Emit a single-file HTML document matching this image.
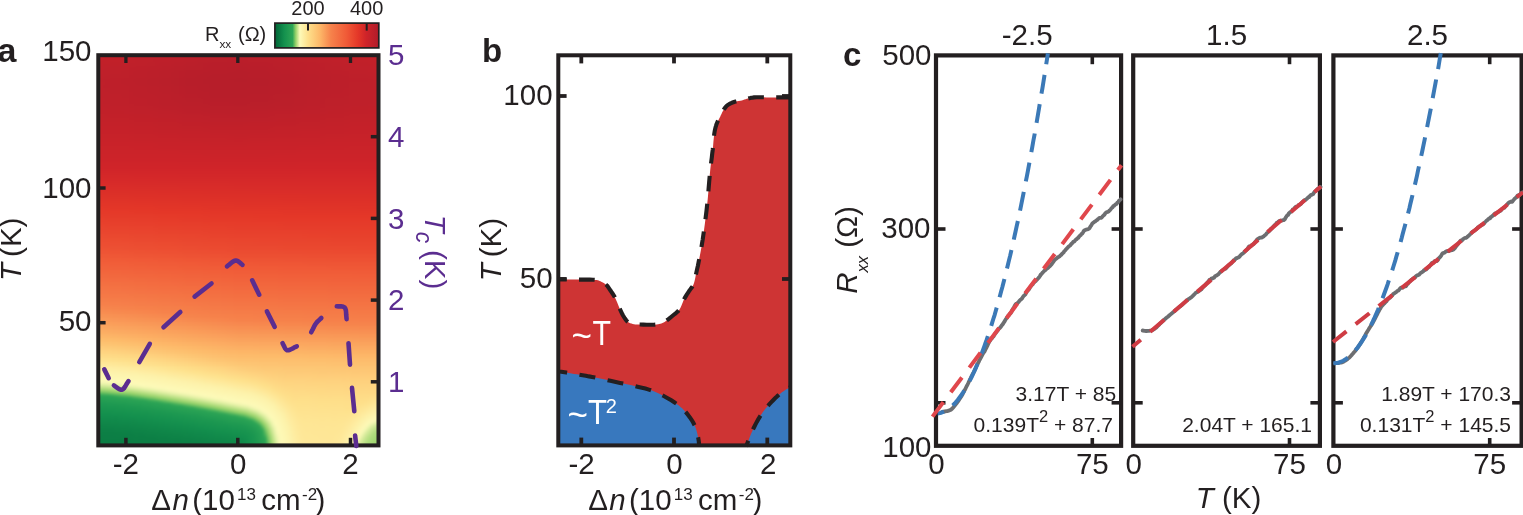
<!DOCTYPE html>
<html lang="en"><head><meta charset="utf-8"><title>Figure</title>
<style>html,body{margin:0;padding:0;background:#fff;}body{width:1523px;height:515px;overflow:hidden;}svg{display:block;}</style></head>
<body>
<svg width="1523" height="515" viewBox="0 0 1523 515" font-family="'Liberation Sans', sans-serif" fill="#231f20">
<rect width="1523" height="515" fill="#ffffff"/>
<g id="panel-a">
<defs><linearGradient id="r0" x1="90" y1="0" x2="388" y2="0" gradientUnits="userSpaceOnUse"><stop offset="0" stop-color="#c22129"/><stop offset="0.08333" stop-color="#c22029"/><stop offset="0.1667" stop-color="#c02029"/><stop offset="0.25" stop-color="#bf202a"/><stop offset="0.3333" stop-color="#bd1f2a"/><stop offset="0.4167" stop-color="#bc1f2a"/><stop offset="0.5" stop-color="#bc1f2a"/><stop offset="0.5833" stop-color="#bc1f2a"/><stop offset="0.6667" stop-color="#be1f2a"/><stop offset="0.75" stop-color="#bf202a"/><stop offset="0.8333" stop-color="#c12029"/><stop offset="0.9167" stop-color="#c22029"/><stop offset="1" stop-color="#c32129"/></linearGradient><linearGradient id="r1" x1="90" y1="0" x2="388" y2="0" gradientUnits="userSpaceOnUse"><stop offset="0" stop-color="#c22129"/><stop offset="0.08333" stop-color="#c12029"/><stop offset="0.1667" stop-color="#c02029"/><stop offset="0.25" stop-color="#be202a"/><stop offset="0.3333" stop-color="#bd1f2a"/><stop offset="0.4167" stop-color="#bb1f2a"/><stop offset="0.5" stop-color="#bb1f2a"/><stop offset="0.5833" stop-color="#bc1f2a"/><stop offset="0.6667" stop-color="#bd1f2a"/><stop offset="0.75" stop-color="#bf202a"/><stop offset="0.8333" stop-color="#c12029"/><stop offset="0.9167" stop-color="#c22029"/><stop offset="1" stop-color="#c22129"/></linearGradient><linearGradient id="r2" x1="90" y1="0" x2="388" y2="0" gradientUnits="userSpaceOnUse"><stop offset="0" stop-color="#c22029"/><stop offset="0.08333" stop-color="#c12029"/><stop offset="0.1667" stop-color="#bf202a"/><stop offset="0.25" stop-color="#be1f2a"/><stop offset="0.3333" stop-color="#bc1f2a"/><stop offset="0.4167" stop-color="#ba1f2a"/><stop offset="0.5" stop-color="#ba1e2a"/><stop offset="0.5833" stop-color="#bb1f2a"/><stop offset="0.6667" stop-color="#bc1f2a"/><stop offset="0.75" stop-color="#be202a"/><stop offset="0.8333" stop-color="#c0202a"/><stop offset="0.9167" stop-color="#c12029"/><stop offset="1" stop-color="#c22029"/></linearGradient><linearGradient id="r3" x1="90" y1="0" x2="388" y2="0" gradientUnits="userSpaceOnUse"><stop offset="0" stop-color="#c12029"/><stop offset="0.08333" stop-color="#c02029"/><stop offset="0.1667" stop-color="#bf202a"/><stop offset="0.25" stop-color="#bd1f2a"/><stop offset="0.3333" stop-color="#bb1f2a"/><stop offset="0.4167" stop-color="#b91e2a"/><stop offset="0.5" stop-color="#b91e2a"/><stop offset="0.5833" stop-color="#ba1e2a"/><stop offset="0.6667" stop-color="#bb1f2a"/><stop offset="0.75" stop-color="#bd1f2a"/><stop offset="0.8333" stop-color="#bf202a"/><stop offset="0.9167" stop-color="#c02029"/><stop offset="1" stop-color="#c12029"/></linearGradient><linearGradient id="r4" x1="90" y1="0" x2="388" y2="0" gradientUnits="userSpaceOnUse"><stop offset="0" stop-color="#c02029"/><stop offset="0.08333" stop-color="#bf202a"/><stop offset="0.1667" stop-color="#be1f2a"/><stop offset="0.25" stop-color="#bc1f2a"/><stop offset="0.3333" stop-color="#ba1f2a"/><stop offset="0.4167" stop-color="#b91e2a"/><stop offset="0.5" stop-color="#b81e2a"/><stop offset="0.5833" stop-color="#b91e2a"/><stop offset="0.6667" stop-color="#bb1f2a"/><stop offset="0.75" stop-color="#bd1f2a"/><stop offset="0.8333" stop-color="#be202a"/><stop offset="0.9167" stop-color="#c0202a"/><stop offset="1" stop-color="#c12029"/></linearGradient><linearGradient id="r5" x1="90" y1="0" x2="388" y2="0" gradientUnits="userSpaceOnUse"><stop offset="0" stop-color="#c0202a"/><stop offset="0.08333" stop-color="#bf202a"/><stop offset="0.1667" stop-color="#bd1f2a"/><stop offset="0.25" stop-color="#bb1f2a"/><stop offset="0.3333" stop-color="#b91e2a"/><stop offset="0.4167" stop-color="#b81e2a"/><stop offset="0.5" stop-color="#b71e2a"/><stop offset="0.5833" stop-color="#b81e2a"/><stop offset="0.6667" stop-color="#ba1e2a"/><stop offset="0.75" stop-color="#bc1f2a"/><stop offset="0.8333" stop-color="#be1f2a"/><stop offset="0.9167" stop-color="#bf202a"/><stop offset="1" stop-color="#c0202a"/></linearGradient><linearGradient id="r6" x1="90" y1="0" x2="388" y2="0" gradientUnits="userSpaceOnUse"><stop offset="0" stop-color="#bf202a"/><stop offset="0.08333" stop-color="#be202a"/><stop offset="0.1667" stop-color="#bd1f2a"/><stop offset="0.25" stop-color="#bb1f2a"/><stop offset="0.3333" stop-color="#b91e2a"/><stop offset="0.4167" stop-color="#b71e2a"/><stop offset="0.5" stop-color="#b71e2a"/><stop offset="0.5833" stop-color="#b81e2a"/><stop offset="0.6667" stop-color="#b91e2a"/><stop offset="0.75" stop-color="#bb1f2a"/><stop offset="0.8333" stop-color="#bd1f2a"/><stop offset="0.9167" stop-color="#be202a"/><stop offset="1" stop-color="#bf202a"/></linearGradient><linearGradient id="r7" x1="90" y1="0" x2="388" y2="0" gradientUnits="userSpaceOnUse"><stop offset="0" stop-color="#be202a"/><stop offset="0.08333" stop-color="#be1f2a"/><stop offset="0.1667" stop-color="#bc1f2a"/><stop offset="0.25" stop-color="#ba1f2a"/><stop offset="0.3333" stop-color="#b81e2a"/><stop offset="0.4167" stop-color="#b71e2a"/><stop offset="0.5" stop-color="#b61e2a"/><stop offset="0.5833" stop-color="#b71e2a"/><stop offset="0.6667" stop-color="#b91e2a"/><stop offset="0.75" stop-color="#bb1f2a"/><stop offset="0.8333" stop-color="#bd1f2a"/><stop offset="0.9167" stop-color="#be1f2a"/><stop offset="1" stop-color="#bf202a"/></linearGradient><linearGradient id="r8" x1="90" y1="0" x2="388" y2="0" gradientUnits="userSpaceOnUse"><stop offset="0" stop-color="#bf202a"/><stop offset="0.08333" stop-color="#be1f2a"/><stop offset="0.1667" stop-color="#bc1f2a"/><stop offset="0.25" stop-color="#ba1f2a"/><stop offset="0.3333" stop-color="#b81e2a"/><stop offset="0.4167" stop-color="#b71e2a"/><stop offset="0.5" stop-color="#b71e2a"/><stop offset="0.5833" stop-color="#b71e2a"/><stop offset="0.6667" stop-color="#b91e2a"/><stop offset="0.75" stop-color="#bb1f2a"/><stop offset="0.8333" stop-color="#bd1f2a"/><stop offset="0.9167" stop-color="#be202a"/><stop offset="1" stop-color="#bf202a"/></linearGradient><linearGradient id="r9" x1="90" y1="0" x2="388" y2="0" gradientUnits="userSpaceOnUse"><stop offset="0" stop-color="#bf202a"/><stop offset="0.08333" stop-color="#be1f2a"/><stop offset="0.1667" stop-color="#bd1f2a"/><stop offset="0.25" stop-color="#bb1f2a"/><stop offset="0.3333" stop-color="#b91e2a"/><stop offset="0.4167" stop-color="#b71e2a"/><stop offset="0.5" stop-color="#b71e2a"/><stop offset="0.5833" stop-color="#b81e2a"/><stop offset="0.6667" stop-color="#b91e2a"/><stop offset="0.75" stop-color="#bb1f2a"/><stop offset="0.8333" stop-color="#bd1f2a"/><stop offset="0.9167" stop-color="#be202a"/><stop offset="1" stop-color="#bf202a"/></linearGradient><linearGradient id="r10" x1="90" y1="0" x2="388" y2="0" gradientUnits="userSpaceOnUse"><stop offset="0" stop-color="#bf202a"/><stop offset="0.08333" stop-color="#be202a"/><stop offset="0.1667" stop-color="#bd1f2a"/><stop offset="0.25" stop-color="#bb1f2a"/><stop offset="0.3333" stop-color="#b91e2a"/><stop offset="0.4167" stop-color="#b81e2a"/><stop offset="0.5" stop-color="#b81e2a"/><stop offset="0.5833" stop-color="#b81e2a"/><stop offset="0.6667" stop-color="#ba1e2a"/><stop offset="0.75" stop-color="#bc1f2a"/><stop offset="0.8333" stop-color="#bd1f2a"/><stop offset="0.9167" stop-color="#bf202a"/><stop offset="1" stop-color="#bf202a"/></linearGradient><linearGradient id="r11" x1="90" y1="0" x2="388" y2="0" gradientUnits="userSpaceOnUse"><stop offset="0" stop-color="#bf202a"/><stop offset="0.08333" stop-color="#bf202a"/><stop offset="0.1667" stop-color="#bd1f2a"/><stop offset="0.25" stop-color="#bc1f2a"/><stop offset="0.3333" stop-color="#ba1e2a"/><stop offset="0.4167" stop-color="#b81e2a"/><stop offset="0.5" stop-color="#b81e2a"/><stop offset="0.5833" stop-color="#b91e2a"/><stop offset="0.6667" stop-color="#ba1f2a"/><stop offset="0.75" stop-color="#bc1f2a"/><stop offset="0.8333" stop-color="#be1f2a"/><stop offset="0.9167" stop-color="#bf202a"/><stop offset="1" stop-color="#c0202a"/></linearGradient><linearGradient id="r12" x1="90" y1="0" x2="388" y2="0" gradientUnits="userSpaceOnUse"><stop offset="0" stop-color="#c0202a"/><stop offset="0.08333" stop-color="#bf202a"/><stop offset="0.1667" stop-color="#be1f2a"/><stop offset="0.25" stop-color="#bc1f2a"/><stop offset="0.3333" stop-color="#ba1f2a"/><stop offset="0.4167" stop-color="#b91e2a"/><stop offset="0.5" stop-color="#b91e2a"/><stop offset="0.5833" stop-color="#b91e2a"/><stop offset="0.6667" stop-color="#bb1f2a"/><stop offset="0.75" stop-color="#bd1f2a"/><stop offset="0.8333" stop-color="#be202a"/><stop offset="0.9167" stop-color="#bf202a"/><stop offset="1" stop-color="#c0202a"/></linearGradient><linearGradient id="r13" x1="90" y1="0" x2="388" y2="0" gradientUnits="userSpaceOnUse"><stop offset="0" stop-color="#c0202a"/><stop offset="0.08333" stop-color="#bf202a"/><stop offset="0.1667" stop-color="#be1f2a"/><stop offset="0.25" stop-color="#bc1f2a"/><stop offset="0.3333" stop-color="#bb1f2a"/><stop offset="0.4167" stop-color="#ba1e2a"/><stop offset="0.5" stop-color="#b91e2a"/><stop offset="0.5833" stop-color="#ba1f2a"/><stop offset="0.6667" stop-color="#bb1f2a"/><stop offset="0.75" stop-color="#bd1f2a"/><stop offset="0.8333" stop-color="#be202a"/><stop offset="0.9167" stop-color="#bf202a"/><stop offset="1" stop-color="#c02029"/></linearGradient><linearGradient id="r14" x1="90" y1="0" x2="388" y2="0" gradientUnits="userSpaceOnUse"><stop offset="0" stop-color="#c12029"/><stop offset="0.08333" stop-color="#c0202a"/><stop offset="0.1667" stop-color="#bf202a"/><stop offset="0.25" stop-color="#bd1f2a"/><stop offset="0.3333" stop-color="#bc1f2a"/><stop offset="0.4167" stop-color="#bb1f2a"/><stop offset="0.5" stop-color="#bb1f2a"/><stop offset="0.5833" stop-color="#bb1f2a"/><stop offset="0.6667" stop-color="#bc1f2a"/><stop offset="0.75" stop-color="#be1f2a"/><stop offset="0.8333" stop-color="#bf202a"/><stop offset="0.9167" stop-color="#c02029"/><stop offset="1" stop-color="#c12029"/></linearGradient><linearGradient id="r15" x1="90" y1="0" x2="388" y2="0" gradientUnits="userSpaceOnUse"><stop offset="0" stop-color="#c12029"/><stop offset="0.08333" stop-color="#c12029"/><stop offset="0.1667" stop-color="#c0202a"/><stop offset="0.25" stop-color="#bf202a"/><stop offset="0.3333" stop-color="#bd1f2a"/><stop offset="0.4167" stop-color="#bc1f2a"/><stop offset="0.5" stop-color="#bc1f2a"/><stop offset="0.5833" stop-color="#bd1f2a"/><stop offset="0.6667" stop-color="#be1f2a"/><stop offset="0.75" stop-color="#bf202a"/><stop offset="0.8333" stop-color="#c02029"/><stop offset="0.9167" stop-color="#c12029"/><stop offset="1" stop-color="#c22029"/></linearGradient><linearGradient id="r16" x1="90" y1="0" x2="388" y2="0" gradientUnits="userSpaceOnUse"><stop offset="0" stop-color="#c22129"/><stop offset="0.08333" stop-color="#c22029"/><stop offset="0.1667" stop-color="#c12029"/><stop offset="0.25" stop-color="#c0202a"/><stop offset="0.3333" stop-color="#bf202a"/><stop offset="0.4167" stop-color="#be1f2a"/><stop offset="0.5" stop-color="#bd1f2a"/><stop offset="0.5833" stop-color="#be1f2a"/><stop offset="0.6667" stop-color="#bf202a"/><stop offset="0.75" stop-color="#c02029"/><stop offset="0.8333" stop-color="#c12029"/><stop offset="0.9167" stop-color="#c22129"/><stop offset="1" stop-color="#c22129"/></linearGradient><linearGradient id="r17" x1="90" y1="0" x2="388" y2="0" gradientUnits="userSpaceOnUse"><stop offset="0" stop-color="#c32129"/><stop offset="0.08333" stop-color="#c32129"/><stop offset="0.1667" stop-color="#c22029"/><stop offset="0.25" stop-color="#c12029"/><stop offset="0.3333" stop-color="#c0202a"/><stop offset="0.4167" stop-color="#bf202a"/><stop offset="0.5" stop-color="#bf202a"/><stop offset="0.5833" stop-color="#bf202a"/><stop offset="0.6667" stop-color="#c02029"/><stop offset="0.75" stop-color="#c12029"/><stop offset="0.8333" stop-color="#c22129"/><stop offset="0.9167" stop-color="#c32129"/><stop offset="1" stop-color="#c32129"/></linearGradient><linearGradient id="r18" x1="90" y1="0" x2="388" y2="0" gradientUnits="userSpaceOnUse"><stop offset="0" stop-color="#c42129"/><stop offset="0.08333" stop-color="#c42129"/><stop offset="0.1667" stop-color="#c32129"/><stop offset="0.25" stop-color="#c22129"/><stop offset="0.3333" stop-color="#c12029"/><stop offset="0.4167" stop-color="#c02029"/><stop offset="0.5" stop-color="#c02029"/><stop offset="0.5833" stop-color="#c12029"/><stop offset="0.6667" stop-color="#c12029"/><stop offset="0.75" stop-color="#c22129"/><stop offset="0.8333" stop-color="#c32129"/><stop offset="0.9167" stop-color="#c42129"/><stop offset="1" stop-color="#c42129"/></linearGradient><linearGradient id="r19" x1="90" y1="0" x2="388" y2="0" gradientUnits="userSpaceOnUse"><stop offset="0" stop-color="#c52129"/><stop offset="0.08333" stop-color="#c52129"/><stop offset="0.1667" stop-color="#c42129"/><stop offset="0.25" stop-color="#c32129"/><stop offset="0.3333" stop-color="#c22129"/><stop offset="0.4167" stop-color="#c22029"/><stop offset="0.5" stop-color="#c22029"/><stop offset="0.5833" stop-color="#c22029"/><stop offset="0.6667" stop-color="#c32129"/><stop offset="0.75" stop-color="#c32129"/><stop offset="0.8333" stop-color="#c42129"/><stop offset="0.9167" stop-color="#c52129"/><stop offset="1" stop-color="#c52129"/></linearGradient><linearGradient id="r20" x1="90" y1="0" x2="388" y2="0" gradientUnits="userSpaceOnUse"><stop offset="0" stop-color="#c62129"/><stop offset="0.08333" stop-color="#c62129"/><stop offset="0.1667" stop-color="#c52129"/><stop offset="0.25" stop-color="#c42129"/><stop offset="0.3333" stop-color="#c42129"/><stop offset="0.4167" stop-color="#c32129"/><stop offset="0.5" stop-color="#c32129"/><stop offset="0.5833" stop-color="#c32129"/><stop offset="0.6667" stop-color="#c42129"/><stop offset="0.75" stop-color="#c52129"/><stop offset="0.8333" stop-color="#c52129"/><stop offset="0.9167" stop-color="#c62129"/><stop offset="1" stop-color="#c62229"/></linearGradient><linearGradient id="r21" x1="90" y1="0" x2="388" y2="0" gradientUnits="userSpaceOnUse"><stop offset="0" stop-color="#c72229"/><stop offset="0.08333" stop-color="#c72229"/><stop offset="0.1667" stop-color="#c62229"/><stop offset="0.25" stop-color="#c62129"/><stop offset="0.3333" stop-color="#c52129"/><stop offset="0.4167" stop-color="#c52129"/><stop offset="0.5" stop-color="#c42129"/><stop offset="0.5833" stop-color="#c52129"/><stop offset="0.6667" stop-color="#c52129"/><stop offset="0.75" stop-color="#c62129"/><stop offset="0.8333" stop-color="#c62229"/><stop offset="0.9167" stop-color="#c72229"/><stop offset="1" stop-color="#c72229"/></linearGradient><linearGradient id="r22" x1="90" y1="0" x2="388" y2="0" gradientUnits="userSpaceOnUse"><stop offset="0" stop-color="#c82229"/><stop offset="0.08333" stop-color="#c82229"/><stop offset="0.1667" stop-color="#c72229"/><stop offset="0.25" stop-color="#c72229"/><stop offset="0.3333" stop-color="#c62229"/><stop offset="0.4167" stop-color="#c62229"/><stop offset="0.5" stop-color="#c62129"/><stop offset="0.5833" stop-color="#c62229"/><stop offset="0.6667" stop-color="#c72229"/><stop offset="0.75" stop-color="#c72229"/><stop offset="0.8333" stop-color="#c82229"/><stop offset="0.9167" stop-color="#c82229"/><stop offset="1" stop-color="#c82229"/></linearGradient><linearGradient id="r23" x1="90" y1="0" x2="388" y2="0" gradientUnits="userSpaceOnUse"><stop offset="0" stop-color="#c92229"/><stop offset="0.08333" stop-color="#c92229"/><stop offset="0.1667" stop-color="#c92229"/><stop offset="0.25" stop-color="#c82229"/><stop offset="0.3333" stop-color="#c82229"/><stop offset="0.4167" stop-color="#c72229"/><stop offset="0.5" stop-color="#c72229"/><stop offset="0.5833" stop-color="#c82229"/><stop offset="0.6667" stop-color="#c82229"/><stop offset="0.75" stop-color="#c82229"/><stop offset="0.8333" stop-color="#c92229"/><stop offset="0.9167" stop-color="#c92229"/><stop offset="1" stop-color="#c92229"/></linearGradient><linearGradient id="r24" x1="90" y1="0" x2="388" y2="0" gradientUnits="userSpaceOnUse"><stop offset="0" stop-color="#ca2329"/><stop offset="0.08333" stop-color="#ca2329"/><stop offset="0.1667" stop-color="#ca2229"/><stop offset="0.25" stop-color="#c92229"/><stop offset="0.3333" stop-color="#c92229"/><stop offset="0.4167" stop-color="#c92229"/><stop offset="0.5" stop-color="#c92229"/><stop offset="0.5833" stop-color="#c92229"/><stop offset="0.6667" stop-color="#c92229"/><stop offset="0.75" stop-color="#ca2229"/><stop offset="0.8333" stop-color="#ca2229"/><stop offset="0.9167" stop-color="#ca2329"/><stop offset="1" stop-color="#ca2329"/></linearGradient><linearGradient id="r25" x1="90" y1="0" x2="388" y2="0" gradientUnits="userSpaceOnUse"><stop offset="0" stop-color="#cb2329"/><stop offset="0.08333" stop-color="#cb2329"/><stop offset="0.1667" stop-color="#cb2329"/><stop offset="0.25" stop-color="#cb2329"/><stop offset="0.3333" stop-color="#ca2329"/><stop offset="0.4167" stop-color="#ca2329"/><stop offset="0.5" stop-color="#ca2329"/><stop offset="0.5833" stop-color="#ca2329"/><stop offset="0.6667" stop-color="#ca2329"/><stop offset="0.75" stop-color="#cb2329"/><stop offset="0.8333" stop-color="#cb2329"/><stop offset="0.9167" stop-color="#cb2329"/><stop offset="1" stop-color="#cb2329"/></linearGradient><linearGradient id="r26" x1="90" y1="0" x2="388" y2="0" gradientUnits="userSpaceOnUse"><stop offset="0" stop-color="#cc2329"/><stop offset="0.08333" stop-color="#cc2329"/><stop offset="0.1667" stop-color="#cc2329"/><stop offset="0.25" stop-color="#cc2329"/><stop offset="0.3333" stop-color="#cc2329"/><stop offset="0.4167" stop-color="#cb2329"/><stop offset="0.5" stop-color="#cb2329"/><stop offset="0.5833" stop-color="#cb2329"/><stop offset="0.6667" stop-color="#cc2329"/><stop offset="0.75" stop-color="#cc2329"/><stop offset="0.8333" stop-color="#cc2329"/><stop offset="0.9167" stop-color="#cc2329"/><stop offset="1" stop-color="#cc2329"/></linearGradient><linearGradient id="r27" x1="90" y1="0" x2="388" y2="0" gradientUnits="userSpaceOnUse"><stop offset="0" stop-color="#cd2329"/><stop offset="0.08333" stop-color="#cd2329"/><stop offset="0.1667" stop-color="#cd2329"/><stop offset="0.25" stop-color="#cd2329"/><stop offset="0.3333" stop-color="#cd2329"/><stop offset="0.4167" stop-color="#cd2329"/><stop offset="0.5" stop-color="#cd2329"/><stop offset="0.5833" stop-color="#cd2329"/><stop offset="0.6667" stop-color="#cd2329"/><stop offset="0.75" stop-color="#cd2329"/><stop offset="0.8333" stop-color="#cd2329"/><stop offset="0.9167" stop-color="#cd2329"/><stop offset="1" stop-color="#cd2329"/></linearGradient><linearGradient id="r28" x1="90" y1="0" x2="388" y2="0" gradientUnits="userSpaceOnUse"><stop offset="0" stop-color="#cf2429"/><stop offset="0.08333" stop-color="#cf2429"/><stop offset="0.1667" stop-color="#cf2429"/><stop offset="0.25" stop-color="#cf2429"/><stop offset="0.3333" stop-color="#ce2429"/><stop offset="0.4167" stop-color="#ce2429"/><stop offset="0.5" stop-color="#ce2429"/><stop offset="0.5833" stop-color="#ce2429"/><stop offset="0.6667" stop-color="#ce2429"/><stop offset="0.75" stop-color="#cf2429"/><stop offset="0.8333" stop-color="#cf2429"/><stop offset="0.9167" stop-color="#cf2429"/><stop offset="1" stop-color="#cf2429"/></linearGradient><linearGradient id="r29" x1="90" y1="0" x2="388" y2="0" gradientUnits="userSpaceOnUse"><stop offset="0" stop-color="#d02429"/><stop offset="0.08333" stop-color="#d02429"/><stop offset="0.1667" stop-color="#d02429"/><stop offset="0.25" stop-color="#d02429"/><stop offset="0.3333" stop-color="#d02429"/><stop offset="0.4167" stop-color="#d02429"/><stop offset="0.5" stop-color="#d02429"/><stop offset="0.5833" stop-color="#d02429"/><stop offset="0.6667" stop-color="#d02429"/><stop offset="0.75" stop-color="#d02429"/><stop offset="0.8333" stop-color="#d02429"/><stop offset="0.9167" stop-color="#d02429"/><stop offset="1" stop-color="#d02429"/></linearGradient><linearGradient id="r30" x1="90" y1="0" x2="388" y2="0" gradientUnits="userSpaceOnUse"><stop offset="0" stop-color="#d22629"/><stop offset="0.08333" stop-color="#d22629"/><stop offset="0.1667" stop-color="#d22629"/><stop offset="0.25" stop-color="#d22629"/><stop offset="0.3333" stop-color="#d22629"/><stop offset="0.4167" stop-color="#d22629"/><stop offset="0.5" stop-color="#d22629"/><stop offset="0.5833" stop-color="#d22629"/><stop offset="0.6667" stop-color="#d22629"/><stop offset="0.75" stop-color="#d22629"/><stop offset="0.8333" stop-color="#d22629"/><stop offset="0.9167" stop-color="#d22629"/><stop offset="1" stop-color="#d22629"/></linearGradient><linearGradient id="r31" x1="90" y1="0" x2="388" y2="0" gradientUnits="userSpaceOnUse"><stop offset="0" stop-color="#d42829"/><stop offset="0.08333" stop-color="#d42829"/><stop offset="0.1667" stop-color="#d42729"/><stop offset="0.25" stop-color="#d42729"/><stop offset="0.3333" stop-color="#d32729"/><stop offset="0.4167" stop-color="#d32729"/><stop offset="0.5" stop-color="#d32729"/><stop offset="0.5833" stop-color="#d32729"/><stop offset="0.6667" stop-color="#d32729"/><stop offset="0.75" stop-color="#d42729"/><stop offset="0.8333" stop-color="#d42729"/><stop offset="0.9167" stop-color="#d42729"/><stop offset="1" stop-color="#d42729"/></linearGradient><linearGradient id="r32" x1="90" y1="0" x2="388" y2="0" gradientUnits="userSpaceOnUse"><stop offset="0" stop-color="#d62929"/><stop offset="0.08333" stop-color="#d62929"/><stop offset="0.1667" stop-color="#d62929"/><stop offset="0.25" stop-color="#d52929"/><stop offset="0.3333" stop-color="#d52929"/><stop offset="0.4167" stop-color="#d52929"/><stop offset="0.5" stop-color="#d52929"/><stop offset="0.5833" stop-color="#d52929"/><stop offset="0.6667" stop-color="#d52929"/><stop offset="0.75" stop-color="#d52929"/><stop offset="0.8333" stop-color="#d52929"/><stop offset="0.9167" stop-color="#d52929"/><stop offset="1" stop-color="#d52929"/></linearGradient><linearGradient id="r33" x1="90" y1="0" x2="388" y2="0" gradientUnits="userSpaceOnUse"><stop offset="0" stop-color="#d82b29"/><stop offset="0.08333" stop-color="#d82b29"/><stop offset="0.1667" stop-color="#d72b29"/><stop offset="0.25" stop-color="#d72b29"/><stop offset="0.3333" stop-color="#d72b29"/><stop offset="0.4167" stop-color="#d72b29"/><stop offset="0.5" stop-color="#d72a29"/><stop offset="0.5833" stop-color="#d72a29"/><stop offset="0.6667" stop-color="#d72a29"/><stop offset="0.75" stop-color="#d72a29"/><stop offset="0.8333" stop-color="#d72a29"/><stop offset="0.9167" stop-color="#d72a29"/><stop offset="1" stop-color="#d72a29"/></linearGradient><linearGradient id="r34" x1="90" y1="0" x2="388" y2="0" gradientUnits="userSpaceOnUse"><stop offset="0" stop-color="#da2d29"/><stop offset="0.08333" stop-color="#da2d29"/><stop offset="0.1667" stop-color="#d92d29"/><stop offset="0.25" stop-color="#d92d29"/><stop offset="0.3333" stop-color="#d92c29"/><stop offset="0.4167" stop-color="#d92c29"/><stop offset="0.5" stop-color="#d82c29"/><stop offset="0.5833" stop-color="#d82c29"/><stop offset="0.6667" stop-color="#d82c29"/><stop offset="0.75" stop-color="#d82c29"/><stop offset="0.8333" stop-color="#d82c29"/><stop offset="0.9167" stop-color="#d82c29"/><stop offset="1" stop-color="#d82c29"/></linearGradient><linearGradient id="r35" x1="90" y1="0" x2="388" y2="0" gradientUnits="userSpaceOnUse"><stop offset="0" stop-color="#dc2f28"/><stop offset="0.08333" stop-color="#db2f28"/><stop offset="0.1667" stop-color="#db2f28"/><stop offset="0.25" stop-color="#db2e28"/><stop offset="0.3333" stop-color="#db2e28"/><stop offset="0.4167" stop-color="#da2e28"/><stop offset="0.5" stop-color="#da2e28"/><stop offset="0.5833" stop-color="#da2d29"/><stop offset="0.6667" stop-color="#da2d29"/><stop offset="0.75" stop-color="#da2d29"/><stop offset="0.8333" stop-color="#da2d29"/><stop offset="0.9167" stop-color="#da2d29"/><stop offset="1" stop-color="#da2d29"/></linearGradient><linearGradient id="r36" x1="90" y1="0" x2="388" y2="0" gradientUnits="userSpaceOnUse"><stop offset="0" stop-color="#de3128"/><stop offset="0.08333" stop-color="#dd3128"/><stop offset="0.1667" stop-color="#dd3028"/><stop offset="0.25" stop-color="#dd3028"/><stop offset="0.3333" stop-color="#dc3028"/><stop offset="0.4167" stop-color="#dc2f28"/><stop offset="0.5" stop-color="#dc2f28"/><stop offset="0.5833" stop-color="#dc2f28"/><stop offset="0.6667" stop-color="#dc2f28"/><stop offset="0.75" stop-color="#db2f28"/><stop offset="0.8333" stop-color="#db2f28"/><stop offset="0.9167" stop-color="#db2f28"/><stop offset="1" stop-color="#db2f28"/></linearGradient><linearGradient id="r37" x1="90" y1="0" x2="388" y2="0" gradientUnits="userSpaceOnUse"><stop offset="0" stop-color="#e03328"/><stop offset="0.08333" stop-color="#df3328"/><stop offset="0.1667" stop-color="#df3228"/><stop offset="0.25" stop-color="#de3228"/><stop offset="0.3333" stop-color="#de3128"/><stop offset="0.4167" stop-color="#de3128"/><stop offset="0.5" stop-color="#dd3128"/><stop offset="0.5833" stop-color="#dd3128"/><stop offset="0.6667" stop-color="#dd3028"/><stop offset="0.75" stop-color="#dd3028"/><stop offset="0.8333" stop-color="#dd3028"/><stop offset="0.9167" stop-color="#dd3028"/><stop offset="1" stop-color="#dd3028"/></linearGradient><linearGradient id="r38" x1="90" y1="0" x2="388" y2="0" gradientUnits="userSpaceOnUse"><stop offset="0" stop-color="#e23528"/><stop offset="0.08333" stop-color="#e13528"/><stop offset="0.1667" stop-color="#e13428"/><stop offset="0.25" stop-color="#e03428"/><stop offset="0.3333" stop-color="#e03328"/><stop offset="0.4167" stop-color="#e03328"/><stop offset="0.5" stop-color="#df3228"/><stop offset="0.5833" stop-color="#df3228"/><stop offset="0.6667" stop-color="#df3228"/><stop offset="0.75" stop-color="#df3228"/><stop offset="0.8333" stop-color="#df3228"/><stop offset="0.9167" stop-color="#df3228"/><stop offset="1" stop-color="#de3228"/></linearGradient><linearGradient id="r39" x1="90" y1="0" x2="388" y2="0" gradientUnits="userSpaceOnUse"><stop offset="0" stop-color="#e43728"/><stop offset="0.08333" stop-color="#e33628"/><stop offset="0.1667" stop-color="#e33628"/><stop offset="0.25" stop-color="#e23528"/><stop offset="0.3333" stop-color="#e23528"/><stop offset="0.4167" stop-color="#e13428"/><stop offset="0.5" stop-color="#e13428"/><stop offset="0.5833" stop-color="#e13428"/><stop offset="0.6667" stop-color="#e13428"/><stop offset="0.75" stop-color="#e03428"/><stop offset="0.8333" stop-color="#e03428"/><stop offset="0.9167" stop-color="#e03328"/><stop offset="1" stop-color="#e03328"/></linearGradient><linearGradient id="r40" x1="90" y1="0" x2="388" y2="0" gradientUnits="userSpaceOnUse"><stop offset="0" stop-color="#e53a29"/><stop offset="0.08333" stop-color="#e53929"/><stop offset="0.1667" stop-color="#e43828"/><stop offset="0.25" stop-color="#e43728"/><stop offset="0.3333" stop-color="#e43728"/><stop offset="0.4167" stop-color="#e33628"/><stop offset="0.5" stop-color="#e33628"/><stop offset="0.5833" stop-color="#e33628"/><stop offset="0.6667" stop-color="#e23528"/><stop offset="0.75" stop-color="#e23528"/><stop offset="0.8333" stop-color="#e23528"/><stop offset="0.9167" stop-color="#e23528"/><stop offset="1" stop-color="#e23528"/></linearGradient><linearGradient id="r41" x1="90" y1="0" x2="388" y2="0" gradientUnits="userSpaceOnUse"><stop offset="0" stop-color="#e63c2a"/><stop offset="0.08333" stop-color="#e53b2a"/><stop offset="0.1667" stop-color="#e53b2a"/><stop offset="0.25" stop-color="#e53a29"/><stop offset="0.3333" stop-color="#e53929"/><stop offset="0.4167" stop-color="#e43829"/><stop offset="0.5" stop-color="#e43828"/><stop offset="0.5833" stop-color="#e43728"/><stop offset="0.6667" stop-color="#e43728"/><stop offset="0.75" stop-color="#e43728"/><stop offset="0.8333" stop-color="#e43728"/><stop offset="0.9167" stop-color="#e43728"/><stop offset="1" stop-color="#e43728"/></linearGradient><linearGradient id="r42" x1="90" y1="0" x2="388" y2="0" gradientUnits="userSpaceOnUse"><stop offset="0" stop-color="#e73f2b"/><stop offset="0.08333" stop-color="#e63e2b"/><stop offset="0.1667" stop-color="#e63d2b"/><stop offset="0.25" stop-color="#e63c2a"/><stop offset="0.3333" stop-color="#e53b2a"/><stop offset="0.4167" stop-color="#e53a29"/><stop offset="0.5" stop-color="#e53a29"/><stop offset="0.5833" stop-color="#e53929"/><stop offset="0.6667" stop-color="#e53929"/><stop offset="0.75" stop-color="#e53929"/><stop offset="0.8333" stop-color="#e53929"/><stop offset="0.9167" stop-color="#e53929"/><stop offset="1" stop-color="#e43829"/></linearGradient><linearGradient id="r43" x1="90" y1="0" x2="388" y2="0" gradientUnits="userSpaceOnUse"><stop offset="0" stop-color="#e8412c"/><stop offset="0.08333" stop-color="#e7402c"/><stop offset="0.1667" stop-color="#e73f2c"/><stop offset="0.25" stop-color="#e73e2b"/><stop offset="0.3333" stop-color="#e63e2b"/><stop offset="0.4167" stop-color="#e63d2a"/><stop offset="0.5" stop-color="#e63c2a"/><stop offset="0.5833" stop-color="#e63c2a"/><stop offset="0.6667" stop-color="#e53b2a"/><stop offset="0.75" stop-color="#e53b2a"/><stop offset="0.8333" stop-color="#e53b2a"/><stop offset="0.9167" stop-color="#e53b2a"/><stop offset="1" stop-color="#e53a29"/></linearGradient><linearGradient id="r44" x1="90" y1="0" x2="388" y2="0" gradientUnits="userSpaceOnUse"><stop offset="0" stop-color="#e8442e"/><stop offset="0.08333" stop-color="#e8432d"/><stop offset="0.1667" stop-color="#e8422d"/><stop offset="0.25" stop-color="#e7412c"/><stop offset="0.3333" stop-color="#e7402c"/><stop offset="0.4167" stop-color="#e73f2b"/><stop offset="0.5" stop-color="#e63e2b"/><stop offset="0.5833" stop-color="#e63e2b"/><stop offset="0.6667" stop-color="#e63d2b"/><stop offset="0.75" stop-color="#e63d2b"/><stop offset="0.8333" stop-color="#e63d2b"/><stop offset="0.9167" stop-color="#e63d2a"/><stop offset="1" stop-color="#e63c2a"/></linearGradient><linearGradient id="r45" x1="90" y1="0" x2="388" y2="0" gradientUnits="userSpaceOnUse"><stop offset="0" stop-color="#e9462f"/><stop offset="0.08333" stop-color="#e9452e"/><stop offset="0.1667" stop-color="#e9442e"/><stop offset="0.25" stop-color="#e8432d"/><stop offset="0.3333" stop-color="#e8422d"/><stop offset="0.4167" stop-color="#e7412c"/><stop offset="0.5" stop-color="#e7402c"/><stop offset="0.5833" stop-color="#e7402c"/><stop offset="0.6667" stop-color="#e7402c"/><stop offset="0.75" stop-color="#e73f2c"/><stop offset="0.8333" stop-color="#e73f2b"/><stop offset="0.9167" stop-color="#e73f2b"/><stop offset="1" stop-color="#e73f2b"/></linearGradient><linearGradient id="r46" x1="90" y1="0" x2="388" y2="0" gradientUnits="userSpaceOnUse"><stop offset="0" stop-color="#ea4930"/><stop offset="0.08333" stop-color="#ea482f"/><stop offset="0.1667" stop-color="#e9472f"/><stop offset="0.25" stop-color="#e9462e"/><stop offset="0.3333" stop-color="#e9452e"/><stop offset="0.4167" stop-color="#e8432d"/><stop offset="0.5" stop-color="#e8422d"/><stop offset="0.5833" stop-color="#e8422d"/><stop offset="0.6667" stop-color="#e8422d"/><stop offset="0.75" stop-color="#e8412c"/><stop offset="0.8333" stop-color="#e7412c"/><stop offset="0.9167" stop-color="#e7412c"/><stop offset="1" stop-color="#e7412c"/></linearGradient><linearGradient id="r47" x1="90" y1="0" x2="388" y2="0" gradientUnits="userSpaceOnUse"><stop offset="0" stop-color="#eb4c31"/><stop offset="0.08333" stop-color="#eb4b30"/><stop offset="0.1667" stop-color="#ea4930"/><stop offset="0.25" stop-color="#ea482f"/><stop offset="0.3333" stop-color="#e9472f"/><stop offset="0.4167" stop-color="#e9462e"/><stop offset="0.5" stop-color="#e9452e"/><stop offset="0.5833" stop-color="#e9442e"/><stop offset="0.6667" stop-color="#e8442e"/><stop offset="0.75" stop-color="#e8442d"/><stop offset="0.8333" stop-color="#e8432d"/><stop offset="0.9167" stop-color="#e8432d"/><stop offset="1" stop-color="#e8432d"/></linearGradient><linearGradient id="r48" x1="90" y1="0" x2="388" y2="0" gradientUnits="userSpaceOnUse"><stop offset="0" stop-color="#ec4e32"/><stop offset="0.08333" stop-color="#ec4d32"/><stop offset="0.1667" stop-color="#eb4c31"/><stop offset="0.25" stop-color="#eb4b30"/><stop offset="0.3333" stop-color="#ea4930"/><stop offset="0.4167" stop-color="#ea482f"/><stop offset="0.5" stop-color="#e9472f"/><stop offset="0.5833" stop-color="#e9462f"/><stop offset="0.6667" stop-color="#e9462e"/><stop offset="0.75" stop-color="#e9462e"/><stop offset="0.8333" stop-color="#e9452e"/><stop offset="0.9167" stop-color="#e9452e"/><stop offset="1" stop-color="#e9452e"/></linearGradient><linearGradient id="r49" x1="90" y1="0" x2="388" y2="0" gradientUnits="userSpaceOnUse"><stop offset="0" stop-color="#ed5133"/><stop offset="0.08333" stop-color="#ec5033"/><stop offset="0.1667" stop-color="#ec4e32"/><stop offset="0.25" stop-color="#ec4d31"/><stop offset="0.3333" stop-color="#eb4c31"/><stop offset="0.4167" stop-color="#eb4a30"/><stop offset="0.5" stop-color="#ea4930"/><stop offset="0.5833" stop-color="#ea4930"/><stop offset="0.6667" stop-color="#ea482f"/><stop offset="0.75" stop-color="#ea482f"/><stop offset="0.8333" stop-color="#ea482f"/><stop offset="0.9167" stop-color="#ea472f"/><stop offset="1" stop-color="#e9472f"/></linearGradient><linearGradient id="r50" x1="90" y1="0" x2="388" y2="0" gradientUnits="userSpaceOnUse"><stop offset="0" stop-color="#ee5535"/><stop offset="0.08333" stop-color="#ee5334"/><stop offset="0.1667" stop-color="#ed5233"/><stop offset="0.25" stop-color="#ed5033"/><stop offset="0.3333" stop-color="#ec4f32"/><stop offset="0.4167" stop-color="#ec4d32"/><stop offset="0.5" stop-color="#eb4c31"/><stop offset="0.5833" stop-color="#eb4c31"/><stop offset="0.6667" stop-color="#eb4b31"/><stop offset="0.75" stop-color="#eb4b30"/><stop offset="0.8333" stop-color="#eb4a30"/><stop offset="0.9167" stop-color="#eb4a30"/><stop offset="1" stop-color="#ea4a30"/></linearGradient><linearGradient id="r51" x1="90" y1="0" x2="388" y2="0" gradientUnits="userSpaceOnUse"><stop offset="0" stop-color="#ef5936"/><stop offset="0.08333" stop-color="#ef5736"/><stop offset="0.1667" stop-color="#ee5535"/><stop offset="0.25" stop-color="#ee5434"/><stop offset="0.3333" stop-color="#ed5234"/><stop offset="0.4167" stop-color="#ed5133"/><stop offset="0.5" stop-color="#ec4f32"/><stop offset="0.5833" stop-color="#ec4f32"/><stop offset="0.6667" stop-color="#ec4f32"/><stop offset="0.75" stop-color="#ec4e32"/><stop offset="0.8333" stop-color="#ec4e32"/><stop offset="0.9167" stop-color="#ec4e32"/><stop offset="1" stop-color="#ec4d32"/></linearGradient><linearGradient id="r52" x1="90" y1="0" x2="388" y2="0" gradientUnits="userSpaceOnUse"><stop offset="0" stop-color="#f05c38"/><stop offset="0.08333" stop-color="#f05b37"/><stop offset="0.1667" stop-color="#f05937"/><stop offset="0.25" stop-color="#ef5836"/><stop offset="0.3333" stop-color="#ef5635"/><stop offset="0.4167" stop-color="#ee5535"/><stop offset="0.5" stop-color="#ee5334"/><stop offset="0.5833" stop-color="#ed5334"/><stop offset="0.6667" stop-color="#ed5234"/><stop offset="0.75" stop-color="#ed5233"/><stop offset="0.8333" stop-color="#ed5133"/><stop offset="0.9167" stop-color="#ed5133"/><stop offset="1" stop-color="#ed5133"/></linearGradient><linearGradient id="r53" x1="90" y1="0" x2="388" y2="0" gradientUnits="userSpaceOnUse"><stop offset="0" stop-color="#f15f3a"/><stop offset="0.08333" stop-color="#f15e39"/><stop offset="0.1667" stop-color="#f05d38"/><stop offset="0.25" stop-color="#f05b38"/><stop offset="0.3333" stop-color="#f05a37"/><stop offset="0.4167" stop-color="#ef5836"/><stop offset="0.5" stop-color="#ef5736"/><stop offset="0.5833" stop-color="#ef5635"/><stop offset="0.6667" stop-color="#ef5635"/><stop offset="0.75" stop-color="#ee5535"/><stop offset="0.8333" stop-color="#ee5535"/><stop offset="0.9167" stop-color="#ee5535"/><stop offset="1" stop-color="#ee5434"/></linearGradient><linearGradient id="r54" x1="90" y1="0" x2="388" y2="0" gradientUnits="userSpaceOnUse"><stop offset="0" stop-color="#f1633b"/><stop offset="0.08333" stop-color="#f1613b"/><stop offset="0.1667" stop-color="#f1603a"/><stop offset="0.25" stop-color="#f15e39"/><stop offset="0.3333" stop-color="#f05d38"/><stop offset="0.4167" stop-color="#f05c38"/><stop offset="0.5" stop-color="#f05a37"/><stop offset="0.5833" stop-color="#f05a37"/><stop offset="0.6667" stop-color="#f05937"/><stop offset="0.75" stop-color="#f05937"/><stop offset="0.8333" stop-color="#ef5836"/><stop offset="0.9167" stop-color="#ef5836"/><stop offset="1" stop-color="#ef5836"/></linearGradient><linearGradient id="r55" x1="90" y1="0" x2="388" y2="0" gradientUnits="userSpaceOnUse"><stop offset="0" stop-color="#f2663d"/><stop offset="0.08333" stop-color="#f2653c"/><stop offset="0.1667" stop-color="#f1633c"/><stop offset="0.25" stop-color="#f1623b"/><stop offset="0.3333" stop-color="#f1603a"/><stop offset="0.4167" stop-color="#f15f39"/><stop offset="0.5" stop-color="#f05d39"/><stop offset="0.5833" stop-color="#f05d38"/><stop offset="0.6667" stop-color="#f05c38"/><stop offset="0.75" stop-color="#f05c38"/><stop offset="0.8333" stop-color="#f05c38"/><stop offset="0.9167" stop-color="#f05b38"/><stop offset="1" stop-color="#f05b37"/></linearGradient><linearGradient id="r56" x1="90" y1="0" x2="388" y2="0" gradientUnits="userSpaceOnUse"><stop offset="0" stop-color="#f26a3f"/><stop offset="0.08333" stop-color="#f2683e"/><stop offset="0.1667" stop-color="#f2663d"/><stop offset="0.25" stop-color="#f2653c"/><stop offset="0.3333" stop-color="#f1633c"/><stop offset="0.4167" stop-color="#f1623b"/><stop offset="0.5" stop-color="#f1603a"/><stop offset="0.5833" stop-color="#f1603a"/><stop offset="0.6667" stop-color="#f15f3a"/><stop offset="0.75" stop-color="#f15f39"/><stop offset="0.8333" stop-color="#f15f39"/><stop offset="0.9167" stop-color="#f15e39"/><stop offset="1" stop-color="#f15e39"/></linearGradient><linearGradient id="r57" x1="90" y1="0" x2="388" y2="0" gradientUnits="userSpaceOnUse"><stop offset="0" stop-color="#f36d40"/><stop offset="0.08333" stop-color="#f36b40"/><stop offset="0.1667" stop-color="#f26a3f"/><stop offset="0.25" stop-color="#f2683e"/><stop offset="0.3333" stop-color="#f2663d"/><stop offset="0.4167" stop-color="#f2653c"/><stop offset="0.5" stop-color="#f1633c"/><stop offset="0.5833" stop-color="#f1633b"/><stop offset="0.6667" stop-color="#f1623b"/><stop offset="0.75" stop-color="#f1623b"/><stop offset="0.8333" stop-color="#f1613b"/><stop offset="0.9167" stop-color="#f1613b"/><stop offset="1" stop-color="#f1613a"/></linearGradient><linearGradient id="r58" x1="90" y1="0" x2="388" y2="0" gradientUnits="userSpaceOnUse"><stop offset="0" stop-color="#f37042"/><stop offset="0.08333" stop-color="#f36f41"/><stop offset="0.1667" stop-color="#f36d40"/><stop offset="0.25" stop-color="#f36b40"/><stop offset="0.3333" stop-color="#f2693f"/><stop offset="0.4167" stop-color="#f2683e"/><stop offset="0.5" stop-color="#f2663d"/><stop offset="0.5833" stop-color="#f2663d"/><stop offset="0.6667" stop-color="#f2653d"/><stop offset="0.75" stop-color="#f2653c"/><stop offset="0.8333" stop-color="#f2643c"/><stop offset="0.9167" stop-color="#f1643c"/><stop offset="1" stop-color="#f1643c"/></linearGradient><linearGradient id="r59" x1="90" y1="0" x2="388" y2="0" gradientUnits="userSpaceOnUse"><stop offset="0" stop-color="#f47444"/><stop offset="0.08333" stop-color="#f47243"/><stop offset="0.1667" stop-color="#f37042"/><stop offset="0.25" stop-color="#f36e41"/><stop offset="0.3333" stop-color="#f36d40"/><stop offset="0.4167" stop-color="#f36b3f"/><stop offset="0.5" stop-color="#f2693f"/><stop offset="0.5833" stop-color="#f2693e"/><stop offset="0.6667" stop-color="#f2683e"/><stop offset="0.75" stop-color="#f2683e"/><stop offset="0.8333" stop-color="#f2673e"/><stop offset="0.9167" stop-color="#f2673d"/><stop offset="1" stop-color="#f2663d"/></linearGradient><linearGradient id="r60" x1="90" y1="0" x2="388" y2="0" gradientUnits="userSpaceOnUse"><stop offset="0" stop-color="#f47746"/><stop offset="0.08333" stop-color="#f47545"/><stop offset="0.1667" stop-color="#f47344"/><stop offset="0.25" stop-color="#f47143"/><stop offset="0.3333" stop-color="#f37042"/><stop offset="0.4167" stop-color="#f36e41"/><stop offset="0.5" stop-color="#f36c40"/><stop offset="0.5833" stop-color="#f36c40"/><stop offset="0.6667" stop-color="#f36b40"/><stop offset="0.75" stop-color="#f36b3f"/><stop offset="0.8333" stop-color="#f26a3f"/><stop offset="0.9167" stop-color="#f26a3f"/><stop offset="1" stop-color="#f2693f"/></linearGradient><linearGradient id="r61" x1="90" y1="0" x2="388" y2="0" gradientUnits="userSpaceOnUse"><stop offset="0" stop-color="#f57a47"/><stop offset="0.08333" stop-color="#f57846"/><stop offset="0.1667" stop-color="#f47745"/><stop offset="0.25" stop-color="#f47544"/><stop offset="0.3333" stop-color="#f47343"/><stop offset="0.4167" stop-color="#f37142"/><stop offset="0.5" stop-color="#f36f41"/><stop offset="0.5833" stop-color="#f36f41"/><stop offset="0.6667" stop-color="#f36e41"/><stop offset="0.75" stop-color="#f36e41"/><stop offset="0.8333" stop-color="#f36d41"/><stop offset="0.9167" stop-color="#f36d40"/><stop offset="1" stop-color="#f36c40"/></linearGradient><linearGradient id="r62" x1="90" y1="0" x2="388" y2="0" gradientUnits="userSpaceOnUse"><stop offset="0" stop-color="#f57e49"/><stop offset="0.08333" stop-color="#f57c48"/><stop offset="0.1667" stop-color="#f57a47"/><stop offset="0.25" stop-color="#f47846"/><stop offset="0.3333" stop-color="#f47645"/><stop offset="0.4167" stop-color="#f47444"/><stop offset="0.5" stop-color="#f47243"/><stop offset="0.5833" stop-color="#f47243"/><stop offset="0.6667" stop-color="#f37143"/><stop offset="0.75" stop-color="#f37142"/><stop offset="0.8333" stop-color="#f37042"/><stop offset="0.9167" stop-color="#f37042"/><stop offset="1" stop-color="#f36f42"/></linearGradient><linearGradient id="r63" x1="90" y1="0" x2="388" y2="0" gradientUnits="userSpaceOnUse"><stop offset="0" stop-color="#f6814b"/><stop offset="0.08333" stop-color="#f67f4a"/><stop offset="0.1667" stop-color="#f57d49"/><stop offset="0.25" stop-color="#f57b48"/><stop offset="0.3333" stop-color="#f57947"/><stop offset="0.4167" stop-color="#f47746"/><stop offset="0.5" stop-color="#f47545"/><stop offset="0.5833" stop-color="#f47544"/><stop offset="0.6667" stop-color="#f47444"/><stop offset="0.75" stop-color="#f47444"/><stop offset="0.8333" stop-color="#f47344"/><stop offset="0.9167" stop-color="#f47343"/><stop offset="1" stop-color="#f47243"/></linearGradient><linearGradient id="r64" x1="90" y1="0" x2="388" y2="0" gradientUnits="userSpaceOnUse"><stop offset="0" stop-color="#f7874e"/><stop offset="0.08333" stop-color="#f6844c"/><stop offset="0.1667" stop-color="#f6814a"/><stop offset="0.25" stop-color="#f57f49"/><stop offset="0.3333" stop-color="#f57d48"/><stop offset="0.4167" stop-color="#f57a47"/><stop offset="0.5" stop-color="#f57846"/><stop offset="0.5833" stop-color="#f47846"/><stop offset="0.6667" stop-color="#f47746"/><stop offset="0.75" stop-color="#f47745"/><stop offset="0.8333" stop-color="#f47645"/><stop offset="0.9167" stop-color="#f47645"/><stop offset="1" stop-color="#f47545"/></linearGradient><linearGradient id="r65" x1="90" y1="0" x2="388" y2="0" gradientUnits="userSpaceOnUse"><stop offset="0" stop-color="#f88e52"/><stop offset="0.08333" stop-color="#f78a4f"/><stop offset="0.1667" stop-color="#f7864d"/><stop offset="0.25" stop-color="#f6824b"/><stop offset="0.3333" stop-color="#f6804a"/><stop offset="0.4167" stop-color="#f57e49"/><stop offset="0.5" stop-color="#f57c48"/><stop offset="0.5833" stop-color="#f57b48"/><stop offset="0.6667" stop-color="#f57b47"/><stop offset="0.75" stop-color="#f57a47"/><stop offset="0.8333" stop-color="#f57a47"/><stop offset="0.9167" stop-color="#f57946"/><stop offset="1" stop-color="#f57846"/></linearGradient><linearGradient id="r66" x1="90" y1="0" x2="388" y2="0" gradientUnits="userSpaceOnUse"><stop offset="0" stop-color="#f89555"/><stop offset="0.08333" stop-color="#f89153"/><stop offset="0.1667" stop-color="#f78d51"/><stop offset="0.25" stop-color="#f7884e"/><stop offset="0.3333" stop-color="#f6844c"/><stop offset="0.4167" stop-color="#f6814a"/><stop offset="0.5" stop-color="#f67f49"/><stop offset="0.5833" stop-color="#f57e49"/><stop offset="0.6667" stop-color="#f57e49"/><stop offset="0.75" stop-color="#f57d49"/><stop offset="0.8333" stop-color="#f57d48"/><stop offset="0.9167" stop-color="#f57c48"/><stop offset="1" stop-color="#f57c48"/></linearGradient><linearGradient id="r67" x1="90" y1="0" x2="388" y2="0" gradientUnits="userSpaceOnUse"><stop offset="0" stop-color="#f99c59"/><stop offset="0.08333" stop-color="#f99757"/><stop offset="0.1667" stop-color="#f89354"/><stop offset="0.25" stop-color="#f88f52"/><stop offset="0.3333" stop-color="#f78a50"/><stop offset="0.4167" stop-color="#f7864d"/><stop offset="0.5" stop-color="#f6824b"/><stop offset="0.5833" stop-color="#f6814b"/><stop offset="0.6667" stop-color="#f6814a"/><stop offset="0.75" stop-color="#f6804a"/><stop offset="0.8333" stop-color="#f6804a"/><stop offset="0.9167" stop-color="#f67f4a"/><stop offset="1" stop-color="#f67f49"/></linearGradient><linearGradient id="r68" x1="90" y1="0" x2="388" y2="0" gradientUnits="userSpaceOnUse"><stop offset="0" stop-color="#faa35d"/><stop offset="0.08333" stop-color="#fa9e5a"/><stop offset="0.1667" stop-color="#f99a58"/><stop offset="0.25" stop-color="#f89656"/><stop offset="0.3333" stop-color="#f89153"/><stop offset="0.4167" stop-color="#f78d51"/><stop offset="0.5" stop-color="#f7884f"/><stop offset="0.5833" stop-color="#f7874e"/><stop offset="0.6667" stop-color="#f7864d"/><stop offset="0.75" stop-color="#f6854d"/><stop offset="0.8333" stop-color="#f6844c"/><stop offset="0.9167" stop-color="#f6834c"/><stop offset="1" stop-color="#f6824b"/></linearGradient><linearGradient id="r69" x1="90" y1="0" x2="388" y2="0" gradientUnits="userSpaceOnUse"><stop offset="0" stop-color="#fba961"/><stop offset="0.08333" stop-color="#faa55e"/><stop offset="0.1667" stop-color="#faa15c"/><stop offset="0.25" stop-color="#f99c59"/><stop offset="0.3333" stop-color="#f99857"/><stop offset="0.4167" stop-color="#f89354"/><stop offset="0.5" stop-color="#f88f52"/><stop offset="0.5833" stop-color="#f88e51"/><stop offset="0.6667" stop-color="#f78d51"/><stop offset="0.75" stop-color="#f78c50"/><stop offset="0.8333" stop-color="#f78b50"/><stop offset="0.9167" stop-color="#f78a4f"/><stop offset="1" stop-color="#f7894f"/></linearGradient><linearGradient id="r70" x1="90" y1="0" x2="388" y2="0" gradientUnits="userSpaceOnUse"><stop offset="0" stop-color="#fcb064"/><stop offset="0.08333" stop-color="#fbab62"/><stop offset="0.1667" stop-color="#fba75f"/><stop offset="0.25" stop-color="#faa35d"/><stop offset="0.3333" stop-color="#fa9e5a"/><stop offset="0.4167" stop-color="#f99a58"/><stop offset="0.5" stop-color="#f89556"/><stop offset="0.5833" stop-color="#f89455"/><stop offset="0.6667" stop-color="#f89354"/><stop offset="0.75" stop-color="#f89254"/><stop offset="0.8333" stop-color="#f89153"/><stop offset="0.9167" stop-color="#f89053"/><stop offset="1" stop-color="#f88f52"/></linearGradient><linearGradient id="r71" x1="90" y1="0" x2="388" y2="0" gradientUnits="userSpaceOnUse"><stop offset="0" stop-color="#fdb768"/><stop offset="0.08333" stop-color="#fcb366"/><stop offset="0.1667" stop-color="#fcae63"/><stop offset="0.25" stop-color="#fba960"/><stop offset="0.3333" stop-color="#faa55e"/><stop offset="0.4167" stop-color="#faa05c"/><stop offset="0.5" stop-color="#f99c59"/><stop offset="0.5833" stop-color="#f99b59"/><stop offset="0.6667" stop-color="#f99a58"/><stop offset="0.75" stop-color="#f99957"/><stop offset="0.8333" stop-color="#f99857"/><stop offset="0.9167" stop-color="#f99756"/><stop offset="1" stop-color="#f89656"/></linearGradient><linearGradient id="r72" x1="90" y1="0" x2="388" y2="0" gradientUnits="userSpaceOnUse"><stop offset="0" stop-color="#fdbe6d"/><stop offset="0.08333" stop-color="#fdbb6a"/><stop offset="0.1667" stop-color="#fdb567"/><stop offset="0.25" stop-color="#fcb064"/><stop offset="0.3333" stop-color="#fbab61"/><stop offset="0.4167" stop-color="#fba75f"/><stop offset="0.5" stop-color="#faa25d"/><stop offset="0.5833" stop-color="#faa15c"/><stop offset="0.6667" stop-color="#faa05c"/><stop offset="0.75" stop-color="#fa9f5b"/><stop offset="0.8333" stop-color="#fa9e5a"/><stop offset="0.9167" stop-color="#f99d5a"/><stop offset="1" stop-color="#f99c59"/></linearGradient><linearGradient id="r73" x1="90" y1="0" x2="388" y2="0" gradientUnits="userSpaceOnUse"><stop offset="0" stop-color="#fdc574"/><stop offset="0.08333" stop-color="#fdc270"/><stop offset="0.1667" stop-color="#fdbd6c"/><stop offset="0.25" stop-color="#fdb768"/><stop offset="0.3333" stop-color="#fcb265"/><stop offset="0.4167" stop-color="#fcad63"/><stop offset="0.5" stop-color="#fba960"/><stop offset="0.5833" stop-color="#fba860"/><stop offset="0.6667" stop-color="#fba75f"/><stop offset="0.75" stop-color="#fba65f"/><stop offset="0.8333" stop-color="#faa55e"/><stop offset="0.9167" stop-color="#faa45d"/><stop offset="1" stop-color="#faa35d"/></linearGradient><linearGradient id="r74" x1="90" y1="0" x2="388" y2="0" gradientUnits="userSpaceOnUse"><stop offset="0" stop-color="#fecd7b"/><stop offset="0.08333" stop-color="#fdca77"/><stop offset="0.1667" stop-color="#fdc473"/><stop offset="0.25" stop-color="#fdbe6d"/><stop offset="0.3333" stop-color="#fdb969"/><stop offset="0.4167" stop-color="#fcb466"/><stop offset="0.5" stop-color="#fcaf64"/><stop offset="0.5833" stop-color="#fcae63"/><stop offset="0.6667" stop-color="#fcad63"/><stop offset="0.75" stop-color="#fbac62"/><stop offset="0.8333" stop-color="#fbab61"/><stop offset="0.9167" stop-color="#fbaa61"/><stop offset="1" stop-color="#fba960"/></linearGradient><linearGradient id="r75" x1="90" y1="0" x2="388" y2="0" gradientUnits="userSpaceOnUse"><stop offset="0" stop-color="#fed582"/><stop offset="0.08333" stop-color="#fed27f"/><stop offset="0.1667" stop-color="#fdcc7a"/><stop offset="0.25" stop-color="#fdc574"/><stop offset="0.3333" stop-color="#fdbf6e"/><stop offset="0.4167" stop-color="#fdba6a"/><stop offset="0.5" stop-color="#fdb667"/><stop offset="0.5833" stop-color="#fcb567"/><stop offset="0.6667" stop-color="#fcb466"/><stop offset="0.75" stop-color="#fcb366"/><stop offset="0.8333" stop-color="#fcb265"/><stop offset="0.9167" stop-color="#fcb164"/><stop offset="1" stop-color="#fcb064"/></linearGradient><linearGradient id="r76" x1="90" y1="0" x2="388" y2="0" gradientUnits="userSpaceOnUse"><stop offset="0" stop-color="#fedc88"/><stop offset="0.08333" stop-color="#fed985"/><stop offset="0.1667" stop-color="#fed581"/><stop offset="0.25" stop-color="#fecd7b"/><stop offset="0.3333" stop-color="#fdc674"/><stop offset="0.4167" stop-color="#fdbf6f"/><stop offset="0.5" stop-color="#fdbb6b"/><stop offset="0.5833" stop-color="#fdbb6a"/><stop offset="0.6667" stop-color="#fdba6a"/><stop offset="0.75" stop-color="#fdb969"/><stop offset="0.8333" stop-color="#fdb869"/><stop offset="0.9167" stop-color="#fdb768"/><stop offset="1" stop-color="#fdb667"/></linearGradient><linearGradient id="r77" x1="90" y1="0" x2="388" y2="0" gradientUnits="userSpaceOnUse"><stop offset="0" stop-color="#fee391"/><stop offset="0.08333" stop-color="#fee08c"/><stop offset="0.1667" stop-color="#fedc87"/><stop offset="0.25" stop-color="#fed582"/><stop offset="0.3333" stop-color="#fecd7b"/><stop offset="0.4167" stop-color="#fdc674"/><stop offset="0.5" stop-color="#fdc06f"/><stop offset="0.5833" stop-color="#fdbf6e"/><stop offset="0.6667" stop-color="#fdbf6e"/><stop offset="0.75" stop-color="#fdbe6d"/><stop offset="0.8333" stop-color="#fdbd6d"/><stop offset="0.9167" stop-color="#fdbc6c"/><stop offset="1" stop-color="#fdbc6b"/></linearGradient><linearGradient id="r78" x1="90" y1="0" x2="388" y2="0" gradientUnits="userSpaceOnUse"><stop offset="0" stop-color="#fee99b"/><stop offset="0.08333" stop-color="#fee797"/><stop offset="0.1667" stop-color="#fee28f"/><stop offset="0.25" stop-color="#fedc88"/><stop offset="0.3333" stop-color="#fed581"/><stop offset="0.4167" stop-color="#fecd7a"/><stop offset="0.5" stop-color="#fdc674"/><stop offset="0.5833" stop-color="#fdc372"/><stop offset="0.6667" stop-color="#fdc271"/><stop offset="0.75" stop-color="#fdc271"/><stop offset="0.8333" stop-color="#fdc170"/><stop offset="0.9167" stop-color="#fdc06f"/><stop offset="1" stop-color="#fdbf6f"/></linearGradient><linearGradient id="r79" x1="90" y1="0" x2="388" y2="0" gradientUnits="userSpaceOnUse"><stop offset="0" stop-color="#fdefa5"/><stop offset="0.08333" stop-color="#feeca1"/><stop offset="0.1667" stop-color="#fee89a"/><stop offset="0.25" stop-color="#fee390"/><stop offset="0.3333" stop-color="#fedc87"/><stop offset="0.4167" stop-color="#fed581"/><stop offset="0.5" stop-color="#fdcc7a"/><stop offset="0.5833" stop-color="#fdc775"/><stop offset="0.6667" stop-color="#fdc675"/><stop offset="0.75" stop-color="#fdc674"/><stop offset="0.8333" stop-color="#fdc573"/><stop offset="0.9167" stop-color="#fdc473"/><stop offset="1" stop-color="#fdc372"/></linearGradient><linearGradient id="r80" x1="90" y1="0" x2="388" y2="0" gradientUnits="userSpaceOnUse"><stop offset="0" stop-color="#fdf3ad"/><stop offset="0.08333" stop-color="#fdf2ab"/><stop offset="0.1667" stop-color="#fdeea4"/><stop offset="0.25" stop-color="#fee99b"/><stop offset="0.3333" stop-color="#fee38f"/><stop offset="0.4167" stop-color="#fedb87"/><stop offset="0.5" stop-color="#fed480"/><stop offset="0.5833" stop-color="#fdcc7a"/><stop offset="0.6667" stop-color="#fdca78"/><stop offset="0.75" stop-color="#fdc977"/><stop offset="0.8333" stop-color="#fdc977"/><stop offset="0.9167" stop-color="#fdc876"/><stop offset="1" stop-color="#fdc775"/></linearGradient><linearGradient id="r81" x1="90" y1="0" x2="388" y2="0" gradientUnits="userSpaceOnUse"><stop offset="0" stop-color="#fdf7b3"/><stop offset="0.08333" stop-color="#fdf5b1"/><stop offset="0.1667" stop-color="#fdf3ad"/><stop offset="0.25" stop-color="#fdeea5"/><stop offset="0.3333" stop-color="#fee99a"/><stop offset="0.4167" stop-color="#fee28e"/><stop offset="0.5" stop-color="#feda86"/><stop offset="0.5833" stop-color="#fed27f"/><stop offset="0.6667" stop-color="#fece7b"/><stop offset="0.75" stop-color="#fecd7b"/><stop offset="0.8333" stop-color="#fecd7a"/><stop offset="0.9167" stop-color="#fdcc79"/><stop offset="1" stop-color="#fdcb79"/></linearGradient><linearGradient id="h0" x1="0" y1="368" x2="0" y2="450" gradientUnits="userSpaceOnUse"><stop offset="0" stop-color="#fdefa5"/><stop offset="0.0488" stop-color="#fdf3ad"/><stop offset="0.146" stop-color="#fdf9b8"/><stop offset="0.171" stop-color="#f4f7b2"/><stop offset="0.195" stop-color="#e5f1a6"/><stop offset="0.268" stop-color="#99d36b"/><stop offset="0.293" stop-color="#70c262"/><stop offset="0.317" stop-color="#3cab58"/><stop offset="0.341" stop-color="#2aa354"/><stop offset="0.415" stop-color="#1f9a51"/><stop offset="0.512" stop-color="#16924e"/><stop offset="0.561" stop-color="#138e4c"/><stop offset="0.659" stop-color="#0f8649"/><stop offset="0.78" stop-color="#0c7f45"/><stop offset="1" stop-color="#0a7b43"/></linearGradient><linearGradient id="h1" x1="0" y1="368" x2="0" y2="450" gradientUnits="userSpaceOnUse"><stop offset="0" stop-color="#fdefa5"/><stop offset="0.0488" stop-color="#fdf3ad"/><stop offset="0.146" stop-color="#fdf9b7"/><stop offset="0.171" stop-color="#f5f7b3"/><stop offset="0.195" stop-color="#e6f1a7"/><stop offset="0.244" stop-color="#b4de81"/><stop offset="0.268" stop-color="#9bd46d"/><stop offset="0.293" stop-color="#74c362"/><stop offset="0.317" stop-color="#40ad59"/><stop offset="0.341" stop-color="#2aa354"/><stop offset="0.439" stop-color="#1c9850"/><stop offset="0.561" stop-color="#138e4d"/><stop offset="0.756" stop-color="#0c8045"/><stop offset="1" stop-color="#0a7b43"/></linearGradient><linearGradient id="h2" x1="0" y1="368" x2="0" y2="450" gradientUnits="userSpaceOnUse"><stop offset="0" stop-color="#fdeea4"/><stop offset="0.0732" stop-color="#fdf5b0"/><stop offset="0.146" stop-color="#fdf9b7"/><stop offset="0.171" stop-color="#f7f8b4"/><stop offset="0.195" stop-color="#e7f2a8"/><stop offset="0.244" stop-color="#b7df82"/><stop offset="0.268" stop-color="#9dd56e"/><stop offset="0.293" stop-color="#77c563"/><stop offset="0.317" stop-color="#45af5a"/><stop offset="0.341" stop-color="#2ba354"/><stop offset="0.439" stop-color="#1d9850"/><stop offset="0.561" stop-color="#138e4d"/><stop offset="0.756" stop-color="#0c8045"/><stop offset="1" stop-color="#0a7b43"/></linearGradient><linearGradient id="h3" x1="0" y1="368" x2="0" y2="450" gradientUnits="userSpaceOnUse"><stop offset="0" stop-color="#fdeea4"/><stop offset="0.0732" stop-color="#fdf5b0"/><stop offset="0.146" stop-color="#fdf9b7"/><stop offset="0.171" stop-color="#f8f8b5"/><stop offset="0.195" stop-color="#e9f2a9"/><stop offset="0.22" stop-color="#d2e998"/><stop offset="0.268" stop-color="#9fd670"/><stop offset="0.293" stop-color="#7bc664"/><stop offset="0.317" stop-color="#49b15a"/><stop offset="0.341" stop-color="#2ba354"/><stop offset="0.439" stop-color="#1d9851"/><stop offset="0.561" stop-color="#138f4d"/><stop offset="0.707" stop-color="#0e8347"/><stop offset="0.829" stop-color="#0c7e44"/><stop offset="1" stop-color="#0a7b43"/></linearGradient><linearGradient id="h4" x1="0" y1="368" x2="0" y2="450" gradientUnits="userSpaceOnUse"><stop offset="0" stop-color="#fdeea3"/><stop offset="0.0244" stop-color="#fdf1a9"/><stop offset="0.146" stop-color="#fdf9b7"/><stop offset="0.171" stop-color="#f9f9b6"/><stop offset="0.195" stop-color="#eaf3aa"/><stop offset="0.22" stop-color="#d5ea9a"/><stop offset="0.268" stop-color="#a1d672"/><stop offset="0.293" stop-color="#7ec865"/><stop offset="0.317" stop-color="#4eb35b"/><stop offset="0.341" stop-color="#2ba454"/><stop offset="0.439" stop-color="#1d9851"/><stop offset="0.561" stop-color="#138f4d"/><stop offset="0.683" stop-color="#0f8548"/><stop offset="0.78" stop-color="#0c7f45"/><stop offset="1" stop-color="#0a7b43"/></linearGradient><linearGradient id="h5" x1="0" y1="368" x2="0" y2="450" gradientUnits="userSpaceOnUse"><stop offset="0" stop-color="#fdeea3"/><stop offset="0.0732" stop-color="#fdf4af"/><stop offset="0.146" stop-color="#fdf9b7"/><stop offset="0.171" stop-color="#fbf9b7"/><stop offset="0.195" stop-color="#ebf3ab"/><stop offset="0.22" stop-color="#d7eb9c"/><stop offset="0.268" stop-color="#a4d774"/><stop offset="0.293" stop-color="#83ca65"/><stop offset="0.317" stop-color="#54b65c"/><stop offset="0.341" stop-color="#2ca455"/><stop offset="0.439" stop-color="#1e9951"/><stop offset="0.512" stop-color="#17934f"/><stop offset="0.561" stop-color="#138f4d"/><stop offset="0.659" stop-color="#108749"/><stop offset="0.78" stop-color="#0c7f45"/><stop offset="1" stop-color="#0a7b43"/></linearGradient><linearGradient id="h6" x1="0" y1="368" x2="0" y2="450" gradientUnits="userSpaceOnUse"><stop offset="0" stop-color="#fdeda2"/><stop offset="0.0488" stop-color="#fdf2ac"/><stop offset="0.171" stop-color="#fdfab9"/><stop offset="0.195" stop-color="#eef4ad"/><stop offset="0.22" stop-color="#dbed9f"/><stop offset="0.268" stop-color="#a8d977"/><stop offset="0.293" stop-color="#89cd67"/><stop offset="0.317" stop-color="#5cb95e"/><stop offset="0.341" stop-color="#2ca555"/><stop offset="0.439" stop-color="#1e9951"/><stop offset="0.585" stop-color="#128d4c"/><stop offset="0.78" stop-color="#0c7f45"/><stop offset="1" stop-color="#0a7b43"/></linearGradient><linearGradient id="h7" x1="0" y1="368" x2="0" y2="450" gradientUnits="userSpaceOnUse"><stop offset="0" stop-color="#feeda2"/><stop offset="0.0732" stop-color="#fdf4ae"/><stop offset="0.171" stop-color="#fdfab8"/><stop offset="0.195" stop-color="#f0f5af"/><stop offset="0.22" stop-color="#dfeea2"/><stop offset="0.268" stop-color="#acda7a"/><stop offset="0.293" stop-color="#90cf68"/><stop offset="0.317" stop-color="#64bd60"/><stop offset="0.341" stop-color="#2fa655"/><stop offset="0.39" stop-color="#259f53"/><stop offset="0.488" stop-color="#19954f"/><stop offset="0.561" stop-color="#14904e"/><stop offset="0.707" stop-color="#0e8448"/><stop offset="0.78" stop-color="#0c7f45"/><stop offset="1" stop-color="#0a7b43"/></linearGradient><linearGradient id="h8" x1="0" y1="368" x2="0" y2="450" gradientUnits="userSpaceOnUse"><stop offset="0" stop-color="#feeca1"/><stop offset="0.0488" stop-color="#fdf2ab"/><stop offset="0.171" stop-color="#fdf9b8"/><stop offset="0.195" stop-color="#f2f6b1"/><stop offset="0.22" stop-color="#e3f0a5"/><stop offset="0.293" stop-color="#96d269"/><stop offset="0.317" stop-color="#6cc061"/><stop offset="0.341" stop-color="#37a957"/><stop offset="0.366" stop-color="#2aa254"/><stop offset="0.463" stop-color="#1c9750"/><stop offset="0.561" stop-color="#14914e"/><stop offset="0.61" stop-color="#118b4b"/><stop offset="0.805" stop-color="#0c7f45"/><stop offset="1" stop-color="#0a7b43"/></linearGradient><linearGradient id="h9" x1="0" y1="368" x2="0" y2="450" gradientUnits="userSpaceOnUse"><stop offset="0" stop-color="#feeca0"/><stop offset="0.0488" stop-color="#fdf2aa"/><stop offset="0.171" stop-color="#fdf9b8"/><stop offset="0.195" stop-color="#f5f7b3"/><stop offset="0.22" stop-color="#e5f1a7"/><stop offset="0.293" stop-color="#9ad46c"/><stop offset="0.317" stop-color="#73c362"/><stop offset="0.341" stop-color="#3fad58"/><stop offset="0.366" stop-color="#2aa354"/><stop offset="0.463" stop-color="#1c9850"/><stop offset="0.585" stop-color="#138e4d"/><stop offset="0.78" stop-color="#0c8045"/><stop offset="1" stop-color="#0a7b43"/></linearGradient><linearGradient id="h10" x1="0" y1="368" x2="0" y2="450" gradientUnits="userSpaceOnUse"><stop offset="0" stop-color="#feeb9f"/><stop offset="0.0732" stop-color="#fdf3ad"/><stop offset="0.171" stop-color="#fdf9b7"/><stop offset="0.195" stop-color="#f7f8b4"/><stop offset="0.22" stop-color="#e8f2a9"/><stop offset="0.268" stop-color="#b8df83"/><stop offset="0.293" stop-color="#9ed56f"/><stop offset="0.317" stop-color="#79c664"/><stop offset="0.341" stop-color="#48b05a"/><stop offset="0.366" stop-color="#2ba354"/><stop offset="0.463" stop-color="#1d9850"/><stop offset="0.585" stop-color="#138f4d"/><stop offset="0.707" stop-color="#0f8548"/><stop offset="0.805" stop-color="#0c7f45"/><stop offset="1" stop-color="#0a7b43"/></linearGradient><linearGradient id="h11" x1="0" y1="368" x2="0" y2="450" gradientUnits="userSpaceOnUse"><stop offset="0" stop-color="#feeb9f"/><stop offset="0.0488" stop-color="#fdf1a9"/><stop offset="0.171" stop-color="#fdf9b7"/><stop offset="0.195" stop-color="#faf9b6"/><stop offset="0.22" stop-color="#eaf3aa"/><stop offset="0.244" stop-color="#d5eb9a"/><stop offset="0.293" stop-color="#a2d772"/><stop offset="0.317" stop-color="#80c865"/><stop offset="0.341" stop-color="#50b45c"/><stop offset="0.366" stop-color="#2ba455"/><stop offset="0.439" stop-color="#209b51"/><stop offset="0.512" stop-color="#18954f"/><stop offset="0.585" stop-color="#138f4d"/><stop offset="0.707" stop-color="#0f8548"/><stop offset="0.805" stop-color="#0c7f45"/><stop offset="1" stop-color="#0a7b43"/></linearGradient><linearGradient id="h12" x1="0" y1="368" x2="0" y2="450" gradientUnits="userSpaceOnUse"><stop offset="0" stop-color="#feeb9e"/><stop offset="0.0732" stop-color="#fdf3ac"/><stop offset="0.171" stop-color="#fdf9b6"/><stop offset="0.195" stop-color="#fcfab8"/><stop offset="0.22" stop-color="#edf4ac"/><stop offset="0.244" stop-color="#d9ec9d"/><stop offset="0.293" stop-color="#a6d875"/><stop offset="0.317" stop-color="#86cb66"/><stop offset="0.366" stop-color="#2ca455"/><stop offset="0.463" stop-color="#1e9951"/><stop offset="0.537" stop-color="#17934f"/><stop offset="0.634" stop-color="#118b4b"/><stop offset="0.805" stop-color="#0c7f45"/><stop offset="1" stop-color="#0a7b43"/></linearGradient><linearGradient id="h13" x1="0" y1="368" x2="0" y2="450" gradientUnits="userSpaceOnUse"><stop offset="0" stop-color="#feea9d"/><stop offset="0.0732" stop-color="#fdf2ab"/><stop offset="0.195" stop-color="#fdfab9"/><stop offset="0.22" stop-color="#eff5ae"/><stop offset="0.244" stop-color="#ddeea0"/><stop offset="0.293" stop-color="#aada79"/><stop offset="0.317" stop-color="#8dce67"/><stop offset="0.341" stop-color="#61bb5f"/><stop offset="0.366" stop-color="#2da555"/><stop offset="0.488" stop-color="#1b9750"/><stop offset="0.585" stop-color="#14904e"/><stop offset="0.732" stop-color="#0e8448"/><stop offset="0.805" stop-color="#0c7f45"/><stop offset="1" stop-color="#0a7c43"/></linearGradient><linearGradient id="h14" x1="0" y1="368" x2="0" y2="450" gradientUnits="userSpaceOnUse"><stop offset="0" stop-color="#feea9c"/><stop offset="0.0732" stop-color="#fdf2ab"/><stop offset="0.195" stop-color="#fdf9b8"/><stop offset="0.22" stop-color="#f2f6b1"/><stop offset="0.244" stop-color="#e3f0a4"/><stop offset="0.317" stop-color="#96d269"/><stop offset="0.341" stop-color="#6dc061"/><stop offset="0.366" stop-color="#38aa57"/><stop offset="0.39" stop-color="#2aa254"/><stop offset="0.488" stop-color="#1c9750"/><stop offset="0.585" stop-color="#14914e"/><stop offset="0.634" stop-color="#128b4b"/><stop offset="0.829" stop-color="#0c7f45"/><stop offset="1" stop-color="#0b7c43"/></linearGradient><linearGradient id="h15" x1="0" y1="368" x2="0" y2="450" gradientUnits="userSpaceOnUse"><stop offset="0" stop-color="#fee99b"/><stop offset="0.0732" stop-color="#fdf2aa"/><stop offset="0.171" stop-color="#fdf8b5"/><stop offset="0.195" stop-color="#fdf9b7"/><stop offset="0.22" stop-color="#f5f7b3"/><stop offset="0.244" stop-color="#e6f1a7"/><stop offset="0.268" stop-color="#cfe895"/><stop offset="0.317" stop-color="#9cd46d"/><stop offset="0.341" stop-color="#75c463"/><stop offset="0.366" stop-color="#43ae59"/><stop offset="0.39" stop-color="#2aa354"/><stop offset="0.488" stop-color="#1d9850"/><stop offset="0.61" stop-color="#138f4d"/><stop offset="0.756" stop-color="#0e8347"/><stop offset="0.878" stop-color="#0c7e44"/><stop offset="1" stop-color="#0b7c43"/></linearGradient><linearGradient id="h16" x1="0" y1="368" x2="0" y2="450" gradientUnits="userSpaceOnUse"><stop offset="0" stop-color="#fee89a"/><stop offset="0.0976" stop-color="#fdf3ad"/><stop offset="0.195" stop-color="#fdf9b7"/><stop offset="0.22" stop-color="#f9f8b6"/><stop offset="0.244" stop-color="#e9f2aa"/><stop offset="0.268" stop-color="#d4ea99"/><stop offset="0.317" stop-color="#a1d672"/><stop offset="0.341" stop-color="#7ec865"/><stop offset="0.366" stop-color="#4eb35b"/><stop offset="0.39" stop-color="#2ba455"/><stop offset="0.463" stop-color="#209b51"/><stop offset="0.537" stop-color="#18954f"/><stop offset="0.61" stop-color="#138f4d"/><stop offset="0.707" stop-color="#108749"/><stop offset="0.829" stop-color="#0c7f45"/><stop offset="1" stop-color="#0b7c43"/></linearGradient><linearGradient id="h17" x1="0" y1="368" x2="0" y2="450" gradientUnits="userSpaceOnUse"><stop offset="0" stop-color="#fee899"/><stop offset="0.0976" stop-color="#fdf3ac"/><stop offset="0.195" stop-color="#fdf9b6"/><stop offset="0.22" stop-color="#fcfab8"/><stop offset="0.244" stop-color="#edf4ac"/><stop offset="0.268" stop-color="#daec9d"/><stop offset="0.317" stop-color="#a7d876"/><stop offset="0.341" stop-color="#87cc66"/><stop offset="0.39" stop-color="#2ca455"/><stop offset="0.488" stop-color="#1e9951"/><stop offset="0.634" stop-color="#128d4c"/><stop offset="0.829" stop-color="#0c7f45"/><stop offset="1" stop-color="#0b7c43"/></linearGradient><linearGradient id="h18" x1="0" y1="368" x2="0" y2="450" gradientUnits="userSpaceOnUse"><stop offset="0" stop-color="#fee798"/><stop offset="0.0976" stop-color="#fdf2ab"/><stop offset="0.195" stop-color="#fdf8b6"/><stop offset="0.22" stop-color="#fdfab8"/><stop offset="0.244" stop-color="#f0f5af"/><stop offset="0.268" stop-color="#dfeea2"/><stop offset="0.317" stop-color="#acdb7a"/><stop offset="0.341" stop-color="#90d068"/><stop offset="0.366" stop-color="#65bd60"/><stop offset="0.39" stop-color="#30a656"/><stop offset="0.415" stop-color="#29a254"/><stop offset="0.537" stop-color="#19954f"/><stop offset="0.61" stop-color="#14904e"/><stop offset="0.732" stop-color="#0f8648"/><stop offset="0.854" stop-color="#0c7f45"/><stop offset="1" stop-color="#0b7c43"/></linearGradient><linearGradient id="h19" x1="0" y1="368" x2="0" y2="450" gradientUnits="userSpaceOnUse"><stop offset="0" stop-color="#fee797"/><stop offset="0.0976" stop-color="#fdf2ab"/><stop offset="0.22" stop-color="#fdf9b8"/><stop offset="0.244" stop-color="#f3f6b1"/><stop offset="0.268" stop-color="#e4f0a6"/><stop offset="0.341" stop-color="#98d36b"/><stop offset="0.366" stop-color="#70c262"/><stop offset="0.39" stop-color="#3cab58"/><stop offset="0.415" stop-color="#2aa354"/><stop offset="0.488" stop-color="#1f9a51"/><stop offset="0.561" stop-color="#18944f"/><stop offset="0.659" stop-color="#128c4b"/><stop offset="0.854" stop-color="#0c7f45"/><stop offset="1" stop-color="#0b7c43"/></linearGradient><linearGradient id="h20" x1="0" y1="368" x2="0" y2="450" gradientUnits="userSpaceOnUse"><stop offset="0" stop-color="#fee696"/><stop offset="0.0976" stop-color="#fdf1aa"/><stop offset="0.195" stop-color="#fdf8b5"/><stop offset="0.22" stop-color="#fdf9b7"/><stop offset="0.244" stop-color="#f7f8b4"/><stop offset="0.268" stop-color="#e7f2a8"/><stop offset="0.293" stop-color="#d1e996"/><stop offset="0.341" stop-color="#9ed56f"/><stop offset="0.366" stop-color="#79c563"/><stop offset="0.39" stop-color="#47b05a"/><stop offset="0.415" stop-color="#2ba354"/><stop offset="0.512" stop-color="#1d9851"/><stop offset="0.634" stop-color="#138f4d"/><stop offset="0.756" stop-color="#0f8548"/><stop offset="0.854" stop-color="#0c7f45"/><stop offset="1" stop-color="#0b7c43"/></linearGradient><linearGradient id="h21" x1="0" y1="368" x2="0" y2="450" gradientUnits="userSpaceOnUse"><stop offset="0" stop-color="#fee594"/><stop offset="0.0976" stop-color="#fdf1a9"/><stop offset="0.22" stop-color="#fdf9b7"/><stop offset="0.244" stop-color="#faf9b7"/><stop offset="0.268" stop-color="#ebf3ab"/><stop offset="0.293" stop-color="#d6eb9b"/><stop offset="0.341" stop-color="#a3d773"/><stop offset="0.366" stop-color="#82c965"/><stop offset="0.39" stop-color="#53b55c"/><stop offset="0.415" stop-color="#2ca455"/><stop offset="0.512" stop-color="#1e9951"/><stop offset="0.585" stop-color="#17934f"/><stop offset="0.683" stop-color="#118b4b"/><stop offset="0.854" stop-color="#0c7f45"/><stop offset="1" stop-color="#0b7c43"/></linearGradient><linearGradient id="h22" x1="0" y1="368" x2="0" y2="450" gradientUnits="userSpaceOnUse"><stop offset="0" stop-color="#fee593"/><stop offset="0.122" stop-color="#fdf2ac"/><stop offset="0.244" stop-color="#fdfab9"/><stop offset="0.268" stop-color="#eef4ae"/><stop offset="0.293" stop-color="#dceda0"/><stop offset="0.341" stop-color="#aada78"/><stop offset="0.366" stop-color="#8cce67"/><stop offset="0.39" stop-color="#61bb5f"/><stop offset="0.415" stop-color="#2da555"/><stop offset="0.537" stop-color="#1b9750"/><stop offset="0.634" stop-color="#14904e"/><stop offset="0.756" stop-color="#0f8648"/><stop offset="0.878" stop-color="#0c7f45"/><stop offset="1" stop-color="#0b7d44"/></linearGradient><linearGradient id="h23" x1="0" y1="368" x2="0" y2="450" gradientUnits="userSpaceOnUse"><stop offset="0" stop-color="#fee492"/><stop offset="0.122" stop-color="#fdf2ab"/><stop offset="0.244" stop-color="#fdf9b8"/><stop offset="0.268" stop-color="#f2f6b1"/><stop offset="0.293" stop-color="#e3f0a5"/><stop offset="0.366" stop-color="#97d269"/><stop offset="0.39" stop-color="#6dc161"/><stop offset="0.415" stop-color="#39aa57"/><stop offset="0.439" stop-color="#2aa254"/><stop offset="0.537" stop-color="#1c9850"/><stop offset="0.61" stop-color="#16924f"/><stop offset="0.659" stop-color="#138e4c"/><stop offset="0.732" stop-color="#10884a"/><stop offset="0.878" stop-color="#0c7f45"/><stop offset="1" stop-color="#0b7d44"/></linearGradient><linearGradient id="h24" x1="0" y1="368" x2="0" y2="450" gradientUnits="userSpaceOnUse"><stop offset="0" stop-color="#fee390"/><stop offset="0.122" stop-color="#fdf2aa"/><stop offset="0.22" stop-color="#fdf8b5"/><stop offset="0.244" stop-color="#fdf9b7"/><stop offset="0.268" stop-color="#f6f7b4"/><stop offset="0.293" stop-color="#e7f1a8"/><stop offset="0.317" stop-color="#d0e896"/><stop offset="0.366" stop-color="#9dd56e"/><stop offset="0.39" stop-color="#78c563"/><stop offset="0.415" stop-color="#46b05a"/><stop offset="0.439" stop-color="#2ba354"/><stop offset="0.537" stop-color="#1d9851"/><stop offset="0.659" stop-color="#138f4d"/><stop offset="0.78" stop-color="#0f8548"/><stop offset="0.878" stop-color="#0c7f45"/><stop offset="1" stop-color="#0b7d44"/></linearGradient><linearGradient id="h25" x1="0" y1="368" x2="0" y2="450" gradientUnits="userSpaceOnUse"><stop offset="0" stop-color="#fee28f"/><stop offset="0.122" stop-color="#fdf1a9"/><stop offset="0.244" stop-color="#fdf9b7"/><stop offset="0.268" stop-color="#faf9b7"/><stop offset="0.293" stop-color="#ebf3ab"/><stop offset="0.317" stop-color="#d6eb9b"/><stop offset="0.366" stop-color="#a3d773"/><stop offset="0.39" stop-color="#82ca65"/><stop offset="0.415" stop-color="#54b65c"/><stop offset="0.439" stop-color="#2ca455"/><stop offset="0.537" stop-color="#1e9951"/><stop offset="0.61" stop-color="#17934f"/><stop offset="0.707" stop-color="#118b4b"/><stop offset="0.878" stop-color="#0c7f45"/><stop offset="1" stop-color="#0b7d44"/></linearGradient><linearGradient id="h26" x1="0" y1="368" x2="0" y2="450" gradientUnits="userSpaceOnUse"><stop offset="0" stop-color="#fee18e"/><stop offset="0.122" stop-color="#fdf0a7"/><stop offset="0.171" stop-color="#fdf4af"/><stop offset="0.268" stop-color="#fdfab9"/><stop offset="0.293" stop-color="#eef4ae"/><stop offset="0.317" stop-color="#ddeda0"/><stop offset="0.366" stop-color="#aada78"/><stop offset="0.39" stop-color="#8dce67"/><stop offset="0.415" stop-color="#61bb5f"/><stop offset="0.439" stop-color="#2da555"/><stop offset="0.561" stop-color="#1b9750"/><stop offset="0.659" stop-color="#14904e"/><stop offset="0.78" stop-color="#0f8648"/><stop offset="0.902" stop-color="#0c7f45"/><stop offset="1" stop-color="#0b7d44"/></linearGradient><linearGradient id="h27" x1="0" y1="368" x2="0" y2="450" gradientUnits="userSpaceOnUse"><stop offset="0" stop-color="#fee18c"/><stop offset="0.146" stop-color="#fdf2ab"/><stop offset="0.268" stop-color="#fdf9b8"/><stop offset="0.293" stop-color="#f2f6b1"/><stop offset="0.317" stop-color="#e3f0a5"/><stop offset="0.39" stop-color="#97d26a"/><stop offset="0.415" stop-color="#6ec161"/><stop offset="0.439" stop-color="#39aa57"/><stop offset="0.463" stop-color="#2aa254"/><stop offset="0.561" stop-color="#1c9850"/><stop offset="0.634" stop-color="#16924f"/><stop offset="0.829" stop-color="#0e8347"/><stop offset="0.927" stop-color="#0c7f45"/><stop offset="1" stop-color="#0b7d44"/></linearGradient><linearGradient id="h28" x1="0" y1="368" x2="0" y2="450" gradientUnits="userSpaceOnUse"><stop offset="0" stop-color="#fee08b"/><stop offset="0.146" stop-color="#fdf1aa"/><stop offset="0.244" stop-color="#fdf8b5"/><stop offset="0.268" stop-color="#fdf9b7"/><stop offset="0.293" stop-color="#f6f7b4"/><stop offset="0.317" stop-color="#e7f1a8"/><stop offset="0.366" stop-color="#b7df82"/><stop offset="0.39" stop-color="#9dd56f"/><stop offset="0.415" stop-color="#78c563"/><stop offset="0.439" stop-color="#47b05a"/><stop offset="0.463" stop-color="#2ba354"/><stop offset="0.561" stop-color="#1d9851"/><stop offset="0.683" stop-color="#138f4d"/><stop offset="0.805" stop-color="#0f8548"/><stop offset="0.902" stop-color="#0c7f45"/><stop offset="1" stop-color="#0b7d44"/></linearGradient><linearGradient id="h29" x1="0" y1="368" x2="0" y2="450" gradientUnits="userSpaceOnUse"><stop offset="0" stop-color="#fedf8a"/><stop offset="0.146" stop-color="#fdf1a9"/><stop offset="0.268" stop-color="#fdf9b7"/><stop offset="0.293" stop-color="#faf9b7"/><stop offset="0.317" stop-color="#ebf3ab"/><stop offset="0.341" stop-color="#d6eb9b"/><stop offset="0.39" stop-color="#a4d773"/><stop offset="0.415" stop-color="#83ca65"/><stop offset="0.439" stop-color="#54b65c"/><stop offset="0.463" stop-color="#2ca455"/><stop offset="0.561" stop-color="#1e9951"/><stop offset="0.634" stop-color="#17934f"/><stop offset="0.732" stop-color="#118b4b"/><stop offset="0.902" stop-color="#0c7f45"/><stop offset="1" stop-color="#0b7d44"/></linearGradient><linearGradient id="h30" x1="0" y1="368" x2="0" y2="450" gradientUnits="userSpaceOnUse"><stop offset="0" stop-color="#fede89"/><stop offset="0.0488" stop-color="#fee593"/><stop offset="0.171" stop-color="#fdf2ac"/><stop offset="0.293" stop-color="#fdfab9"/><stop offset="0.317" stop-color="#eff4ae"/><stop offset="0.341" stop-color="#ddeda0"/><stop offset="0.39" stop-color="#aada78"/><stop offset="0.415" stop-color="#8dce67"/><stop offset="0.439" stop-color="#61bb5f"/><stop offset="0.463" stop-color="#2da555"/><stop offset="0.585" stop-color="#1b9750"/><stop offset="0.683" stop-color="#14904e"/><stop offset="0.805" stop-color="#0f8648"/><stop offset="0.927" stop-color="#0c7f45"/><stop offset="1" stop-color="#0b7e44"/></linearGradient><linearGradient id="h31" x1="0" y1="368" x2="0" y2="450" gradientUnits="userSpaceOnUse"><stop offset="0" stop-color="#fedd89"/><stop offset="0.0244" stop-color="#fee18c"/><stop offset="0.171" stop-color="#fdf2ab"/><stop offset="0.293" stop-color="#fdf9b8"/><stop offset="0.317" stop-color="#f2f6b1"/><stop offset="0.341" stop-color="#e3f0a5"/><stop offset="0.415" stop-color="#97d26a"/><stop offset="0.439" stop-color="#6ec161"/><stop offset="0.463" stop-color="#3aaa57"/><stop offset="0.488" stop-color="#2aa254"/><stop offset="0.585" stop-color="#1c9850"/><stop offset="0.634" stop-color="#18944f"/><stop offset="0.732" stop-color="#128c4b"/><stop offset="0.927" stop-color="#0c7f45"/><stop offset="1" stop-color="#0b7e44"/></linearGradient><linearGradient id="h32" x1="0" y1="368" x2="0" y2="450" gradientUnits="userSpaceOnUse"><stop offset="0" stop-color="#fedc88"/><stop offset="0.0488" stop-color="#fee390"/><stop offset="0.171" stop-color="#fdf1aa"/><stop offset="0.268" stop-color="#fdf8b5"/><stop offset="0.293" stop-color="#fdf9b7"/><stop offset="0.317" stop-color="#f6f7b4"/><stop offset="0.341" stop-color="#e7f1a8"/><stop offset="0.39" stop-color="#b7df82"/><stop offset="0.415" stop-color="#9dd56f"/><stop offset="0.439" stop-color="#79c563"/><stop offset="0.463" stop-color="#47b05a"/><stop offset="0.488" stop-color="#2ba354"/><stop offset="0.585" stop-color="#1d9851"/><stop offset="0.707" stop-color="#138f4d"/><stop offset="0.829" stop-color="#0f8548"/><stop offset="0.927" stop-color="#0c7f45"/><stop offset="1" stop-color="#0b7e44"/></linearGradient><linearGradient id="h33" x1="0" y1="368" x2="0" y2="450" gradientUnits="userSpaceOnUse"><stop offset="0" stop-color="#fedb87"/><stop offset="0.0488" stop-color="#fee28f"/><stop offset="0.171" stop-color="#fdf1a9"/><stop offset="0.293" stop-color="#fdf9b7"/><stop offset="0.317" stop-color="#faf9b7"/><stop offset="0.341" stop-color="#ebf3ab"/><stop offset="0.366" stop-color="#d7eb9b"/><stop offset="0.415" stop-color="#a4d774"/><stop offset="0.439" stop-color="#83ca65"/><stop offset="0.463" stop-color="#54b65d"/><stop offset="0.488" stop-color="#2ca455"/><stop offset="0.585" stop-color="#1e9951"/><stop offset="0.659" stop-color="#17934f"/><stop offset="0.756" stop-color="#118b4b"/><stop offset="0.927" stop-color="#0c7f45"/><stop offset="1" stop-color="#0c7e44"/></linearGradient><linearGradient id="h34" x1="0" y1="368" x2="0" y2="450" gradientUnits="userSpaceOnUse"><stop offset="0" stop-color="#fedb86"/><stop offset="0.0488" stop-color="#fee18d"/><stop offset="0.0976" stop-color="#fee899"/><stop offset="0.195" stop-color="#fdf2ac"/><stop offset="0.317" stop-color="#fdfab9"/><stop offset="0.341" stop-color="#eff4ae"/><stop offset="0.366" stop-color="#ddeea0"/><stop offset="0.415" stop-color="#aada79"/><stop offset="0.439" stop-color="#8ece67"/><stop offset="0.463" stop-color="#62bc5f"/><stop offset="0.488" stop-color="#2da555"/><stop offset="0.585" stop-color="#1f9951"/><stop offset="0.683" stop-color="#15924e"/><stop offset="0.829" stop-color="#0f8649"/><stop offset="0.951" stop-color="#0c7f45"/><stop offset="1" stop-color="#0c7e44"/></linearGradient><linearGradient id="h35" x1="0" y1="368" x2="0" y2="450" gradientUnits="userSpaceOnUse"><stop offset="0" stop-color="#feda85"/><stop offset="0.0488" stop-color="#fee18c"/><stop offset="0.195" stop-color="#fdf2ab"/><stop offset="0.317" stop-color="#fdf9b8"/><stop offset="0.341" stop-color="#f3f6b1"/><stop offset="0.366" stop-color="#e4f0a5"/><stop offset="0.439" stop-color="#98d36a"/><stop offset="0.463" stop-color="#6fc162"/><stop offset="0.488" stop-color="#3cab58"/><stop offset="0.512" stop-color="#2aa354"/><stop offset="0.585" stop-color="#1f9a51"/><stop offset="0.732" stop-color="#138e4d"/><stop offset="0.927" stop-color="#0d8045"/><stop offset="1" stop-color="#0c7e44"/></linearGradient><linearGradient id="h36" x1="0" y1="368" x2="0" y2="450" gradientUnits="userSpaceOnUse"><stop offset="0" stop-color="#fed985"/><stop offset="0.0488" stop-color="#fee08b"/><stop offset="0.195" stop-color="#fdf1aa"/><stop offset="0.293" stop-color="#fdf8b5"/><stop offset="0.317" stop-color="#fdf9b7"/><stop offset="0.341" stop-color="#f7f8b4"/><stop offset="0.366" stop-color="#e8f2a8"/><stop offset="0.39" stop-color="#d1e997"/><stop offset="0.439" stop-color="#9fd570"/><stop offset="0.463" stop-color="#7bc664"/><stop offset="0.488" stop-color="#4ab15b"/><stop offset="0.512" stop-color="#2ba354"/><stop offset="0.61" stop-color="#1d9851"/><stop offset="0.707" stop-color="#15924e"/><stop offset="0.78" stop-color="#118a4b"/><stop offset="0.951" stop-color="#0c7f45"/><stop offset="1" stop-color="#0c7e44"/></linearGradient><linearGradient id="h37" x1="0" y1="368" x2="0" y2="450" gradientUnits="userSpaceOnUse"><stop offset="0" stop-color="#fed884"/><stop offset="0.0488" stop-color="#fedf8a"/><stop offset="0.195" stop-color="#fdf1a8"/><stop offset="0.317" stop-color="#fdf9b7"/><stop offset="0.341" stop-color="#fbf9b7"/><stop offset="0.366" stop-color="#ecf3ac"/><stop offset="0.39" stop-color="#d8ec9c"/><stop offset="0.439" stop-color="#a6d875"/><stop offset="0.463" stop-color="#86cb66"/><stop offset="0.512" stop-color="#2ca455"/><stop offset="0.61" stop-color="#1e9951"/><stop offset="0.756" stop-color="#128d4c"/><stop offset="0.951" stop-color="#0c7f45"/><stop offset="1" stop-color="#0c7e45"/></linearGradient><linearGradient id="h38" x1="0" y1="368" x2="0" y2="450" gradientUnits="userSpaceOnUse"><stop offset="0" stop-color="#fed783"/><stop offset="0.0732" stop-color="#fee18d"/><stop offset="0.22" stop-color="#fdf2ab"/><stop offset="0.341" stop-color="#fdfab9"/><stop offset="0.366" stop-color="#f0f5af"/><stop offset="0.39" stop-color="#dfeea2"/><stop offset="0.439" stop-color="#acdb7a"/><stop offset="0.463" stop-color="#91d068"/><stop offset="0.488" stop-color="#67be60"/><stop offset="0.512" stop-color="#32a756"/><stop offset="0.537" stop-color="#29a254"/><stop offset="0.659" stop-color="#19954f"/><stop offset="0.732" stop-color="#14914e"/><stop offset="0.78" stop-color="#118b4b"/><stop offset="0.976" stop-color="#0c7f45"/><stop offset="1" stop-color="#0c7f45"/></linearGradient><linearGradient id="h39" x1="0" y1="368" x2="0" y2="450" gradientUnits="userSpaceOnUse"><stop offset="0" stop-color="#fed682"/><stop offset="0.0732" stop-color="#fee08c"/><stop offset="0.22" stop-color="#fdf2ab"/><stop offset="0.341" stop-color="#fdf9b8"/><stop offset="0.366" stop-color="#f4f7b2"/><stop offset="0.39" stop-color="#e5f1a6"/><stop offset="0.463" stop-color="#9ad46c"/><stop offset="0.488" stop-color="#73c362"/><stop offset="0.512" stop-color="#40ad59"/><stop offset="0.537" stop-color="#2aa354"/><stop offset="0.634" stop-color="#1d9850"/><stop offset="0.756" stop-color="#138f4d"/><stop offset="0.878" stop-color="#0f8548"/><stop offset="0.976" stop-color="#0c7f45"/><stop offset="1" stop-color="#0c7f45"/></linearGradient><linearGradient id="h40" x1="0" y1="368" x2="0" y2="450" gradientUnits="userSpaceOnUse"><stop offset="0" stop-color="#fed582"/><stop offset="0.0732" stop-color="#fedf8a"/><stop offset="0.22" stop-color="#fdf1a9"/><stop offset="0.317" stop-color="#fdf8b5"/><stop offset="0.341" stop-color="#fdf9b7"/><stop offset="0.366" stop-color="#f8f8b5"/><stop offset="0.39" stop-color="#e9f2aa"/><stop offset="0.415" stop-color="#d4ea99"/><stop offset="0.463" stop-color="#a1d671"/><stop offset="0.488" stop-color="#7fc865"/><stop offset="0.512" stop-color="#4fb45b"/><stop offset="0.537" stop-color="#2ba455"/><stop offset="0.659" stop-color="#1a9650"/><stop offset="0.732" stop-color="#15924e"/><stop offset="0.78" stop-color="#128c4c"/><stop offset="0.976" stop-color="#0c7f45"/><stop offset="1" stop-color="#0c7f45"/></linearGradient><linearGradient id="h41" x1="0" y1="368" x2="0" y2="450" gradientUnits="userSpaceOnUse"><stop offset="0" stop-color="#fed481"/><stop offset="0.0976" stop-color="#fee28e"/><stop offset="0.244" stop-color="#fdf3ac"/><stop offset="0.366" stop-color="#fcfab9"/><stop offset="0.39" stop-color="#edf4ad"/><stop offset="0.415" stop-color="#dbed9e"/><stop offset="0.463" stop-color="#a8d977"/><stop offset="0.488" stop-color="#8acd67"/><stop offset="0.512" stop-color="#5dba5e"/><stop offset="0.537" stop-color="#2da555"/><stop offset="0.634" stop-color="#1e9951"/><stop offset="0.756" stop-color="#14904e"/><stop offset="0.878" stop-color="#0f8648"/><stop offset="1" stop-color="#0c7f45"/></linearGradient><linearGradient id="h42" x1="0" y1="368" x2="0" y2="450" gradientUnits="userSpaceOnUse"><stop offset="0" stop-color="#fed480"/><stop offset="0.0976" stop-color="#fee18d"/><stop offset="0.244" stop-color="#fdf2ab"/><stop offset="0.341" stop-color="#fdf8b6"/><stop offset="0.366" stop-color="#fdfab8"/><stop offset="0.39" stop-color="#f1f6b0"/><stop offset="0.415" stop-color="#e2efa4"/><stop offset="0.488" stop-color="#96d269"/><stop offset="0.512" stop-color="#6dc061"/><stop offset="0.537" stop-color="#38aa57"/><stop offset="0.561" stop-color="#2aa254"/><stop offset="0.659" stop-color="#1c9850"/><stop offset="0.707" stop-color="#18944f"/><stop offset="0.805" stop-color="#128c4b"/><stop offset="1" stop-color="#0c7f45"/></linearGradient><linearGradient id="h43" x1="0" y1="368" x2="0" y2="450" gradientUnits="userSpaceOnUse"><stop offset="0" stop-color="#fed37f"/><stop offset="0.0976" stop-color="#fee08b"/><stop offset="0.244" stop-color="#fdf2aa"/><stop offset="0.341" stop-color="#fdf8b5"/><stop offset="0.366" stop-color="#fdf9b7"/><stop offset="0.39" stop-color="#f6f7b4"/><stop offset="0.415" stop-color="#e7f1a8"/><stop offset="0.463" stop-color="#b7df82"/><stop offset="0.488" stop-color="#9ed56f"/><stop offset="0.512" stop-color="#79c664"/><stop offset="0.537" stop-color="#48b15a"/><stop offset="0.561" stop-color="#2ba354"/><stop offset="0.659" stop-color="#1d9851"/><stop offset="0.756" stop-color="#15924e"/><stop offset="0.829" stop-color="#118a4b"/><stop offset="1" stop-color="#0c7f45"/></linearGradient><linearGradient id="h44" x1="0" y1="368" x2="0" y2="450" gradientUnits="userSpaceOnUse"><stop offset="0" stop-color="#fed27f"/><stop offset="0.0976" stop-color="#fedf8a"/><stop offset="0.244" stop-color="#fdf1a9"/><stop offset="0.366" stop-color="#fdf9b7"/><stop offset="0.39" stop-color="#fbf9b7"/><stop offset="0.415" stop-color="#ebf3ab"/><stop offset="0.439" stop-color="#d8eb9c"/><stop offset="0.488" stop-color="#a5d875"/><stop offset="0.512" stop-color="#86cb66"/><stop offset="0.561" stop-color="#2ca455"/><stop offset="0.659" stop-color="#1e9951"/><stop offset="0.805" stop-color="#128d4c"/><stop offset="1" stop-color="#0c7f45"/></linearGradient><linearGradient id="h45" x1="0" y1="368" x2="0" y2="450" gradientUnits="userSpaceOnUse"><stop offset="0" stop-color="#fed17e"/><stop offset="0.122" stop-color="#fee18d"/><stop offset="0.244" stop-color="#fdf0a7"/><stop offset="0.341" stop-color="#fdf7b4"/><stop offset="0.39" stop-color="#fdfab9"/><stop offset="0.415" stop-color="#f0f5af"/><stop offset="0.439" stop-color="#dfeea2"/><stop offset="0.488" stop-color="#addb7b"/><stop offset="0.512" stop-color="#92d068"/><stop offset="0.537" stop-color="#68be60"/><stop offset="0.561" stop-color="#33a856"/><stop offset="0.585" stop-color="#29a254"/><stop offset="0.707" stop-color="#199550"/><stop offset="0.78" stop-color="#14914e"/><stop offset="0.829" stop-color="#128b4b"/><stop offset="1" stop-color="#0c8045"/></linearGradient><linearGradient id="h46" x1="0" y1="368" x2="0" y2="450" gradientUnits="userSpaceOnUse"><stop offset="0" stop-color="#fecf7d"/><stop offset="0.122" stop-color="#fee08c"/><stop offset="0.268" stop-color="#fdf2ab"/><stop offset="0.39" stop-color="#fdf9b8"/><stop offset="0.415" stop-color="#f5f7b2"/><stop offset="0.439" stop-color="#e5f1a7"/><stop offset="0.463" stop-color="#cee894"/><stop offset="0.512" stop-color="#9bd46d"/><stop offset="0.537" stop-color="#75c463"/><stop offset="0.561" stop-color="#43ae59"/><stop offset="0.585" stop-color="#2aa354"/><stop offset="0.732" stop-color="#18944f"/><stop offset="0.829" stop-color="#128c4b"/><stop offset="1" stop-color="#0d8046"/></linearGradient><linearGradient id="h47" x1="0" y1="368" x2="0" y2="450" gradientUnits="userSpaceOnUse"><stop offset="0" stop-color="#fece7c"/><stop offset="0.0976" stop-color="#fedc88"/><stop offset="0.122" stop-color="#fedf8a"/><stop offset="0.268" stop-color="#fdf1a9"/><stop offset="0.366" stop-color="#fdf8b5"/><stop offset="0.39" stop-color="#fdf9b7"/><stop offset="0.415" stop-color="#f9f8b6"/><stop offset="0.439" stop-color="#eaf3aa"/><stop offset="0.463" stop-color="#d5ea9a"/><stop offset="0.512" stop-color="#a2d773"/><stop offset="0.537" stop-color="#81c965"/><stop offset="0.561" stop-color="#52b55c"/><stop offset="0.585" stop-color="#2ca455"/><stop offset="0.683" stop-color="#1e9951"/><stop offset="0.756" stop-color="#17934f"/><stop offset="0.854" stop-color="#118b4b"/><stop offset="1" stop-color="#0d8146"/></linearGradient><linearGradient id="h48" x1="0" y1="368" x2="0" y2="450" gradientUnits="userSpaceOnUse"><stop offset="0" stop-color="#fecd7b"/><stop offset="0.0976" stop-color="#fedb87"/><stop offset="0.146" stop-color="#fee28e"/><stop offset="0.293" stop-color="#fdf3ac"/><stop offset="0.415" stop-color="#fdfab9"/><stop offset="0.439" stop-color="#eef4ae"/><stop offset="0.463" stop-color="#dceda0"/><stop offset="0.512" stop-color="#aada78"/><stop offset="0.537" stop-color="#8dce67"/><stop offset="0.561" stop-color="#62bc5f"/><stop offset="0.585" stop-color="#2da555"/><stop offset="0.683" stop-color="#1f9951"/><stop offset="0.756" stop-color="#17944f"/><stop offset="0.854" stop-color="#118b4b"/><stop offset="0.976" stop-color="#0e8347"/><stop offset="1" stop-color="#0e8347"/></linearGradient><linearGradient id="h49" x1="0" y1="368" x2="0" y2="450" gradientUnits="userSpaceOnUse"><stop offset="0" stop-color="#fdcc7a"/><stop offset="0.0976" stop-color="#feda86"/><stop offset="0.146" stop-color="#fee18c"/><stop offset="0.293" stop-color="#fdf2ab"/><stop offset="0.415" stop-color="#fdf9b8"/><stop offset="0.439" stop-color="#f3f6b1"/><stop offset="0.463" stop-color="#e4f0a5"/><stop offset="0.537" stop-color="#98d36a"/><stop offset="0.561" stop-color="#70c262"/><stop offset="0.585" stop-color="#3cab58"/><stop offset="0.61" stop-color="#2aa354"/><stop offset="0.707" stop-color="#1c9850"/><stop offset="0.829" stop-color="#138e4d"/><stop offset="0.951" stop-color="#0f8648"/><stop offset="1" stop-color="#0f8648"/></linearGradient><linearGradient id="h50" x1="0" y1="368" x2="0" y2="450" gradientUnits="userSpaceOnUse"><stop offset="0" stop-color="#fdcb79"/><stop offset="0.0976" stop-color="#fed985"/><stop offset="0.146" stop-color="#fee08b"/><stop offset="0.293" stop-color="#fdf1aa"/><stop offset="0.39" stop-color="#fdf8b5"/><stop offset="0.415" stop-color="#fdf9b7"/><stop offset="0.439" stop-color="#f7f8b4"/><stop offset="0.463" stop-color="#e8f2a9"/><stop offset="0.488" stop-color="#d2e997"/><stop offset="0.537" stop-color="#9fd670"/><stop offset="0.561" stop-color="#7cc764"/><stop offset="0.585" stop-color="#4bb25b"/><stop offset="0.61" stop-color="#2ba354"/><stop offset="0.707" stop-color="#1d9851"/><stop offset="0.829" stop-color="#13904d"/><stop offset="0.902" stop-color="#11894a"/><stop offset="1" stop-color="#108849"/></linearGradient><linearGradient id="h51" x1="0" y1="368" x2="0" y2="450" gradientUnits="userSpaceOnUse"><stop offset="0" stop-color="#fdcb78"/><stop offset="0.146" stop-color="#fedf8a"/><stop offset="0.317" stop-color="#fdf3ac"/><stop offset="0.415" stop-color="#fdf9b7"/><stop offset="0.439" stop-color="#fbf9b8"/><stop offset="0.463" stop-color="#ecf4ac"/><stop offset="0.488" stop-color="#d9ec9d"/><stop offset="0.537" stop-color="#a7d876"/><stop offset="0.561" stop-color="#88cc66"/><stop offset="0.61" stop-color="#2ca555"/><stop offset="0.683" stop-color="#229c52"/><stop offset="0.756" stop-color="#199550"/><stop offset="0.854" stop-color="#138f4d"/><stop offset="0.878" stop-color="#128c4c"/><stop offset="1" stop-color="#118b4b"/></linearGradient><linearGradient id="h52" x1="0" y1="368" x2="0" y2="450" gradientUnits="userSpaceOnUse"><stop offset="0" stop-color="#fdca78"/><stop offset="0.146" stop-color="#fede89"/><stop offset="0.317" stop-color="#fdf2ab"/><stop offset="0.415" stop-color="#fdf8b6"/><stop offset="0.439" stop-color="#fdfab8"/><stop offset="0.463" stop-color="#f1f5b0"/><stop offset="0.488" stop-color="#e1efa4"/><stop offset="0.561" stop-color="#99d36b"/><stop offset="0.585" stop-color="#73c362"/><stop offset="0.61" stop-color="#43ae59"/><stop offset="0.634" stop-color="#2ba354"/><stop offset="0.707" stop-color="#209b51"/><stop offset="0.78" stop-color="#19954f"/><stop offset="0.854" stop-color="#14914e"/><stop offset="1" stop-color="#138e4c"/></linearGradient><linearGradient id="h53" x1="0" y1="368" x2="0" y2="450" gradientUnits="userSpaceOnUse"><stop offset="0" stop-color="#fdc977"/><stop offset="0.146" stop-color="#fedd88"/><stop offset="0.317" stop-color="#fdf2aa"/><stop offset="0.415" stop-color="#fdf8b5"/><stop offset="0.439" stop-color="#fdf9b7"/><stop offset="0.463" stop-color="#f9f8b6"/><stop offset="0.488" stop-color="#eaf3aa"/><stop offset="0.512" stop-color="#d7eb9b"/><stop offset="0.561" stop-color="#a6d876"/><stop offset="0.585" stop-color="#89cc67"/><stop offset="0.61" stop-color="#5fba5e"/><stop offset="0.634" stop-color="#2da555"/><stop offset="0.732" stop-color="#1f9a51"/><stop offset="0.805" stop-color="#19954f"/><stop offset="0.902" stop-color="#16934f"/><stop offset="1" stop-color="#15924e"/></linearGradient><linearGradient id="h54" x1="0" y1="368" x2="0" y2="450" gradientUnits="userSpaceOnUse"><stop offset="0" stop-color="#fdc977"/><stop offset="0.171" stop-color="#fedf8a"/><stop offset="0.317" stop-color="#fdf0a8"/><stop offset="0.39" stop-color="#fdf6b1"/><stop offset="0.463" stop-color="#fdfab8"/><stop offset="0.488" stop-color="#f2f6b1"/><stop offset="0.512" stop-color="#e4f0a5"/><stop offset="0.585" stop-color="#9bd46d"/><stop offset="0.61" stop-color="#77c563"/><stop offset="0.634" stop-color="#48b15a"/><stop offset="0.659" stop-color="#2ba455"/><stop offset="0.756" stop-color="#209a51"/><stop offset="0.829" stop-color="#1a9650"/><stop offset="1" stop-color="#18944f"/></linearGradient><linearGradient id="h55" x1="0" y1="368" x2="0" y2="450" gradientUnits="userSpaceOnUse"><stop offset="0" stop-color="#fdc876"/><stop offset="0.146" stop-color="#fedb87"/><stop offset="0.195" stop-color="#fee18d"/><stop offset="0.341" stop-color="#fdf2aa"/><stop offset="0.439" stop-color="#fdf8b5"/><stop offset="0.463" stop-color="#fdf9b7"/><stop offset="0.488" stop-color="#faf9b7"/><stop offset="0.512" stop-color="#ecf3ac"/><stop offset="0.537" stop-color="#d9ec9d"/><stop offset="0.585" stop-color="#abda7a"/><stop offset="0.61" stop-color="#96d269"/><stop offset="0.634" stop-color="#73c362"/><stop offset="0.659" stop-color="#48b15a"/><stop offset="0.683" stop-color="#2ba455"/><stop offset="0.78" stop-color="#219c52"/><stop offset="0.878" stop-color="#1d9850"/><stop offset="1" stop-color="#1b9650"/></linearGradient><linearGradient id="h56" x1="0" y1="368" x2="0" y2="450" gradientUnits="userSpaceOnUse"><stop offset="0" stop-color="#fdc876"/><stop offset="0.195" stop-color="#fedf8b"/><stop offset="0.341" stop-color="#fdf0a7"/><stop offset="0.366" stop-color="#fdf2ac"/><stop offset="0.463" stop-color="#fdf8b6"/><stop offset="0.488" stop-color="#fdf9b8"/><stop offset="0.512" stop-color="#f5f7b3"/><stop offset="0.537" stop-color="#e8f2a9"/><stop offset="0.561" stop-color="#d6eb9b"/><stop offset="0.634" stop-color="#96d269"/><stop offset="0.683" stop-color="#4eb35b"/><stop offset="0.707" stop-color="#2da555"/><stop offset="0.805" stop-color="#249e53"/><stop offset="0.951" stop-color="#209a51"/><stop offset="1" stop-color="#1f9a51"/></linearGradient><linearGradient id="h57" x1="0" y1="368" x2="0" y2="450" gradientUnits="userSpaceOnUse"><stop offset="0" stop-color="#fdc776"/><stop offset="0.22" stop-color="#fee18c"/><stop offset="0.366" stop-color="#fdf1aa"/><stop offset="0.463" stop-color="#fdf7b4"/><stop offset="0.512" stop-color="#fdf9b8"/><stop offset="0.537" stop-color="#f5f7b3"/><stop offset="0.561" stop-color="#e8f2a9"/><stop offset="0.585" stop-color="#d6eb9b"/><stop offset="0.634" stop-color="#addb7b"/><stop offset="0.659" stop-color="#9cd46e"/><stop offset="0.683" stop-color="#84ca66"/><stop offset="0.732" stop-color="#48b05a"/><stop offset="0.756" stop-color="#30a656"/><stop offset="0.78" stop-color="#2ba454"/><stop offset="0.902" stop-color="#269f53"/><stop offset="1" stop-color="#249e52"/></linearGradient><linearGradient id="h58" x1="0" y1="368" x2="0" y2="450" gradientUnits="userSpaceOnUse"><stop offset="0" stop-color="#fdc775"/><stop offset="0.0976" stop-color="#fed17e"/><stop offset="0.195" stop-color="#fedd88"/><stop offset="0.22" stop-color="#fedf8a"/><stop offset="0.39" stop-color="#fdf2ab"/><stop offset="0.537" stop-color="#fdf9b8"/><stop offset="0.561" stop-color="#f5f7b3"/><stop offset="0.61" stop-color="#dbed9f"/><stop offset="0.683" stop-color="#a8d977"/><stop offset="0.707" stop-color="#99d36b"/><stop offset="0.78" stop-color="#63bc5f"/><stop offset="0.854" stop-color="#33a856"/><stop offset="0.878" stop-color="#2da555"/><stop offset="0.976" stop-color="#2aa354"/><stop offset="1" stop-color="#2aa354"/></linearGradient><linearGradient id="h59" x1="0" y1="368" x2="0" y2="450" gradientUnits="userSpaceOnUse"><stop offset="0" stop-color="#fdc775"/><stop offset="0.122" stop-color="#fed380"/><stop offset="0.244" stop-color="#fee18c"/><stop offset="0.415" stop-color="#fdf2ab"/><stop offset="0.561" stop-color="#fdf9b8"/><stop offset="0.585" stop-color="#faf9b7"/><stop offset="0.634" stop-color="#e5f1a7"/><stop offset="0.683" stop-color="#c7e58f"/><stop offset="0.756" stop-color="#a4d874"/><stop offset="0.805" stop-color="#94d169"/><stop offset="0.854" stop-color="#7dc764"/><stop offset="0.927" stop-color="#64bd60"/><stop offset="1" stop-color="#56b75d"/></linearGradient><linearGradient id="h60" x1="0" y1="368" x2="0" y2="450" gradientUnits="userSpaceOnUse"><stop offset="0" stop-color="#fdc775"/><stop offset="0.122" stop-color="#fed27f"/><stop offset="0.268" stop-color="#fee18d"/><stop offset="0.439" stop-color="#fdf2ab"/><stop offset="0.585" stop-color="#fdf9b7"/><stop offset="0.61" stop-color="#fdfab8"/><stop offset="0.634" stop-color="#f7f8b4"/><stop offset="0.707" stop-color="#deeea1"/><stop offset="0.732" stop-color="#d2e998"/><stop offset="0.829" stop-color="#b2dd7f"/><stop offset="0.927" stop-color="#9fd670"/><stop offset="1" stop-color="#98d36b"/></linearGradient><linearGradient id="h61" x1="0" y1="368" x2="0" y2="450" gradientUnits="userSpaceOnUse"><stop offset="0" stop-color="#fdc775"/><stop offset="0.195" stop-color="#fed884"/><stop offset="0.268" stop-color="#fedf8a"/><stop offset="0.463" stop-color="#fdf2aa"/><stop offset="0.585" stop-color="#fdf7b4"/><stop offset="0.683" stop-color="#fcfab8"/><stop offset="0.732" stop-color="#eef4ae"/><stop offset="0.805" stop-color="#dfeea2"/><stop offset="0.854" stop-color="#d3ea98"/><stop offset="0.902" stop-color="#c8e690"/><stop offset="1" stop-color="#bfe289"/></linearGradient><linearGradient id="h62" x1="0" y1="368" x2="0" y2="450" gradientUnits="userSpaceOnUse"><stop offset="0" stop-color="#fdc775"/><stop offset="0.268" stop-color="#fedd89"/><stop offset="0.341" stop-color="#fee492"/><stop offset="0.415" stop-color="#feeb9e"/><stop offset="0.537" stop-color="#fdf3ad"/><stop offset="0.634" stop-color="#fdf7b4"/><stop offset="0.756" stop-color="#fdfab8"/><stop offset="0.78" stop-color="#fbf9b8"/><stop offset="0.854" stop-color="#f0f5af"/><stop offset="0.902" stop-color="#eaf3aa"/><stop offset="1" stop-color="#e4f0a6"/></linearGradient><linearGradient id="h63" x1="0" y1="368" x2="0" y2="450" gradientUnits="userSpaceOnUse"><stop offset="0" stop-color="#fdc775"/><stop offset="0.317" stop-color="#fee08b"/><stop offset="0.415" stop-color="#fee899"/><stop offset="0.561" stop-color="#fdf2ac"/><stop offset="0.707" stop-color="#fdf7b4"/><stop offset="0.976" stop-color="#fdfab9"/><stop offset="1" stop-color="#fcf9b8"/></linearGradient><linearGradient id="h64" x1="0" y1="368" x2="0" y2="450" gradientUnits="userSpaceOnUse"><stop offset="0" stop-color="#fdc775"/><stop offset="0.317" stop-color="#fede8a"/><stop offset="0.537" stop-color="#fdeea4"/><stop offset="0.634" stop-color="#fdf3ac"/><stop offset="0.805" stop-color="#fdf7b3"/><stop offset="1" stop-color="#fdf8b5"/></linearGradient><linearGradient id="h65" x1="0" y1="368" x2="0" y2="450" gradientUnits="userSpaceOnUse"><stop offset="0" stop-color="#fdc675"/><stop offset="0.195" stop-color="#fed581"/><stop offset="0.366" stop-color="#fee08c"/><stop offset="0.561" stop-color="#feeca1"/><stop offset="0.683" stop-color="#fdf2aa"/><stop offset="0.854" stop-color="#fdf5b0"/><stop offset="1" stop-color="#fdf6b2"/></linearGradient><linearGradient id="h66" x1="0" y1="368" x2="0" y2="450" gradientUnits="userSpaceOnUse"><stop offset="0" stop-color="#fdc675"/><stop offset="0.195" stop-color="#fed581"/><stop offset="0.39" stop-color="#fee18c"/><stop offset="0.561" stop-color="#fee99c"/><stop offset="0.732" stop-color="#fdf0a7"/><stop offset="0.902" stop-color="#fdf3ad"/><stop offset="1" stop-color="#fdf4ae"/></linearGradient><linearGradient id="h67" x1="0" y1="368" x2="0" y2="450" gradientUnits="userSpaceOnUse"><stop offset="0" stop-color="#fdc675"/><stop offset="0.195" stop-color="#fed581"/><stop offset="0.366" stop-color="#fede89"/><stop offset="0.659" stop-color="#feeb9e"/><stop offset="0.927" stop-color="#fdf0a8"/><stop offset="1" stop-color="#fdf1a9"/></linearGradient><linearGradient id="h68" x1="0" y1="368" x2="0" y2="450" gradientUnits="userSpaceOnUse"><stop offset="0" stop-color="#fdc674"/><stop offset="0.171" stop-color="#fed380"/><stop offset="0.463" stop-color="#fee28e"/><stop offset="0.683" stop-color="#fee99b"/><stop offset="0.902" stop-color="#feeda2"/><stop offset="1" stop-color="#fdeea3"/></linearGradient><linearGradient id="h69" x1="0" y1="368" x2="0" y2="450" gradientUnits="userSpaceOnUse"><stop offset="0" stop-color="#fdc674"/><stop offset="0.171" stop-color="#fed380"/><stop offset="0.415" stop-color="#fee08b"/><stop offset="0.512" stop-color="#fee28f"/><stop offset="0.683" stop-color="#fee798"/><stop offset="0.927" stop-color="#feeb9e"/><stop offset="1" stop-color="#feeb9f"/></linearGradient><linearGradient id="h70" x1="0" y1="368" x2="0" y2="450" gradientUnits="userSpaceOnUse"><stop offset="0" stop-color="#fdc674"/><stop offset="0.171" stop-color="#fed380"/><stop offset="0.39" stop-color="#fedf8a"/><stop offset="0.61" stop-color="#fee593"/><stop offset="0.683" stop-color="#fee696"/><stop offset="0.951" stop-color="#fee99b"/><stop offset="1" stop-color="#fee99b"/></linearGradient><linearGradient id="h71" x1="0" y1="368" x2="0" y2="450" gradientUnits="userSpaceOnUse"><stop offset="0" stop-color="#fdc674"/><stop offset="0.171" stop-color="#fed380"/><stop offset="0.39" stop-color="#fedf8a"/><stop offset="0.683" stop-color="#fee695"/><stop offset="0.976" stop-color="#fee899"/><stop offset="1" stop-color="#fee899"/></linearGradient><linearGradient id="h72" x1="0" y1="368" x2="0" y2="450" gradientUnits="userSpaceOnUse"><stop offset="0" stop-color="#fdc674"/><stop offset="0.146" stop-color="#fed17e"/><stop offset="0.39" stop-color="#fedf8a"/><stop offset="0.634" stop-color="#fee594"/><stop offset="1" stop-color="#fee899"/></linearGradient><linearGradient id="h73" x1="0" y1="368" x2="0" y2="450" gradientUnits="userSpaceOnUse"><stop offset="0" stop-color="#fdc674"/><stop offset="0.146" stop-color="#fed17e"/><stop offset="0.39" stop-color="#fedf8a"/><stop offset="0.683" stop-color="#fee695"/><stop offset="1" stop-color="#fee899"/></linearGradient><linearGradient id="h74" x1="0" y1="368" x2="0" y2="450" gradientUnits="userSpaceOnUse"><stop offset="0" stop-color="#fdc674"/><stop offset="0.195" stop-color="#fed480"/><stop offset="0.39" stop-color="#fede8a"/><stop offset="0.659" stop-color="#fee594"/><stop offset="1" stop-color="#fee899"/></linearGradient><linearGradient id="h75" x1="0" y1="368" x2="0" y2="450" gradientUnits="userSpaceOnUse"><stop offset="0" stop-color="#fdc674"/><stop offset="0.195" stop-color="#fed480"/><stop offset="0.39" stop-color="#fede8a"/><stop offset="0.659" stop-color="#fee594"/><stop offset="0.976" stop-color="#fee898"/><stop offset="1" stop-color="#fee898"/></linearGradient><linearGradient id="h76" x1="0" y1="368" x2="0" y2="450" gradientUnits="userSpaceOnUse"><stop offset="0" stop-color="#fdc574"/><stop offset="0.195" stop-color="#fed480"/><stop offset="0.439" stop-color="#fee08b"/><stop offset="0.659" stop-color="#fee594"/><stop offset="0.976" stop-color="#fee798"/><stop offset="1" stop-color="#fee798"/></linearGradient><linearGradient id="h77" x1="0" y1="368" x2="0" y2="450" gradientUnits="userSpaceOnUse"><stop offset="0" stop-color="#fdc574"/><stop offset="0.195" stop-color="#fed480"/><stop offset="0.439" stop-color="#fee08b"/><stop offset="0.683" stop-color="#fee594"/><stop offset="0.976" stop-color="#fee798"/><stop offset="1" stop-color="#fee798"/></linearGradient><linearGradient id="h78" x1="0" y1="368" x2="0" y2="450" gradientUnits="userSpaceOnUse"><stop offset="0" stop-color="#fdc574"/><stop offset="0.195" stop-color="#fed480"/><stop offset="0.415" stop-color="#fedf8a"/><stop offset="0.659" stop-color="#fee594"/><stop offset="1" stop-color="#fee798"/></linearGradient><linearGradient id="h79" x1="0" y1="368" x2="0" y2="450" gradientUnits="userSpaceOnUse"><stop offset="0" stop-color="#fdc574"/><stop offset="0.171" stop-color="#fed27f"/><stop offset="0.415" stop-color="#fedf8a"/><stop offset="0.659" stop-color="#fee594"/><stop offset="1" stop-color="#fee798"/></linearGradient><linearGradient id="h80" x1="0" y1="368" x2="0" y2="450" gradientUnits="userSpaceOnUse"><stop offset="0" stop-color="#fdc574"/><stop offset="0.171" stop-color="#fed27f"/><stop offset="0.415" stop-color="#fedf8a"/><stop offset="0.659" stop-color="#fee593"/><stop offset="1" stop-color="#fee798"/></linearGradient><linearGradient id="h81" x1="0" y1="368" x2="0" y2="450" gradientUnits="userSpaceOnUse"><stop offset="0" stop-color="#fdc573"/><stop offset="0.171" stop-color="#fed27f"/><stop offset="0.39" stop-color="#fede89"/><stop offset="0.683" stop-color="#fee594"/><stop offset="1" stop-color="#fee898"/></linearGradient><linearGradient id="h82" x1="0" y1="368" x2="0" y2="450" gradientUnits="userSpaceOnUse"><stop offset="0" stop-color="#fdc573"/><stop offset="0.171" stop-color="#fed27f"/><stop offset="0.39" stop-color="#fede89"/><stop offset="0.659" stop-color="#fee593"/><stop offset="0.878" stop-color="#fee798"/><stop offset="1" stop-color="#fee99b"/></linearGradient><linearGradient id="h83" x1="0" y1="368" x2="0" y2="450" gradientUnits="userSpaceOnUse"><stop offset="0" stop-color="#fdc573"/><stop offset="0.171" stop-color="#fed27f"/><stop offset="0.39" stop-color="#fede89"/><stop offset="0.659" stop-color="#fee593"/><stop offset="0.805" stop-color="#fee797"/><stop offset="1" stop-color="#feeb9f"/></linearGradient><linearGradient id="h84" x1="0" y1="368" x2="0" y2="450" gradientUnits="userSpaceOnUse"><stop offset="0" stop-color="#fdc573"/><stop offset="0.195" stop-color="#fed380"/><stop offset="0.39" stop-color="#fede89"/><stop offset="0.78" stop-color="#fee899"/><stop offset="1" stop-color="#fdeea4"/></linearGradient><linearGradient id="h85" x1="0" y1="368" x2="0" y2="450" gradientUnits="userSpaceOnUse"><stop offset="0" stop-color="#fdc573"/><stop offset="0.146" stop-color="#fed07d"/><stop offset="0.39" stop-color="#fedd89"/><stop offset="0.488" stop-color="#fee08b"/><stop offset="0.78" stop-color="#feea9d"/><stop offset="0.927" stop-color="#fdefa6"/><stop offset="1" stop-color="#fdf1aa"/></linearGradient><linearGradient id="h86" x1="0" y1="368" x2="0" y2="450" gradientUnits="userSpaceOnUse"><stop offset="0" stop-color="#fdc573"/><stop offset="0.146" stop-color="#fed07d"/><stop offset="0.39" stop-color="#fedd89"/><stop offset="0.512" stop-color="#fee18c"/><stop offset="0.756" stop-color="#feeb9f"/><stop offset="0.902" stop-color="#fdf2ab"/><stop offset="1" stop-color="#fdf5b0"/></linearGradient><linearGradient id="h87" x1="0" y1="368" x2="0" y2="450" gradientUnits="userSpaceOnUse"><stop offset="0" stop-color="#fdc473"/><stop offset="0.195" stop-color="#fed37f"/><stop offset="0.39" stop-color="#fedd89"/><stop offset="0.488" stop-color="#fee08b"/><stop offset="0.878" stop-color="#fdf5b0"/><stop offset="1" stop-color="#fdf9b7"/></linearGradient><linearGradient id="h88" x1="0" y1="368" x2="0" y2="450" gradientUnits="userSpaceOnUse"><stop offset="0" stop-color="#fdc473"/><stop offset="0.195" stop-color="#fed37f"/><stop offset="0.39" stop-color="#fedd89"/><stop offset="0.488" stop-color="#fee18d"/><stop offset="0.854" stop-color="#fdf7b4"/><stop offset="0.902" stop-color="#fdf9b8"/><stop offset="0.927" stop-color="#fcfab8"/><stop offset="1" stop-color="#eaf3ab"/></linearGradient><linearGradient id="h89" x1="0" y1="368" x2="0" y2="450" gradientUnits="userSpaceOnUse"><stop offset="0" stop-color="#fdc473"/><stop offset="0.195" stop-color="#fed37f"/><stop offset="0.463" stop-color="#fee18c"/><stop offset="0.805" stop-color="#fdf8b5"/><stop offset="0.854" stop-color="#fbf9b7"/><stop offset="0.902" stop-color="#e8f2a8"/><stop offset="1" stop-color="#d0e996"/></linearGradient><linearGradient id="h90" x1="0" y1="368" x2="0" y2="450" gradientUnits="userSpaceOnUse"><stop offset="0" stop-color="#fdc473"/><stop offset="0.171" stop-color="#fed17e"/><stop offset="0.439" stop-color="#fee08b"/><stop offset="0.659" stop-color="#fdf1a9"/><stop offset="0.78" stop-color="#fdf9b8"/><stop offset="0.805" stop-color="#f7f8b4"/><stop offset="0.902" stop-color="#d0e896"/><stop offset="0.951" stop-color="#c6e58e"/><stop offset="1" stop-color="#bee288"/></linearGradient><linearGradient id="h91" x1="0" y1="368" x2="0" y2="450" gradientUnits="userSpaceOnUse"><stop offset="0" stop-color="#fdc473"/><stop offset="0.171" stop-color="#fed17e"/><stop offset="0.415" stop-color="#fedf8a"/><stop offset="0.537" stop-color="#fee99b"/><stop offset="0.634" stop-color="#fdf2ab"/><stop offset="0.732" stop-color="#fdf9b7"/><stop offset="0.756" stop-color="#f7f8b5"/><stop offset="0.805" stop-color="#dfeea2"/><stop offset="0.854" stop-color="#cde793"/><stop offset="0.927" stop-color="#b9e084"/><stop offset="0.976" stop-color="#b0dc7d"/><stop offset="1" stop-color="#aedb7c"/></linearGradient><linearGradient id="h92" x1="0" y1="368" x2="0" y2="450" gradientUnits="userSpaceOnUse"><stop offset="0" stop-color="#fdc473"/><stop offset="0.171" stop-color="#fed17e"/><stop offset="0.366" stop-color="#fedc88"/><stop offset="0.439" stop-color="#fee28f"/><stop offset="0.683" stop-color="#fdf9b7"/><stop offset="0.707" stop-color="#faf9b7"/><stop offset="0.78" stop-color="#d6eb9b"/><stop offset="0.829" stop-color="#c4e48c"/><stop offset="0.902" stop-color="#b0dc7d"/><stop offset="0.951" stop-color="#aada79"/><stop offset="1" stop-color="#a7d976"/></linearGradient><linearGradient id="h93" x1="0" y1="368" x2="0" y2="450" gradientUnits="userSpaceOnUse"><stop offset="0" stop-color="#fdc472"/><stop offset="0.171" stop-color="#fed17e"/><stop offset="0.317" stop-color="#fed985"/><stop offset="0.415" stop-color="#fee28e"/><stop offset="0.659" stop-color="#fdf9b7"/><stop offset="0.683" stop-color="#f6f7b3"/><stop offset="0.707" stop-color="#e6f1a7"/><stop offset="0.756" stop-color="#cee894"/><stop offset="0.854" stop-color="#afdc7c"/><stop offset="0.976" stop-color="#a1d672"/><stop offset="1" stop-color="#a0d671"/></linearGradient><linearGradient id="h94" x1="0" y1="368" x2="0" y2="450" gradientUnits="userSpaceOnUse"><stop offset="0" stop-color="#fdc472"/><stop offset="0.171" stop-color="#fed17e"/><stop offset="0.317" stop-color="#fed985"/><stop offset="0.415" stop-color="#fee391"/><stop offset="0.634" stop-color="#fdf8b6"/><stop offset="0.659" stop-color="#f8f8b5"/><stop offset="0.707" stop-color="#d8eb9c"/><stop offset="0.732" stop-color="#cae691"/><stop offset="0.78" stop-color="#b8df83"/><stop offset="0.805" stop-color="#b0dc7d"/><stop offset="0.951" stop-color="#9ed56f"/><stop offset="1" stop-color="#9cd46e"/></linearGradient><linearGradient id="h95" x1="0" y1="368" x2="0" y2="450" gradientUnits="userSpaceOnUse"><stop offset="0" stop-color="#fdc472"/><stop offset="0.171" stop-color="#fed17e"/><stop offset="0.293" stop-color="#fed884"/><stop offset="0.366" stop-color="#fee08b"/><stop offset="0.537" stop-color="#fdf1aa"/><stop offset="0.61" stop-color="#fdf8b6"/><stop offset="0.634" stop-color="#faf9b6"/><stop offset="0.707" stop-color="#cbe792"/><stop offset="0.756" stop-color="#b6de82"/><stop offset="0.78" stop-color="#aedb7c"/><stop offset="0.854" stop-color="#a3d773"/><stop offset="0.902" stop-color="#9dd56f"/><stop offset="1" stop-color="#9ad46c"/></linearGradient><linearGradient id="h96" x1="0" y1="368" x2="0" y2="450" gradientUnits="userSpaceOnUse"><stop offset="0" stop-color="#fdc472"/><stop offset="0.195" stop-color="#fed27f"/><stop offset="0.293" stop-color="#fed884"/><stop offset="0.366" stop-color="#fee18d"/><stop offset="0.561" stop-color="#fdf6b1"/><stop offset="0.61" stop-color="#fcf9b8"/><stop offset="0.683" stop-color="#cde793"/><stop offset="0.732" stop-color="#b7df83"/><stop offset="0.756" stop-color="#aedb7c"/><stop offset="0.854" stop-color="#9ed56f"/><stop offset="1" stop-color="#98d36b"/></linearGradient><linearGradient id="h97" x1="0" y1="368" x2="0" y2="450" gradientUnits="userSpaceOnUse"><stop offset="0" stop-color="#fdc372"/><stop offset="0.146" stop-color="#fecf7c"/><stop offset="0.293" stop-color="#fed884"/><stop offset="0.366" stop-color="#fee18d"/><stop offset="0.561" stop-color="#fdf7b4"/><stop offset="0.585" stop-color="#fdfab8"/><stop offset="0.659" stop-color="#cee894"/><stop offset="0.732" stop-color="#afdc7c"/><stop offset="0.829" stop-color="#9ed56f"/><stop offset="1" stop-color="#97d269"/></linearGradient><linearGradient id="h98" x1="0" y1="368" x2="0" y2="450" gradientUnits="userSpaceOnUse"><stop offset="0" stop-color="#fdc372"/><stop offset="0.146" stop-color="#fecf7c"/><stop offset="0.293" stop-color="#fed884"/><stop offset="0.366" stop-color="#fee18d"/><stop offset="0.561" stop-color="#fdf7b4"/><stop offset="0.585" stop-color="#fdfab8"/><stop offset="0.634" stop-color="#dfeea2"/><stop offset="0.659" stop-color="#c4e48c"/><stop offset="0.707" stop-color="#b0dc7d"/><stop offset="0.805" stop-color="#9ed56f"/><stop offset="0.976" stop-color="#96d269"/><stop offset="1" stop-color="#94d169"/></linearGradient><linearGradient id="h99" x1="0" y1="368" x2="0" y2="450" gradientUnits="userSpaceOnUse"><stop offset="0" stop-color="#fdc372"/><stop offset="0.195" stop-color="#fed27e"/><stop offset="0.293" stop-color="#fed884"/><stop offset="0.366" stop-color="#fee18c"/><stop offset="0.512" stop-color="#fdf1a9"/><stop offset="0.61" stop-color="#fdf9b8"/><stop offset="0.634" stop-color="#f9f9b6"/><stop offset="0.659" stop-color="#b2dd7f"/><stop offset="0.756" stop-color="#a3d773"/><stop offset="0.78" stop-color="#9ed56f"/><stop offset="0.976" stop-color="#93d168"/><stop offset="1" stop-color="#92d068"/></linearGradient><clipPath id="hc"><rect x="97" y="54" width="283" height="393"/></clipPath><filter id="hb" x="0" y="0" width="1" height="1" filterUnits="objectBoundingBox" color-interpolation-filters="sRGB"><feGaussianBlur stdDeviation="1.6 1.2"/></filter></defs><g clip-path="url(#hc)"><g filter="url(#hb)"><rect x="90" y="50" width="298" height="4.5" fill="url(#r0)"/><rect x="90" y="54" width="298" height="4.5" fill="url(#r1)"/><rect x="90" y="58" width="298" height="4.5" fill="url(#r2)"/><rect x="90" y="62" width="298" height="4.5" fill="url(#r3)"/><rect x="90" y="66" width="298" height="4.5" fill="url(#r4)"/><rect x="90" y="70" width="298" height="4.5" fill="url(#r5)"/><rect x="90" y="74" width="298" height="4.5" fill="url(#r6)"/><rect x="90" y="78" width="298" height="4.5" fill="url(#r7)"/><rect x="90" y="82" width="298" height="4.5" fill="url(#r8)"/><rect x="90" y="86" width="298" height="4.5" fill="url(#r9)"/><rect x="90" y="90" width="298" height="4.5" fill="url(#r10)"/><rect x="90" y="94" width="298" height="4.5" fill="url(#r11)"/><rect x="90" y="98" width="298" height="4.5" fill="url(#r12)"/><rect x="90" y="102" width="298" height="4.5" fill="url(#r13)"/><rect x="90" y="106" width="298" height="4.5" fill="url(#r14)"/><rect x="90" y="110" width="298" height="4.5" fill="url(#r15)"/><rect x="90" y="114" width="298" height="4.5" fill="url(#r16)"/><rect x="90" y="118" width="298" height="4.5" fill="url(#r17)"/><rect x="90" y="122" width="298" height="4.5" fill="url(#r18)"/><rect x="90" y="126" width="298" height="4.5" fill="url(#r19)"/><rect x="90" y="130" width="298" height="4.5" fill="url(#r20)"/><rect x="90" y="134" width="298" height="4.5" fill="url(#r21)"/><rect x="90" y="138" width="298" height="4.5" fill="url(#r22)"/><rect x="90" y="142" width="298" height="4.5" fill="url(#r23)"/><rect x="90" y="146" width="298" height="4.5" fill="url(#r24)"/><rect x="90" y="150" width="298" height="4.5" fill="url(#r25)"/><rect x="90" y="154" width="298" height="4.5" fill="url(#r26)"/><rect x="90" y="158" width="298" height="4.5" fill="url(#r27)"/><rect x="90" y="162" width="298" height="4.5" fill="url(#r28)"/><rect x="90" y="166" width="298" height="4.5" fill="url(#r29)"/><rect x="90" y="170" width="298" height="4.5" fill="url(#r30)"/><rect x="90" y="174" width="298" height="4.5" fill="url(#r31)"/><rect x="90" y="178" width="298" height="4.5" fill="url(#r32)"/><rect x="90" y="182" width="298" height="4.5" fill="url(#r33)"/><rect x="90" y="186" width="298" height="4.5" fill="url(#r34)"/><rect x="90" y="190" width="298" height="4.5" fill="url(#r35)"/><rect x="90" y="194" width="298" height="4.5" fill="url(#r36)"/><rect x="90" y="198" width="298" height="4.5" fill="url(#r37)"/><rect x="90" y="202" width="298" height="4.5" fill="url(#r38)"/><rect x="90" y="206" width="298" height="4.5" fill="url(#r39)"/><rect x="90" y="210" width="298" height="4.5" fill="url(#r40)"/><rect x="90" y="214" width="298" height="4.5" fill="url(#r41)"/><rect x="90" y="218" width="298" height="4.5" fill="url(#r42)"/><rect x="90" y="222" width="298" height="4.5" fill="url(#r43)"/><rect x="90" y="226" width="298" height="4.5" fill="url(#r44)"/><rect x="90" y="230" width="298" height="4.5" fill="url(#r45)"/><rect x="90" y="234" width="298" height="4.5" fill="url(#r46)"/><rect x="90" y="238" width="298" height="4.5" fill="url(#r47)"/><rect x="90" y="242" width="298" height="4.5" fill="url(#r48)"/><rect x="90" y="246" width="298" height="4.5" fill="url(#r49)"/><rect x="90" y="250" width="298" height="4.5" fill="url(#r50)"/><rect x="90" y="254" width="298" height="4.5" fill="url(#r51)"/><rect x="90" y="258" width="298" height="4.5" fill="url(#r52)"/><rect x="90" y="262" width="298" height="4.5" fill="url(#r53)"/><rect x="90" y="266" width="298" height="4.5" fill="url(#r54)"/><rect x="90" y="270" width="298" height="4.5" fill="url(#r55)"/><rect x="90" y="274" width="298" height="4.5" fill="url(#r56)"/><rect x="90" y="278" width="298" height="4.5" fill="url(#r57)"/><rect x="90" y="282" width="298" height="4.5" fill="url(#r58)"/><rect x="90" y="286" width="298" height="4.5" fill="url(#r59)"/><rect x="90" y="290" width="298" height="4.5" fill="url(#r60)"/><rect x="90" y="294" width="298" height="4.5" fill="url(#r61)"/><rect x="90" y="298" width="298" height="4.5" fill="url(#r62)"/><rect x="90" y="302" width="298" height="4.5" fill="url(#r63)"/><rect x="90" y="306" width="298" height="4.5" fill="url(#r64)"/><rect x="90" y="310" width="298" height="4.5" fill="url(#r65)"/><rect x="90" y="314" width="298" height="4.5" fill="url(#r66)"/><rect x="90" y="318" width="298" height="4.5" fill="url(#r67)"/><rect x="90" y="322" width="298" height="4.5" fill="url(#r68)"/><rect x="90" y="326" width="298" height="4.5" fill="url(#r69)"/><rect x="90" y="330" width="298" height="4.5" fill="url(#r70)"/><rect x="90" y="334" width="298" height="4.5" fill="url(#r71)"/><rect x="90" y="338" width="298" height="4.5" fill="url(#r72)"/><rect x="90" y="342" width="298" height="4.5" fill="url(#r73)"/><rect x="90" y="346" width="298" height="4.5" fill="url(#r74)"/><rect x="90" y="350" width="298" height="4.5" fill="url(#r75)"/><rect x="90" y="354" width="298" height="4.5" fill="url(#r76)"/><rect x="90" y="358" width="298" height="4.5" fill="url(#r77)"/><rect x="90" y="362" width="298" height="4.5" fill="url(#r78)"/><rect x="90" y="366" width="298" height="4.5" fill="url(#r79)"/><rect x="90" y="370" width="298" height="4.5" fill="url(#r80)"/><rect x="90" y="374" width="298" height="4.5" fill="url(#r81)"/><rect x="90" y="368" width="3.5" height="82" fill="url(#h0)"/><rect x="93" y="368" width="3.5" height="82" fill="url(#h1)"/><rect x="96" y="368" width="3.5" height="82" fill="url(#h2)"/><rect x="99" y="368" width="3.5" height="82" fill="url(#h3)"/><rect x="102" y="368" width="3.5" height="82" fill="url(#h4)"/><rect x="105" y="368" width="3.5" height="82" fill="url(#h5)"/><rect x="108" y="368" width="3.5" height="82" fill="url(#h6)"/><rect x="111" y="368" width="3.5" height="82" fill="url(#h7)"/><rect x="114" y="368" width="3.5" height="82" fill="url(#h8)"/><rect x="117" y="368" width="3.5" height="82" fill="url(#h9)"/><rect x="120" y="368" width="3.5" height="82" fill="url(#h10)"/><rect x="123" y="368" width="3.5" height="82" fill="url(#h11)"/><rect x="126" y="368" width="3.5" height="82" fill="url(#h12)"/><rect x="129" y="368" width="3.5" height="82" fill="url(#h13)"/><rect x="132" y="368" width="3.5" height="82" fill="url(#h14)"/><rect x="135" y="368" width="3.5" height="82" fill="url(#h15)"/><rect x="138" y="368" width="3.5" height="82" fill="url(#h16)"/><rect x="141" y="368" width="3.5" height="82" fill="url(#h17)"/><rect x="144" y="368" width="3.5" height="82" fill="url(#h18)"/><rect x="147" y="368" width="3.5" height="82" fill="url(#h19)"/><rect x="150" y="368" width="3.5" height="82" fill="url(#h20)"/><rect x="153" y="368" width="3.5" height="82" fill="url(#h21)"/><rect x="156" y="368" width="3.5" height="82" fill="url(#h22)"/><rect x="159" y="368" width="3.5" height="82" fill="url(#h23)"/><rect x="162" y="368" width="3.5" height="82" fill="url(#h24)"/><rect x="165" y="368" width="3.5" height="82" fill="url(#h25)"/><rect x="168" y="368" width="3.5" height="82" fill="url(#h26)"/><rect x="171" y="368" width="3.5" height="82" fill="url(#h27)"/><rect x="174" y="368" width="3.5" height="82" fill="url(#h28)"/><rect x="177" y="368" width="3.5" height="82" fill="url(#h29)"/><rect x="180" y="368" width="3.5" height="82" fill="url(#h30)"/><rect x="183" y="368" width="3.5" height="82" fill="url(#h31)"/><rect x="186" y="368" width="3.5" height="82" fill="url(#h32)"/><rect x="189" y="368" width="3.5" height="82" fill="url(#h33)"/><rect x="192" y="368" width="3.5" height="82" fill="url(#h34)"/><rect x="195" y="368" width="3.5" height="82" fill="url(#h35)"/><rect x="198" y="368" width="3.5" height="82" fill="url(#h36)"/><rect x="201" y="368" width="3.5" height="82" fill="url(#h37)"/><rect x="204" y="368" width="3.5" height="82" fill="url(#h38)"/><rect x="207" y="368" width="3.5" height="82" fill="url(#h39)"/><rect x="210" y="368" width="3.5" height="82" fill="url(#h40)"/><rect x="213" y="368" width="3.5" height="82" fill="url(#h41)"/><rect x="216" y="368" width="3.5" height="82" fill="url(#h42)"/><rect x="219" y="368" width="3.5" height="82" fill="url(#h43)"/><rect x="222" y="368" width="3.5" height="82" fill="url(#h44)"/><rect x="225" y="368" width="3.5" height="82" fill="url(#h45)"/><rect x="228" y="368" width="3.5" height="82" fill="url(#h46)"/><rect x="231" y="368" width="3.5" height="82" fill="url(#h47)"/><rect x="234" y="368" width="3.5" height="82" fill="url(#h48)"/><rect x="237" y="368" width="3.5" height="82" fill="url(#h49)"/><rect x="240" y="368" width="3.5" height="82" fill="url(#h50)"/><rect x="243" y="368" width="3.5" height="82" fill="url(#h51)"/><rect x="246" y="368" width="3.5" height="82" fill="url(#h52)"/><rect x="249" y="368" width="3.5" height="82" fill="url(#h53)"/><rect x="252" y="368" width="3.5" height="82" fill="url(#h54)"/><rect x="255" y="368" width="3.5" height="82" fill="url(#h55)"/><rect x="258" y="368" width="3.5" height="82" fill="url(#h56)"/><rect x="261" y="368" width="3.5" height="82" fill="url(#h57)"/><rect x="264" y="368" width="3.5" height="82" fill="url(#h58)"/><rect x="267" y="368" width="3.5" height="82" fill="url(#h59)"/><rect x="270" y="368" width="3.5" height="82" fill="url(#h60)"/><rect x="273" y="368" width="3.5" height="82" fill="url(#h61)"/><rect x="276" y="368" width="3.5" height="82" fill="url(#h62)"/><rect x="279" y="368" width="3.5" height="82" fill="url(#h63)"/><rect x="282" y="368" width="3.5" height="82" fill="url(#h64)"/><rect x="285" y="368" width="3.5" height="82" fill="url(#h65)"/><rect x="288" y="368" width="3.5" height="82" fill="url(#h66)"/><rect x="291" y="368" width="3.5" height="82" fill="url(#h67)"/><rect x="294" y="368" width="3.5" height="82" fill="url(#h68)"/><rect x="297" y="368" width="3.5" height="82" fill="url(#h69)"/><rect x="300" y="368" width="3.5" height="82" fill="url(#h70)"/><rect x="303" y="368" width="3.5" height="82" fill="url(#h71)"/><rect x="306" y="368" width="3.5" height="82" fill="url(#h72)"/><rect x="309" y="368" width="3.5" height="82" fill="url(#h73)"/><rect x="312" y="368" width="3.5" height="82" fill="url(#h74)"/><rect x="315" y="368" width="3.5" height="82" fill="url(#h75)"/><rect x="318" y="368" width="3.5" height="82" fill="url(#h76)"/><rect x="321" y="368" width="3.5" height="82" fill="url(#h77)"/><rect x="324" y="368" width="3.5" height="82" fill="url(#h78)"/><rect x="327" y="368" width="3.5" height="82" fill="url(#h79)"/><rect x="330" y="368" width="3.5" height="82" fill="url(#h80)"/><rect x="333" y="368" width="3.5" height="82" fill="url(#h81)"/><rect x="336" y="368" width="3.5" height="82" fill="url(#h82)"/><rect x="339" y="368" width="3.5" height="82" fill="url(#h83)"/><rect x="342" y="368" width="3.5" height="82" fill="url(#h84)"/><rect x="345" y="368" width="3.5" height="82" fill="url(#h85)"/><rect x="348" y="368" width="3.5" height="82" fill="url(#h86)"/><rect x="351" y="368" width="3.5" height="82" fill="url(#h87)"/><rect x="354" y="368" width="3.5" height="82" fill="url(#h88)"/><rect x="357" y="368" width="3.5" height="82" fill="url(#h89)"/><rect x="360" y="368" width="3.5" height="82" fill="url(#h90)"/><rect x="363" y="368" width="3.5" height="82" fill="url(#h91)"/><rect x="366" y="368" width="3.5" height="82" fill="url(#h92)"/><rect x="369" y="368" width="3.5" height="82" fill="url(#h93)"/><rect x="372" y="368" width="3.5" height="82" fill="url(#h94)"/><rect x="375" y="368" width="3.5" height="82" fill="url(#h95)"/><rect x="378" y="368" width="3.5" height="82" fill="url(#h96)"/><rect x="381" y="368" width="3.5" height="82" fill="url(#h97)"/><rect x="384" y="368" width="3.5" height="82" fill="url(#h98)"/><rect x="387" y="368" width="3.5" height="82" fill="url(#h99)"/></g></g>
<defs><linearGradient id="cb" x1="0" x2="1" y1="0" y2="0"><stop offset="0.000" stop-color="#006437"/><stop offset="0.090" stop-color="#14914e"/><stop offset="0.170" stop-color="#2da555"/><stop offset="0.200" stop-color="#96d269"/><stop offset="0.240" stop-color="#fdfab9"/><stop offset="0.320" stop-color="#fee08b"/><stop offset="0.430" stop-color="#fdb969"/><stop offset="0.540" stop-color="#f6824b"/><stop offset="0.690" stop-color="#f05a37"/><stop offset="0.800" stop-color="#e43728"/><stop offset="0.875" stop-color="#d02429"/><stop offset="1.000" stop-color="#b01c2a"/></linearGradient></defs>
<rect x="274.9" y="23.1" width="103.9" height="24.8" fill="url(#cb)" stroke="#231f20" stroke-width="1.7"/>
<line x1="308.0" y1="23" x2="308.0" y2="30.6" stroke="#231f20" stroke-width="2"/>
<line x1="366.7" y1="23" x2="366.7" y2="30.6" stroke="#231f20" stroke-width="2"/>
<text x="308" y="14.6" font-size="20" text-anchor="middle">200</text>
<text x="366.7" y="14.6" font-size="20" text-anchor="middle">400</text>
<text x="205" y="41.2" font-size="20">R<tspan font-size="11.8" dy="6.3">xx</tspan><tspan dy="-6.3" dx="1.2"> (Ω)</tspan></text>
<rect x="98.3" y="55.2" width="280.2" height="390.2" fill="none" stroke="#231f20" stroke-width="4"/>
<line x1="125.9" y1="445" x2="125.9" y2="437.8" stroke="#231f20" stroke-width="3.5"/>
<line x1="125.9" y1="55" x2="125.9" y2="63" stroke="#231f20" stroke-width="3.3"/>
<line x1="237.8" y1="445" x2="237.8" y2="437.8" stroke="#231f20" stroke-width="3.5"/>
<line x1="237.8" y1="55" x2="237.8" y2="63" stroke="#231f20" stroke-width="3.3"/>
<line x1="350.5" y1="445" x2="350.5" y2="437.8" stroke="#231f20" stroke-width="3.5"/>
<line x1="350.5" y1="55" x2="350.5" y2="63" stroke="#231f20" stroke-width="3.3"/>
<line x1="98" y1="188.0" x2="105.6" y2="188.0" stroke="#231f20" stroke-width="3.5"/>
<line x1="98" y1="322.7" x2="105.6" y2="322.7" stroke="#231f20" stroke-width="3.5"/>
<line x1="378" y1="136.7" x2="370.8" y2="136.7" stroke="#231f20" stroke-width="3.5"/>
<line x1="378" y1="218.4" x2="370.8" y2="218.4" stroke="#231f20" stroke-width="3.5"/>
<line x1="378" y1="300.1" x2="370.8" y2="300.1" stroke="#231f20" stroke-width="3.5"/>
<line x1="378" y1="381.8" x2="370.8" y2="381.8" stroke="#231f20" stroke-width="3.5"/>
<polyline points="104.3,369.4 108.7,378.2" fill="none" stroke="#5b2d90" stroke-width="4.6" stroke-linecap="round" stroke-linejoin="round"/>
<polyline points="113.9,385.4 115.2,386.3 116.6,387.3 118.0,388.3 119.3,389.2 120.6,389.7 121.8,389.8 123.0,389.2 124.2,388.0 125.3,386.3 126.3,384.5 127.4,382.7 128.5,381.1" fill="none" stroke="#5b2d90" stroke-width="4.6" stroke-linecap="round" stroke-linejoin="round"/>
<polyline points="139.3,362.1 149.8,343.8" fill="none" stroke="#5b2d90" stroke-width="4.6" stroke-linecap="round" stroke-linejoin="round"/>
<polyline points="163.5,327.2 180.3,312.0" fill="none" stroke="#5b2d90" stroke-width="4.6" stroke-linecap="round" stroke-linejoin="round"/>
<polyline points="194.6,296.6 211.5,283.5" fill="none" stroke="#5b2d90" stroke-width="4.6" stroke-linecap="round" stroke-linejoin="round"/>
<polyline points="227.0,266.3 228.5,265.2 230.0,263.9 231.5,262.7 233.0,261.6 234.5,260.8 235.9,260.5 237.1,260.7 238.2,261.3 239.3,262.1 240.3,263.0 241.4,264.0 242.5,264.8" fill="none" stroke="#5b2d90" stroke-width="4.6" stroke-linecap="round" stroke-linejoin="round"/>
<polyline points="252.2,280.3 259.2,294.7" fill="none" stroke="#5b2d90" stroke-width="4.6" stroke-linecap="round" stroke-linejoin="round"/>
<polyline points="266.9,311.4 274.7,326.9" fill="none" stroke="#5b2d90" stroke-width="4.6" stroke-linecap="round" stroke-linejoin="round"/>
<polyline points="282.5,343.2 283.2,344.5 283.9,345.9 284.6,347.3 285.3,348.6 286.1,349.6 287.1,350.2 288.4,350.3 290.0,349.8 291.6,349.0 293.4,348.1 295.1,347.1 296.8,346.3" fill="none" stroke="#5b2d90" stroke-width="4.6" stroke-linecap="round" stroke-linejoin="round"/>
<polyline points="311.2,332.3 312.0,330.7 312.9,329.1 313.7,327.4 314.5,325.8 315.4,324.3 316.3,323.0 317.1,322.0 317.9,321.2 318.8,320.4 319.6,319.6 320.5,318.8 321.3,318.0" fill="none" stroke="#5b2d90" stroke-width="4.6" stroke-linecap="round" stroke-linejoin="round"/>
<polyline points="336.8,306.3 338.2,306.4 339.6,306.4 341.0,306.4 342.4,306.5 343.6,306.9 344.6,307.5 345.4,308.8 345.9,310.5 346.1,312.6 346.2,314.8 346.4,317.0 346.6,319.1" fill="none" stroke="#5b2d90" stroke-width="4.6" stroke-linecap="round" stroke-linejoin="round"/>
<polyline points="348.5,343.2 350.0,364.6" fill="none" stroke="#5b2d90" stroke-width="4.6" stroke-linecap="round" stroke-linejoin="round"/>
<polyline points="352.0,387.9 354.3,411.2" fill="none" stroke="#5b2d90" stroke-width="4.6" stroke-linecap="round" stroke-linejoin="round"/>
<polyline points="355.1,435.6 356.3,446.0" fill="none" stroke="#5b2d90" stroke-width="4.6" stroke-linecap="round" stroke-linejoin="round"/>
<text x="-2.4" y="61.5" font-size="34" font-weight="bold">a</text>
<text x="91.5" y="61.2" font-size="29.5" text-anchor="end">150</text>
<text x="91.5" y="198.3" font-size="29.5" text-anchor="end">100</text>
<text x="91.5" y="331.4" font-size="29.5" text-anchor="end">50</text>
<text transform="translate(21.3,249.3) rotate(-90)" font-size="29.5" text-anchor="middle"><tspan font-style="italic">T</tspan><tspan dx="-2.2"> (K)</tspan></text>
<text x="125.9" y="474.4" font-size="29.5" text-anchor="middle">-2</text>
<text x="238.2" y="474.4" font-size="29.5" text-anchor="middle">0</text>
<text x="350.5" y="474.4" font-size="29.5" text-anchor="middle">2</text>
<text x="238.4" y="509.9" font-size="29.5" text-anchor="middle">Δ<tspan font-style="italic" dx="1.4">n</tspan><tspan dx="-4.9"> (10</tspan><tspan font-size="17" dy="-9.5" dx="2.2">13</tspan><tspan dy="9.5" dx="-3"> cm</tspan><tspan font-size="17" dy="-9.5" dx="1.5">-2</tspan><tspan dy="9.5" dx="-1.5">)</tspan></text>
<text x="388" y="65.3" font-size="29.5" fill="#5b2d90">5</text>
<text x="388" y="147.0" font-size="29.5" fill="#5b2d90">4</text>
<text x="388" y="228.7" font-size="29.5" fill="#5b2d90">3</text>
<text x="388" y="310.4" font-size="29.5" fill="#5b2d90">2</text>
<text x="388" y="392.1" font-size="29.5" fill="#5b2d90">1</text>
<text transform="translate(424.5,252) rotate(90)" font-size="29.5" text-anchor="middle" fill="#5b2d90"><tspan font-style="italic">T</tspan><tspan font-style="italic" font-size="23" dy="8.3" dx="-1">c</tspan><tspan dy="-8.3" dx="-1.5"> (K)</tspan></text>
</g>
<g id="panel-b">
<polygon points="558.0,279.4 562.2,279.4 566.5,279.5 570.8,279.5 575.0,279.6 579.0,279.6 582.6,279.6 586.3,279.6 589.8,279.6 593.0,279.7 595.7,279.9 596.9,280.1 597.8,280.3 598.7,280.6 599.6,280.9 600.5,281.3 601.7,281.9 602.9,282.5 604.1,283.2 605.2,284.0 606.3,284.9 607.3,285.9 608.1,287.0 608.9,288.1 609.7,289.3 610.5,290.5 611.4,291.8 612.2,293.0 613.1,294.4 614.0,295.8 614.8,297.3 615.9,299.6 617.0,302.1 618.1,304.8 619.2,307.4 620.2,309.7 621.0,311.3 621.7,312.8 622.4,314.3 623.2,315.7 624.0,317.0 624.7,318.2 625.5,319.3 626.2,320.3 627.1,321.3 628.0,322.1 629.1,322.7 630.2,323.2 631.5,323.6 632.7,323.9 634.0,324.2 635.2,324.4 636.4,324.5 637.6,324.5 638.9,324.5 640.4,324.5 643.3,324.6 646.8,324.7 650.4,324.8 653.9,324.7 656.7,324.5 658.1,324.3 659.3,324.1 660.4,323.8 661.4,323.4 662.5,323.0 663.6,322.5 664.6,321.9 665.6,321.2 666.6,320.5 667.6,319.8 668.8,318.9 670.0,318.0 671.1,317.0 672.3,316.0 673.5,315.0 674.7,314.0 675.9,313.1 677.1,312.1 678.2,311.0 679.3,309.7 680.5,307.7 681.6,305.3 682.6,302.8 683.6,300.3 684.7,298.1 685.7,296.4 686.6,294.9 687.6,293.4 688.6,291.9 689.5,290.5 690.3,289.4 691.1,288.3 691.9,287.3 692.6,286.2 693.3,284.9 694.1,282.8 694.7,280.4 695.3,277.8 695.8,275.1 696.4,272.4 697.1,269.1 697.9,265.7 698.6,262.2 699.3,258.6 700.0,255.0 700.7,251.2 701.4,247.4 702.0,243.6 702.7,239.5 703.3,235.3 704.1,229.6 704.9,223.5 705.7,217.2 706.5,210.7 707.2,204.3 707.9,197.3 708.5,190.0 709.1,182.7 709.7,175.7 710.3,169.3 710.8,165.1 711.3,161.2 711.8,157.4 712.2,153.8 712.7,150.0 713.1,146.1 713.4,142.0 713.8,138.0 714.2,134.3 714.7,131.0 715.1,129.1 715.5,127.5 716.0,125.9 716.4,124.5 717.0,123.0 717.6,121.7 718.2,120.4 718.9,119.2 719.5,118.0 720.2,116.7 720.8,115.3 721.5,114.0 722.1,112.6 722.8,111.2 723.5,110.0 724.2,108.9 725.0,107.9 725.8,106.9 726.6,106.0 727.6,105.2 728.7,104.4 730.0,103.7 731.3,103.1 732.6,102.5 734.0,102.0 735.5,101.6 737.1,101.3 738.8,101.0 740.4,100.7 741.9,100.4 743.2,100.0 744.4,99.6 745.6,99.2 746.8,98.8 748.0,98.5 749.2,98.2 750.3,98.0 751.4,97.7 752.7,97.6 754.1,97.4 756.8,97.3 759.8,97.2 763.1,97.3 766.6,97.4 770.0,97.4 773.9,97.4 778.0,97.4 782.2,97.4 786.4,97.4 790.5,97.4 790.5,446 558,446" fill="#ce3434"/>
<polygon points="558.0,371.2 559.7,371.5 561.3,371.7 562.9,372.0 564.6,372.3 566.4,372.6 568.8,373.0 571.4,373.4 574.0,373.9 576.8,374.3 579.5,374.8 582.6,375.3 585.8,375.8 589.0,376.4 592.2,376.9 595.2,377.5 597.7,378.0 600.1,378.5 602.5,379.0 604.9,379.5 607.4,380.1 610.4,380.8 613.6,381.5 616.9,382.2 620.1,382.9 623.1,383.6 625.6,384.1 628.0,384.6 630.4,385.1 632.8,385.6 635.3,386.2 638.5,387.0 641.9,387.8 645.4,388.6 648.8,389.6 651.9,390.6 654.3,391.5 656.6,392.5 658.8,393.5 661.0,394.6 663.3,395.8 665.9,397.2 668.6,398.7 671.3,400.3 673.9,402.0 676.4,403.7 678.5,405.3 680.5,406.9 682.4,408.6 684.2,410.4 686.0,412.4 687.9,414.8 689.9,417.4 691.7,420.0 693.3,422.8 694.7,425.5 695.7,427.9 696.5,430.4 697.2,432.9 697.7,435.4 698.2,437.7 698.5,439.5 698.8,441.3 698.9,443.0 699.1,444.8 699.3,446.5 558,446" fill="#3878be"/>
<polygon points="746.0,446.5 746.6,445.1 747.1,443.7 747.7,442.3 748.3,440.9 748.9,439.4 749.6,437.5 750.4,435.6 751.2,433.5 752.1,431.5 753.0,429.4 754.2,427.0 755.5,424.4 756.8,421.9 758.2,419.4 759.6,417.1 760.7,415.3 761.8,413.7 762.9,412.1 764.1,410.5 765.4,408.8 767.2,406.7 769.2,404.4 771.3,402.2 773.4,400.0 775.3,398.1 776.7,396.8 777.9,395.6 779.2,394.5 780.5,393.4 781.9,392.3 783.5,391.2 785.2,390.1 787.0,389.1 788.8,388.0 790.5,387.0 790.5,446" fill="#3878be"/>
<polyline points="558.0,279.4 562.2,279.4 566.5,279.5 570.8,279.5 575.0,279.6 579.0,279.6 582.6,279.6 586.3,279.6 589.8,279.6 593.0,279.7 595.7,279.9 596.9,280.1 597.8,280.3 598.7,280.6 599.6,280.9 600.5,281.3 601.7,281.9 602.9,282.5 604.1,283.2 605.2,284.0 606.3,284.9 607.3,285.9 608.1,287.0 608.9,288.1 609.7,289.3 610.5,290.5 611.4,291.8 612.2,293.0 613.1,294.4 614.0,295.8 614.8,297.3 615.9,299.6 617.0,302.1 618.1,304.8 619.2,307.4 620.2,309.7 621.0,311.3 621.7,312.8 622.4,314.3 623.2,315.7 624.0,317.0 624.7,318.2 625.5,319.3 626.2,320.3 627.1,321.3 628.0,322.1 629.1,322.7 630.2,323.2 631.5,323.6 632.7,323.9 634.0,324.2 635.2,324.4 636.4,324.5 637.6,324.5 638.9,324.5 640.4,324.5 643.3,324.6 646.8,324.7 650.4,324.8 653.9,324.7 656.7,324.5 658.1,324.3 659.3,324.1 660.4,323.8 661.4,323.4 662.5,323.0 663.6,322.5 664.6,321.9 665.6,321.2 666.6,320.5 667.6,319.8 668.8,318.9 670.0,318.0 671.1,317.0 672.3,316.0 673.5,315.0 674.7,314.0 675.9,313.1 677.1,312.1 678.2,311.0 679.3,309.7 680.5,307.7 681.6,305.3 682.6,302.8 683.6,300.3 684.7,298.1 685.7,296.4 686.6,294.9 687.6,293.4 688.6,291.9 689.5,290.5 690.3,289.4 691.1,288.3 691.9,287.3 692.6,286.2 693.3,284.9 694.1,282.8 694.7,280.4 695.3,277.8 695.8,275.1 696.4,272.4 697.1,269.1 697.9,265.7 698.6,262.2 699.3,258.6 700.0,255.0 700.7,251.2 701.4,247.4 702.0,243.6 702.7,239.5 703.3,235.3 704.1,229.6 704.9,223.5 705.7,217.2 706.5,210.7 707.2,204.3 707.9,197.3 708.5,190.0 709.1,182.7 709.7,175.7 710.3,169.3 710.8,165.1 711.3,161.2 711.8,157.4 712.2,153.8 712.7,150.0 713.1,146.1 713.4,142.0 713.8,138.0 714.2,134.3 714.7,131.0 715.1,129.1 715.5,127.5 716.0,125.9 716.4,124.5 717.0,123.0 717.6,121.7 718.2,120.4 718.9,119.2 719.5,118.0 720.2,116.7 720.8,115.3 721.5,114.0 722.1,112.6 722.8,111.2 723.5,110.0 724.2,108.9 725.0,107.9 725.8,106.9 726.6,106.0 727.6,105.2 728.7,104.4 730.0,103.7 731.3,103.1 732.6,102.5 734.0,102.0 735.5,101.6 737.1,101.3 738.8,101.0 740.4,100.7 741.9,100.4 743.2,100.0 744.4,99.6 745.6,99.2 746.8,98.8 748.0,98.5 749.2,98.2 750.3,98.0 751.4,97.7 752.7,97.6 754.1,97.4 756.8,97.3 759.8,97.2 763.1,97.3 766.6,97.4 770.0,97.4 773.9,97.4 778.0,97.4 782.2,97.4 786.4,97.4 790.5,97.4" fill="none" stroke="#231f20" stroke-width="4.1" stroke-dasharray="15.68 12.32" stroke-dashoffset="7.00"/>
<polyline points="558.0,371.2 559.7,371.5 561.3,371.7 562.9,372.0 564.6,372.3 566.4,372.6 568.8,373.0 571.4,373.4 574.0,373.9 576.8,374.3 579.5,374.8 582.6,375.3 585.8,375.8 589.0,376.4 592.2,376.9 595.2,377.5 597.7,378.0 600.1,378.5 602.5,379.0 604.9,379.5 607.4,380.1 610.4,380.8 613.6,381.5 616.9,382.2 620.1,382.9 623.1,383.6 625.6,384.1 628.0,384.6 630.4,385.1 632.8,385.6 635.3,386.2 638.5,387.0 641.9,387.8 645.4,388.6 648.8,389.6 651.9,390.6 654.3,391.5 656.6,392.5 658.8,393.5 661.0,394.6 663.3,395.8 665.9,397.2 668.6,398.7 671.3,400.3 673.9,402.0 676.4,403.7 678.5,405.3 680.5,406.9 682.4,408.6 684.2,410.4 686.0,412.4 687.9,414.8 689.9,417.4 691.7,420.0 693.3,422.8 694.7,425.5 695.7,427.9 696.5,430.4 697.2,432.9 697.7,435.4 698.2,437.7 698.5,439.5 698.8,441.3 698.9,443.0 699.1,444.8 699.3,446.5" fill="none" stroke="#231f20" stroke-width="4.1" stroke-dasharray="16.02 12.58" stroke-dashoffset="6.80"/>
<polyline points="746.0,446.5 746.6,445.1 747.1,443.7 747.7,442.3 748.3,440.9 748.9,439.4 749.6,437.5 750.4,435.6 751.2,433.5 752.1,431.5 753.0,429.4 754.2,427.0 755.5,424.4 756.8,421.9 758.2,419.4 759.6,417.1 760.7,415.3 761.8,413.7 762.9,412.1 764.1,410.5 765.4,408.8 767.2,406.7 769.2,404.4 771.3,402.2 773.4,400.0 775.3,398.1 776.7,396.8 777.9,395.6 779.2,394.5 780.5,393.4 781.9,392.3 783.5,391.2 785.2,390.1 787.0,389.1 788.8,388.0 790.5,387.0" fill="none" stroke="#231f20" stroke-width="4.1" stroke-dasharray="15.68 12.32" stroke-dashoffset="9.52"/>
<rect x="558.3" y="55.3" width="232" height="390.1" fill="none" stroke="#231f20" stroke-width="4"/>
<line x1="581.3" y1="445" x2="581.3" y2="437.6" stroke="#231f20" stroke-width="3.8"/>
<line x1="581.3" y1="55" x2="581.3" y2="63.4" stroke="#231f20" stroke-width="3.8"/>
<line x1="674.0" y1="445" x2="674.0" y2="437.6" stroke="#231f20" stroke-width="3.8"/>
<line x1="674.0" y1="55" x2="674.0" y2="63.4" stroke="#231f20" stroke-width="3.8"/>
<line x1="767.3" y1="445" x2="767.3" y2="437.6" stroke="#231f20" stroke-width="3.8"/>
<line x1="767.3" y1="55" x2="767.3" y2="63.4" stroke="#231f20" stroke-width="3.8"/>
<line x1="558" y1="96.0" x2="566.6" y2="96.0" stroke="#231f20" stroke-width="3.8"/>
<line x1="790" y1="96.0" x2="782" y2="96.0" stroke="#231f20" stroke-width="3.8"/>
<line x1="558" y1="279.0" x2="566.6" y2="279.0" stroke="#231f20" stroke-width="3.8"/>
<line x1="790" y1="279.0" x2="782" y2="279.0" stroke="#231f20" stroke-width="3.8"/>
<text x="482" y="61.6" font-size="33" font-weight="bold">b</text>
<text x="552.6" y="104.8" font-size="29.5" text-anchor="end">100</text>
<text x="552.6" y="288.2" font-size="29.5" text-anchor="end">50</text>
<text transform="translate(500.8,249.6) rotate(-90)" font-size="29.5" text-anchor="middle"><tspan font-style="italic">T</tspan><tspan dx="-2.2"> (K)</tspan></text>
<text x="581.6" y="474.4" font-size="29.5" text-anchor="middle">-2</text>
<text x="674.5" y="474.4" font-size="29.5" text-anchor="middle">0</text>
<text x="768.2" y="474.4" font-size="29.5" text-anchor="middle">2</text>
<text x="675.2" y="509.9" font-size="29.5" text-anchor="middle">Δ<tspan font-style="italic" dx="1.4">n</tspan><tspan dx="-4.9"> (10</tspan><tspan font-size="17" dy="-9.5" dx="2.2">13</tspan><tspan dy="9.5" dx="-3"> cm</tspan><tspan font-size="17" dy="-9.5" dx="1.5">-2</tspan><tspan dy="9.5" dx="-1.5">)</tspan></text>
<text x="571.5" y="347.9" font-size="35" fill="#fff">~<tspan dy="-3" dx="0.5" textLength="18.5" lengthAdjust="spacingAndGlyphs">T</tspan></text>
<text x="567.5" y="426.8" font-size="35" fill="#fff">~<tspan dy="-3" textLength="19" lengthAdjust="spacingAndGlyphs">T</tspan><tspan font-size="20" dy="-10.5" dx="-1.2">2</tspan></text>
</g>
<g id="panel-c">
<rect x="936.0" y="55.4" width="185.1" height="390.4" fill="none" stroke="#231f20" stroke-width="4.2"/>
<line x1="1092.3" y1="445" x2="1092.3" y2="438" stroke="#231f20" stroke-width="3.6"/>
<line x1="1092.3" y1="55" x2="1092.3" y2="64.2" stroke="#231f20" stroke-width="3.6"/>
<line x1="936.0" y1="229.0" x2="945.5" y2="229.0" stroke="#231f20" stroke-width="3.6"/>
<line x1="1121.1" y1="229.0" x2="1111.6" y2="229.0" stroke="#231f20" stroke-width="3.6"/>
<line x1="936.0" y1="402.8" x2="945.5" y2="402.8" stroke="#231f20" stroke-width="3.6"/>
<line x1="1121.1" y1="402.8" x2="1111.6" y2="402.8" stroke="#231f20" stroke-width="3.6"/>
<polyline points="942.2,411.8 943.0,411.7 943.8,411.6 944.6,411.5 945.5,411.4 946.3,411.2 947.1,411.1 947.9,410.9 948.7,410.6 949.5,410.4 950.3,410.0 951.2,409.5 952.0,408.8 952.8,408.0 953.6,407.0 954.4,406.0 955.2,405.0 956.0,404.0 956.9,403.0 957.7,401.8 958.5,400.7 959.3,399.5 960.1,398.3 960.9,397.0 961.8,395.6 962.6,394.2 963.4,392.7 964.2,391.2 965.0,389.7 965.8,388.0 966.6,386.3 967.5,384.6 968.3,383.0 969.1,381.3 969.9,379.7 970.7,378.1 971.5,376.4 972.3,374.8 973.2,373.2 974.0,371.5 974.8,369.9 975.6,368.2 976.4,366.5 977.2,364.8 978.0,363.2 978.9,361.5 979.7,359.8 980.5,358.3 981.3,356.8 982.1,355.3 982.9,353.9 983.7,352.5 984.6,351.3 985.4,349.7 986.2,348.2 987.0,346.4 987.8,344.8 988.6,343.0 989.4,341.5 990.3,340.4 991.1,339.0 991.9,338.3 992.7,337.2 993.5,336.4 994.3,335.1 995.1,333.7 996.0,332.7 996.8,331.6 997.6,330.5 998.4,329.5 999.2,328.3 1000.0,327.8 1000.9,326.7 1001.7,325.4 1002.5,324.6 1003.3,323.4 1004.1,322.1 1004.9,320.9 1005.7,319.4 1006.6,318.2 1007.4,317.1 1008.2,315.8 1009.0,315.1 1009.8,313.9 1010.6,313.2 1011.4,311.9 1012.3,309.8 1013.1,308.7 1013.9,307.4 1014.7,305.8 1015.5,304.5 1016.3,303.8 1017.1,303.4 1018.0,302.5 1018.8,301.8 1019.6,300.6 1020.4,299.8 1021.2,299.2 1022.0,298.5 1022.8,297.1 1023.7,295.9 1024.5,295.2 1025.3,294.6 1026.1,293.0 1026.9,291.5 1027.7,290.7 1028.5,289.8 1029.4,288.7 1030.2,287.2 1031.0,286.1 1031.8,285.1 1032.6,284.5 1033.4,283.1 1034.3,282.2 1035.1,281.6 1035.9,280.9 1036.7,279.9 1037.5,279.1 1038.3,278.2 1039.1,277.3 1040.0,276.0 1040.8,274.5 1041.6,273.9 1042.4,272.8 1043.2,272.1 1044.0,271.2 1044.8,270.4 1045.7,269.8 1046.5,268.8 1047.3,268.4 1048.1,267.9 1048.9,266.8 1049.7,266.3 1050.5,265.6 1051.4,264.6 1052.2,263.5 1053.0,262.3 1053.8,261.2 1054.6,260.0 1055.4,259.3 1056.2,258.7 1057.1,258.0 1057.9,257.1 1058.7,257.0 1059.5,256.5 1060.3,255.6 1061.1,255.0 1061.9,254.0 1062.8,253.2 1063.6,252.4 1064.4,251.1 1065.2,250.4 1066.0,249.3 1066.8,248.5 1067.7,247.7 1068.5,246.6 1069.3,246.1 1070.1,245.5 1070.9,244.5 1071.7,243.5 1072.5,242.9 1073.4,241.7 1074.2,241.7 1075.0,240.6 1075.8,239.6 1076.6,239.2 1077.4,238.2 1078.2,237.9 1079.1,236.6 1079.9,235.7 1080.7,235.2 1081.5,233.9 1082.3,233.5 1083.1,232.2 1083.9,230.8 1084.8,230.2 1085.6,229.9 1086.4,229.5 1087.2,229.3 1088.0,229.3 1088.8,228.7 1089.6,228.0 1090.5,226.4 1091.3,225.3 1092.1,223.8 1092.9,222.9 1093.7,222.5 1094.5,221.7 1095.3,221.4 1096.2,220.5 1097.0,220.1 1097.8,219.3 1098.6,218.6 1099.4,217.8 1100.2,217.9 1101.0,217.9 1101.9,217.2 1102.7,216.3 1103.5,215.4 1104.3,214.9 1105.1,213.6 1105.9,212.7 1106.8,212.2 1107.6,212.0 1108.4,211.6 1109.2,210.8 1110.0,210.1 1110.8,209.1 1111.6,208.0 1112.5,207.4 1113.3,206.1 1114.1,205.9 1114.9,204.9 1115.7,204.3 1116.5,204.0 1117.3,202.7 1118.2,202.2 1119.0,200.8 1119.8,200.1 1120.6,199.3" fill="none" stroke="#6d6e71" stroke-width="3.8" stroke-linejoin="round" stroke-linecap="round"/>
<polyline points="937.6,413.4 938.8,413.3 939.9,413.1 941.0,412.8 942.1,412.4 943.2,412.0 944.3,411.5 945.4,410.9 946.6,410.3 947.7,409.6 948.8,408.8 949.9,407.9 951.0,407.0 952.1,406.0 953.2,404.9 954.4,403.8 955.5,402.6 956.6,401.3 957.7,400.0 958.8,398.5 959.9,397.0 961.0,395.5 962.1,393.8 963.3,392.1 964.4,390.3 965.5,388.5 966.6,386.6 967.7,384.6 968.8,382.5 969.9,380.4 971.1,378.2 972.2,375.9 973.3,373.5 974.4,371.1 975.5,368.6 976.6,366.0 977.7,363.4 978.9,360.7 980.0,357.9 981.1,355.1 982.2,352.1 983.3,349.1 984.4,346.1 985.5,342.9 986.7,339.7 987.8,336.4 988.9,333.1 990.0,329.7 991.1,326.2 992.2,322.6 993.3,319.0 994.5,315.3 995.6,311.5 996.7,307.6 997.8,303.7 998.9,299.7 1000.0,295.7 1001.1,291.5 1002.3,287.3 1003.4,283.0 1004.5,278.7 1005.6,274.3 1006.7,269.8 1007.8,265.2 1008.9,260.6 1010.1,255.9 1011.2,251.1 1012.3,246.2 1013.4,241.3 1014.5,236.3 1015.6,231.3 1016.7,226.1 1017.9,220.9 1019.0,215.6 1020.1,210.3 1021.2,204.9 1022.3,199.4 1023.4,193.8 1024.5,188.2 1025.6,182.5 1026.8,176.7 1027.9,170.9 1029.0,164.9 1030.1,158.9 1031.2,152.9 1032.3,146.8 1033.4,140.5 1034.6,134.3 1035.7,127.9 1036.8,121.5 1037.9,115.0 1039.0,108.5 1040.1,101.8 1041.2,95.1 1042.4,88.3 1043.5,81.5 1044.6,74.6 1045.7,67.6 1046.8,60.5 1047.9,53.4" fill="none" stroke="#3b79b7" stroke-width="4.0" stroke-dasharray="19.02 10.70" stroke-dashoffset="12.29"/>
<polyline points="932.5,416.6 1121.5,165.2" fill="none" stroke="#e0474c" stroke-width="4.0" stroke-dasharray="18.54 12.36" stroke-dashoffset="0.49"/>
<text x="936.5" y="474.1" font-size="29.5" text-anchor="middle">0</text>
<text x="1092.3" y="474.1" font-size="29.5" text-anchor="middle">75</text>
<text x="1027.2" y="44.6" font-size="29.5" text-anchor="middle">-2.5</text>
<rect x="1133.2" y="55.4" width="186.7" height="390.4" fill="none" stroke="#231f20" stroke-width="4.2"/>
<line x1="1289.5" y1="445" x2="1289.5" y2="438" stroke="#231f20" stroke-width="3.6"/>
<line x1="1289.5" y1="55" x2="1289.5" y2="64.2" stroke="#231f20" stroke-width="3.6"/>
<line x1="1133.2" y1="229.0" x2="1142.7" y2="229.0" stroke="#231f20" stroke-width="3.6"/>
<line x1="1319.9" y1="229.0" x2="1310.4" y2="229.0" stroke="#231f20" stroke-width="3.6"/>
<line x1="1133.2" y1="402.8" x2="1142.7" y2="402.8" stroke="#231f20" stroke-width="3.6"/>
<line x1="1319.9" y1="402.8" x2="1310.4" y2="402.8" stroke="#231f20" stroke-width="3.6"/>
<polyline points="1142.7,330.5 1143.5,330.6 1144.3,330.8 1145.1,330.9 1145.9,331.0 1146.8,331.0 1147.6,330.9 1148.4,330.9 1149.2,330.8 1150.0,330.7 1150.8,330.6 1151.6,330.4 1152.4,330.1 1153.3,329.6 1154.1,329.1 1154.9,328.6 1155.7,328.0 1156.5,327.3 1157.3,326.5 1158.1,325.7 1158.9,324.9 1159.7,324.0 1160.6,323.1 1161.4,322.3 1162.2,321.6 1163.0,320.8 1163.8,320.1 1164.6,319.4 1165.4,318.7 1166.2,318.0 1167.1,317.3 1167.9,316.7 1168.7,316.0 1169.5,315.3 1170.3,314.6 1171.1,313.9 1171.9,313.3 1172.7,312.6 1173.6,311.9 1174.4,311.2 1175.2,310.5 1176.0,309.8 1176.8,309.1 1177.6,308.4 1178.4,307.7 1179.2,307.1 1180.0,306.4 1180.9,305.8 1181.7,305.2 1182.5,304.3 1183.3,303.7 1184.1,302.9 1184.9,302.2 1185.7,301.4 1186.5,300.5 1187.4,300.0 1188.2,299.4 1189.0,298.7 1189.8,298.4 1190.6,297.7 1191.4,297.3 1192.2,296.4 1193.0,295.7 1193.8,294.9 1194.7,294.0 1195.5,293.1 1196.3,292.5 1197.1,292.2 1197.9,291.7 1198.7,291.3 1199.5,290.6 1200.3,290.1 1201.2,289.5 1202.0,288.5 1202.8,287.4 1203.6,286.7 1204.4,285.9 1205.2,285.2 1206.0,284.1 1206.8,283.2 1207.6,282.2 1208.5,281.2 1209.3,280.0 1210.1,279.9 1210.9,279.3 1211.7,278.3 1212.5,278.5 1213.3,277.9 1214.1,277.6 1215.0,276.3 1215.8,275.9 1216.6,275.5 1217.4,274.9 1218.2,274.4 1219.0,273.5 1219.8,272.7 1220.6,271.7 1221.5,271.2 1222.3,270.4 1223.1,269.8 1223.9,269.4 1224.7,268.7 1225.5,268.8 1226.3,267.9 1227.1,267.0 1227.9,266.1 1228.8,265.2 1229.6,264.5 1230.4,263.9 1231.2,263.4 1232.0,262.3 1232.8,261.5 1233.6,260.4 1234.4,260.1 1235.3,259.2 1236.1,258.2 1236.9,258.2 1237.7,257.6 1238.5,257.4 1239.3,256.9 1240.1,255.8 1240.9,254.9 1241.7,254.2 1242.6,253.7 1243.4,253.1 1244.2,252.2 1245.0,251.4 1245.8,250.5 1246.6,249.9 1247.4,249.0 1248.2,247.7 1249.1,246.4 1249.9,246.3 1250.7,246.2 1251.5,245.3 1252.3,244.9 1253.1,244.4 1253.9,243.7 1254.7,242.5 1255.6,241.4 1256.4,240.6 1257.2,239.4 1258.0,238.9 1258.8,238.4 1259.6,237.9 1260.4,237.7 1261.2,237.5 1262.0,237.5 1262.9,236.8 1263.7,236.3 1264.5,235.5 1265.3,234.9 1266.1,234.3 1266.9,233.0 1267.7,232.5 1268.5,231.6 1269.4,231.0 1270.2,230.1 1271.0,228.9 1271.8,228.6 1272.6,227.3 1273.4,226.5 1274.2,225.8 1275.0,224.8 1275.8,224.3 1276.7,222.9 1277.5,222.7 1278.3,221.8 1279.1,221.1 1279.9,220.8 1280.7,220.6 1281.5,220.7 1282.3,220.4 1283.2,220.2 1284.0,220.1 1284.8,219.2 1285.6,217.8 1286.4,216.5 1287.2,215.4 1288.0,215.0 1288.8,213.5 1289.6,212.8 1290.5,212.0 1291.3,211.6 1292.1,210.7 1292.9,209.3 1293.7,209.2 1294.5,208.1 1295.3,207.2 1296.1,206.7 1297.0,206.5 1297.8,206.1 1298.6,205.0 1299.4,204.9 1300.2,204.4 1301.0,203.8 1301.8,202.7 1302.6,201.8 1303.5,201.0 1304.3,200.4 1305.1,200.1 1305.9,199.6 1306.7,198.9 1307.5,198.1 1308.3,197.2 1309.1,197.1 1309.9,195.9 1310.8,194.9 1311.6,194.9 1312.4,194.4 1313.2,194.0 1314.0,192.6 1314.8,191.7 1315.6,191.1 1316.4,190.2 1317.3,189.1 1318.1,188.8 1318.9,188.2 1319.7,187.8 1320.5,186.9" fill="none" stroke="#6d6e71" stroke-width="3.8" stroke-linejoin="round" stroke-linecap="round"/>
<polyline points="1132.5,346.8 1321.0,186.5" fill="none" stroke="#cf3c44" stroke-width="4.0" stroke-dasharray="18.48 12.32" stroke-dashoffset="7.59"/>
<text x="1133.7" y="474.1" font-size="29.5" text-anchor="middle">0</text>
<text x="1289.5" y="474.1" font-size="29.5" text-anchor="middle">75</text>
<text x="1226.6" y="44.6" font-size="29.5" text-anchor="middle">1.5</text>
<rect x="1333.4" y="55.4" width="188.2" height="390.4" fill="none" stroke="#231f20" stroke-width="4.2"/>
<line x1="1489.7" y1="445" x2="1489.7" y2="438" stroke="#231f20" stroke-width="3.6"/>
<line x1="1489.7" y1="55" x2="1489.7" y2="64.2" stroke="#231f20" stroke-width="3.6"/>
<line x1="1333.4" y1="229.0" x2="1342.9" y2="229.0" stroke="#231f20" stroke-width="3.6"/>
<line x1="1521.6" y1="229.0" x2="1512.1" y2="229.0" stroke="#231f20" stroke-width="3.6"/>
<line x1="1333.4" y1="402.8" x2="1342.9" y2="402.8" stroke="#231f20" stroke-width="3.6"/>
<line x1="1521.6" y1="402.8" x2="1512.1" y2="402.8" stroke="#231f20" stroke-width="3.6"/>
<polyline points="1335.0,363.3 1335.9,363.2 1336.7,363.1 1337.6,363.0 1338.4,363.0 1339.3,362.9 1340.1,362.7 1341.0,362.6 1341.8,362.4 1342.7,362.1 1343.6,361.7 1344.4,361.2 1345.3,360.7 1346.1,360.1 1347.0,359.5 1347.8,358.8 1348.7,358.1 1349.6,357.3 1350.4,356.4 1351.3,355.5 1352.1,354.5 1353.0,353.5 1353.8,352.5 1354.7,351.5 1355.5,350.5 1356.4,349.4 1357.3,348.2 1358.1,347.0 1359.0,345.7 1359.8,344.4 1360.7,343.0 1361.5,341.6 1362.4,340.2 1363.3,338.7 1364.1,337.2 1365.0,335.6 1365.8,334.1 1366.7,332.6 1367.5,331.2 1368.4,329.8 1369.2,328.4 1370.1,327.0 1371.0,325.7 1371.8,324.3 1372.7,322.9 1373.5,321.4 1374.4,319.8 1375.2,318.1 1376.1,316.4 1377.0,314.7 1377.8,312.9 1378.7,311.3 1379.5,309.7 1380.4,308.4 1381.2,306.9 1382.1,305.8 1382.9,304.9 1383.8,304.0 1384.7,303.1 1385.5,302.2 1386.4,301.4 1387.2,300.1 1388.1,299.2 1388.9,298.4 1389.8,297.9 1390.7,297.0 1391.5,295.7 1392.4,295.3 1393.2,294.0 1394.1,293.6 1394.9,293.0 1395.8,292.3 1396.6,291.9 1397.5,290.8 1398.4,290.7 1399.2,289.6 1400.1,288.4 1400.9,287.7 1401.8,287.9 1402.6,287.7 1403.5,287.0 1404.3,286.7 1405.2,286.5 1406.1,286.2 1406.9,284.7 1407.8,283.9 1408.6,282.8 1409.5,281.7 1410.3,281.0 1411.2,279.9 1412.1,279.4 1412.9,278.6 1413.8,278.0 1414.6,277.7 1415.5,276.6 1416.3,275.9 1417.2,275.4 1418.0,275.1 1418.9,274.8 1419.8,273.9 1420.6,272.9 1421.5,272.5 1422.3,271.9 1423.2,271.3 1424.0,270.2 1424.9,270.2 1425.8,269.7 1426.6,269.0 1427.5,268.2 1428.3,267.1 1429.2,266.9 1430.0,265.4 1430.9,264.4 1431.7,263.2 1432.6,262.7 1433.5,262.8 1434.3,261.4 1435.2,260.8 1436.0,261.2 1436.9,261.1 1437.7,260.2 1438.6,258.5 1439.5,257.7 1440.3,256.8 1441.2,255.6 1442.0,254.1 1442.9,253.1 1443.7,252.9 1444.6,252.6 1445.4,251.9 1446.3,251.3 1447.2,251.0 1448.0,251.1 1448.9,250.8 1449.7,250.8 1450.6,250.5 1451.4,250.2 1452.3,250.2 1453.2,249.7 1454.0,249.0 1454.9,248.1 1455.7,247.0 1456.6,245.7 1457.4,244.8 1458.3,243.6 1459.1,242.5 1460.0,241.3 1460.9,240.4 1461.7,240.6 1462.6,239.8 1463.4,238.8 1464.3,238.3 1465.1,237.9 1466.0,237.8 1466.8,237.3 1467.7,236.5 1468.6,235.8 1469.4,235.0 1470.3,234.1 1471.1,233.4 1472.0,232.2 1472.8,231.6 1473.7,231.1 1474.6,230.6 1475.4,229.9 1476.3,229.2 1477.1,228.4 1478.0,227.3 1478.8,226.9 1479.7,226.0 1480.5,225.8 1481.4,225.1 1482.3,224.7 1483.1,224.4 1484.0,223.5 1484.8,222.4 1485.7,221.6 1486.5,220.6 1487.4,220.1 1488.3,219.2 1489.1,218.5 1490.0,218.4 1490.8,217.1 1491.7,216.6 1492.5,215.8 1493.4,215.2 1494.2,214.2 1495.1,213.4 1496.0,213.1 1496.8,212.8 1497.7,212.2 1498.5,211.8 1499.4,211.2 1500.2,210.9 1501.1,210.2 1502.0,209.1 1502.8,208.5 1503.7,207.9 1504.5,207.6 1505.4,206.4 1506.2,205.5 1507.1,204.4 1507.9,203.5 1508.8,202.7 1509.7,202.1 1510.5,201.9 1511.4,201.3 1512.2,201.7 1513.1,200.6 1513.9,199.6 1514.8,198.5 1515.7,197.9 1516.5,197.2 1517.4,195.8 1518.2,195.1 1519.1,195.2 1519.9,194.6 1520.8,193.4 1521.6,192.8 1522.5,192.3" fill="none" stroke="#6d6e71" stroke-width="3.8" stroke-linejoin="round" stroke-linecap="round"/>
<polyline points="1333.4,363.3 1334.5,363.2 1335.6,363.1 1336.7,363.0 1337.7,362.8 1338.8,362.5 1339.9,362.1 1341.0,361.7 1342.1,361.2 1343.2,360.7 1344.3,360.1 1345.3,359.4 1346.4,358.7 1347.5,357.9 1348.6,357.1 1349.7,356.1 1350.8,355.2 1351.8,354.1 1352.9,353.0 1354.0,351.8 1355.1,350.6 1356.2,349.3 1357.3,347.9 1358.4,346.5 1359.4,345.0 1360.5,343.5 1361.6,341.9 1362.7,340.2 1363.8,338.4 1364.9,336.6 1366.0,334.8 1367.0,332.8 1368.1,330.9 1369.2,328.8 1370.3,326.7 1371.4,324.5 1372.5,322.2 1373.5,319.9 1374.6,317.6 1375.7,315.1 1376.8,312.6 1377.9,310.1 1379.0,307.4 1380.1,304.7 1381.1,302.0 1382.2,299.2 1383.3,296.3 1384.4,293.3 1385.5,290.3 1386.6,287.3 1387.7,284.1 1388.7,280.9 1389.8,277.7 1390.9,274.4 1392.0,271.0 1393.1,267.5 1394.2,264.0 1395.3,260.4 1396.3,256.8 1397.4,253.1 1398.5,249.3 1399.6,245.5 1400.7,241.6 1401.8,237.6 1402.8,233.6 1403.9,229.5 1405.0,225.4 1406.1,221.2 1407.2,216.9 1408.3,212.6 1409.4,208.2 1410.4,203.7 1411.5,199.2 1412.6,194.6 1413.7,189.9 1414.8,185.2 1415.9,180.5 1417.0,175.6 1418.0,170.7 1419.1,165.7 1420.2,160.7 1421.3,155.6 1422.4,150.5 1423.5,145.2 1424.6,139.9 1425.6,134.6 1426.7,129.2 1427.8,123.7 1428.9,118.2 1430.0,112.6 1431.1,106.9 1432.1,101.2 1433.2,95.4 1434.3,89.5 1435.4,83.6 1436.5,77.6 1437.6,71.6 1438.7,65.5 1439.7,59.3 1440.8,53.1" fill="none" stroke="#3b79b7" stroke-width="4.0" stroke-dasharray="18.89 10.62" stroke-dashoffset="3.16"/>
<polyline points="1333.0,342.0 1523.0,192.3" fill="none" stroke="#cf3c44" stroke-width="4.0" stroke-dasharray="17.58 11.72" stroke-dashoffset="0.49"/>
<text x="1333.9" y="474.1" font-size="29.5" text-anchor="middle">0</text>
<text x="1489.7" y="474.1" font-size="29.5" text-anchor="middle">75</text>
<text x="1427.5" y="44.6" font-size="29.5" text-anchor="middle">2.5</text>
<text x="843" y="66.4" font-size="33" font-weight="bold">c</text>
<text x="931.5" y="65" font-size="29.5" text-anchor="end">500</text>
<text x="930.5" y="238.4" font-size="29.5" text-anchor="end">300</text>
<text x="931.5" y="457.3" font-size="29.5" text-anchor="end">100</text>
<text transform="translate(856.5,250) rotate(-90)" font-size="29.5" text-anchor="middle"><tspan font-style="italic">R</tspan><tspan font-style="italic" font-size="16.5" dy="11">xx</tspan><tspan dy="-11"> (Ω)</tspan></text>
<text x="1228.5" y="508.2" font-size="29.5" text-anchor="middle"><tspan font-style="italic">T</tspan> (K)</text>
<text x="1116.2" y="400.7" font-size="21" text-anchor="end">3.17T + 85</text>
<text x="1113" y="431.7" font-size="21" text-anchor="end">0.139T<tspan font-size="16.5" dy="-9.3">2</tspan><tspan dy="9.3"> + 87.7</tspan></text>
<text x="1312" y="431.7" font-size="21" text-anchor="end">2.04T + 165.1</text>
<text x="1511" y="400.7" font-size="21" text-anchor="end">1.89T + 170.3</text>
<text x="1511" y="431.7" font-size="21" text-anchor="end">0.131T<tspan font-size="16.5" dy="-9.3">2</tspan><tspan dy="9.3"> + 145.5</tspan></text>
</g>
</svg>
</body></html>
